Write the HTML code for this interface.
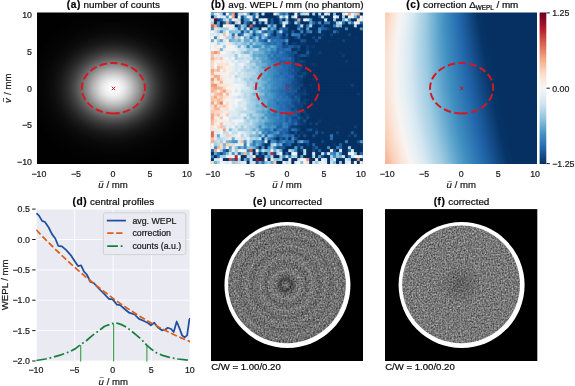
<!DOCTYPE html>
<html><head><meta charset="utf-8"><title>figure</title>
<style>html,body{margin:0;padding:0;background:#fff}svg{display:block}text{opacity:.999;stroke:#1a1a1a;stroke-width:.22px}</style></head>
<body>
<svg width="575" height="386" viewBox="0 0 575 386" font-family="'Liberation Sans', sans-serif" fill="#1a1a1a">
<defs>
<linearGradient id="cb" x1="0" y1="0" x2="0" y2="1"><stop offset="0.00" stop-color="#67001f"/><stop offset="0.05" stop-color="#8a0b25"/><stop offset="0.10" stop-color="#b1182b"/><stop offset="0.15" stop-color="#c43b3c"/><stop offset="0.20" stop-color="#d6604d"/><stop offset="0.25" stop-color="#e48066"/><stop offset="0.30" stop-color="#f3a481"/><stop offset="0.35" stop-color="#f8bfa4"/><stop offset="0.40" stop-color="#fddbc7"/><stop offset="0.45" stop-color="#fae9df"/><stop offset="0.50" stop-color="#f7f6f6"/><stop offset="0.55" stop-color="#e4eef4"/><stop offset="0.60" stop-color="#d1e5f0"/><stop offset="0.65" stop-color="#b1d5e7"/><stop offset="0.70" stop-color="#90c4dd"/><stop offset="0.75" stop-color="#6bacd1"/><stop offset="0.80" stop-color="#4393c3"/><stop offset="0.85" stop-color="#327cb7"/><stop offset="0.90" stop-color="#2065ab"/><stop offset="0.95" stop-color="#124984"/><stop offset="1.00" stop-color="#053061"/></linearGradient>
<linearGradient id="cg" gradientUnits="userSpaceOnUse"><stop offset="0.0000" stop-color="#a51429"/><stop offset="0.0357" stop-color="#c2383a"/><stop offset="0.0714" stop-color="#d86551"/><stop offset="0.1071" stop-color="#ea8e70"/><stop offset="0.1429" stop-color="#f6b394"/><stop offset="0.1786" stop-color="#fbd0b9"/><stop offset="0.2143" stop-color="#fbe5d8"/><stop offset="0.2500" stop-color="#f8f4f2"/><stop offset="0.2857" stop-color="#e7f0f4"/><stop offset="0.3214" stop-color="#d5e7f1"/><stop offset="0.3571" stop-color="#b8d8e9"/><stop offset="0.3929" stop-color="#9dcbe1"/><stop offset="0.4286" stop-color="#7bb6d6"/><stop offset="0.4643" stop-color="#59a1ca"/><stop offset="0.5000" stop-color="#3f8ec0"/><stop offset="0.5357" stop-color="#327cb7"/><stop offset="0.5714" stop-color="#246aae"/><stop offset="0.6071" stop-color="#1a5899"/><stop offset="0.6429" stop-color="#10457e"/><stop offset="0.6786" stop-color="#073467"/><stop offset="0.7143" stop-color="#053061"/><stop offset="0.7500" stop-color="#053061"/><stop offset="0.7857" stop-color="#053061"/><stop offset="0.8214" stop-color="#053061"/><stop offset="0.8571" stop-color="#053061"/><stop offset="0.8929" stop-color="#053061"/><stop offset="0.9286" stop-color="#053061"/><stop offset="0.9643" stop-color="#053061"/><stop offset="1.0000" stop-color="#053061"/></linearGradient>
<linearGradient id="c0" href="#cg" x1="355.35" y1="0" x2="535.28" y2="0"/><linearGradient id="c1" href="#cg" x1="354.60" y1="0" x2="536.12" y2="0"/><linearGradient id="c2" href="#cg" x1="353.87" y1="0" x2="536.96" y2="0"/><linearGradient id="c3" href="#cg" x1="353.15" y1="0" x2="537.79" y2="0"/><linearGradient id="c4" href="#cg" x1="352.46" y1="0" x2="538.61" y2="0"/><linearGradient id="c5" href="#cg" x1="351.78" y1="0" x2="539.42" y2="0"/><linearGradient id="c6" href="#cg" x1="351.13" y1="0" x2="540.23" y2="0"/><linearGradient id="c7" href="#cg" x1="350.49" y1="0" x2="541.04" y2="0"/><linearGradient id="c8" href="#cg" x1="349.88" y1="0" x2="541.83" y2="0"/><linearGradient id="c9" href="#cg" x1="349.28" y1="0" x2="542.62" y2="0"/><linearGradient id="c10" href="#cg" x1="348.71" y1="0" x2="543.40" y2="0"/><linearGradient id="c11" href="#cg" x1="348.15" y1="0" x2="544.18" y2="0"/><linearGradient id="c12" href="#cg" x1="347.62" y1="0" x2="544.95" y2="0"/><linearGradient id="c13" href="#cg" x1="347.10" y1="0" x2="545.71" y2="0"/><linearGradient id="c14" href="#cg" x1="346.61" y1="0" x2="546.47" y2="0"/><linearGradient id="c15" href="#cg" x1="346.13" y1="0" x2="547.22" y2="0"/><linearGradient id="c16" href="#cg" x1="345.68" y1="0" x2="547.96" y2="0"/><linearGradient id="c17" href="#cg" x1="345.24" y1="0" x2="548.70" y2="0"/><linearGradient id="c18" href="#cg" x1="344.83" y1="0" x2="549.43" y2="0"/><linearGradient id="c19" href="#cg" x1="344.43" y1="0" x2="550.15" y2="0"/><linearGradient id="c20" href="#cg" x1="344.06" y1="0" x2="550.87" y2="0"/><linearGradient id="c21" href="#cg" x1="343.70" y1="0" x2="551.58" y2="0"/><linearGradient id="c22" href="#cg" x1="343.36" y1="0" x2="552.29" y2="0"/><linearGradient id="c23" href="#cg" x1="343.05" y1="0" x2="552.99" y2="0"/><linearGradient id="c24" href="#cg" x1="342.75" y1="0" x2="553.68" y2="0"/><linearGradient id="c25" href="#cg" x1="342.48" y1="0" x2="554.36" y2="0"/><linearGradient id="c26" href="#cg" x1="342.22" y1="0" x2="555.04" y2="0"/><linearGradient id="c27" href="#cg" x1="341.98" y1="0" x2="555.71" y2="0"/><linearGradient id="c28" href="#cg" x1="341.77" y1="0" x2="556.38" y2="0"/><linearGradient id="c29" href="#cg" x1="341.57" y1="0" x2="557.04" y2="0"/><linearGradient id="c30" href="#cg" x1="341.39" y1="0" x2="557.69" y2="0"/><linearGradient id="c31" href="#cg" x1="341.24" y1="0" x2="558.34" y2="0"/><linearGradient id="c32" href="#cg" x1="341.10" y1="0" x2="558.98" y2="0"/><linearGradient id="c33" href="#cg" x1="340.98" y1="0" x2="559.61" y2="0"/><linearGradient id="c34" href="#cg" x1="340.88" y1="0" x2="560.24" y2="0"/><linearGradient id="c35" href="#cg" x1="340.81" y1="0" x2="560.86" y2="0"/><linearGradient id="c36" href="#cg" x1="340.75" y1="0" x2="561.47" y2="0"/><linearGradient id="c37" href="#cg" x1="340.71" y1="0" x2="562.08" y2="0"/><linearGradient id="c38" href="#cg" x1="340.70" y1="0" x2="562.68" y2="0"/><linearGradient id="c39" href="#cg" x1="340.70" y1="0" x2="563.27" y2="0"/><linearGradient id="c40" href="#cg" x1="340.72" y1="0" x2="563.86" y2="0"/><linearGradient id="c41" href="#cg" x1="340.76" y1="0" x2="564.44" y2="0"/><linearGradient id="c42" href="#cg" x1="340.82" y1="0" x2="565.01" y2="0"/><linearGradient id="c43" href="#cg" x1="340.91" y1="0" x2="565.58" y2="0"/><linearGradient id="c44" href="#cg" x1="341.01" y1="0" x2="566.14" y2="0"/><linearGradient id="c45" href="#cg" x1="341.13" y1="0" x2="566.70" y2="0"/><linearGradient id="c46" href="#cg" x1="341.27" y1="0" x2="567.25" y2="0"/><linearGradient id="c47" href="#cg" x1="341.43" y1="0" x2="567.79" y2="0"/><linearGradient id="c48" href="#cg" x1="341.61" y1="0" x2="568.32" y2="0"/><linearGradient id="c49" href="#cg" x1="341.82" y1="0" x2="568.85" y2="0"/><linearGradient id="c50" href="#cg" x1="342.04" y1="0" x2="569.38" y2="0"/><linearGradient id="c51" href="#cg" x1="342.28" y1="0" x2="569.89" y2="0"/><linearGradient id="c52" href="#cg" x1="342.54" y1="0" x2="570.40" y2="0"/><linearGradient id="c53" href="#cg" x1="342.82" y1="0" x2="570.90" y2="0"/><linearGradient id="c54" href="#cg" x1="343.12" y1="0" x2="571.40" y2="0"/><linearGradient id="c55" href="#cg" x1="343.44" y1="0" x2="571.89" y2="0"/><linearGradient id="c56" href="#cg" x1="343.78" y1="0" x2="572.37" y2="0"/><linearGradient id="c57" href="#cg" x1="344.14" y1="0" x2="572.85" y2="0"/><linearGradient id="c58" href="#cg" x1="344.52" y1="0" x2="573.32" y2="0"/><linearGradient id="c59" href="#cg" x1="344.92" y1="0" x2="573.79" y2="0"/><linearGradient id="c60" href="#cg" x1="345.34" y1="0" x2="574.24" y2="0"/><linearGradient id="c61" href="#cg" x1="345.78" y1="0" x2="574.69" y2="0"/><linearGradient id="c62" href="#cg" x1="346.24" y1="0" x2="575.14" y2="0"/><linearGradient id="c63" href="#cg" x1="346.72" y1="0" x2="575.58" y2="0"/><linearGradient id="c64" href="#cg" x1="347.22" y1="0" x2="576.01" y2="0"/><linearGradient id="c65" href="#cg" x1="347.74" y1="0" x2="576.43" y2="0"/><linearGradient id="c66" href="#cg" x1="348.28" y1="0" x2="576.85" y2="0"/><linearGradient id="c67" href="#cg" x1="348.84" y1="0" x2="577.26" y2="0"/><linearGradient id="c68" href="#cg" x1="349.42" y1="0" x2="577.67" y2="0"/><linearGradient id="c69" href="#cg" x1="350.02" y1="0" x2="578.07" y2="0"/><linearGradient id="c70" href="#cg" x1="350.64" y1="0" x2="578.46" y2="0"/><linearGradient id="c71" href="#cg" x1="351.28" y1="0" x2="578.84" y2="0"/><linearGradient id="c72" href="#cg" x1="351.94" y1="0" x2="579.22" y2="0"/><linearGradient id="c73" href="#cg" x1="352.62" y1="0" x2="579.60" y2="0"/><linearGradient id="c74" href="#cg" x1="353.32" y1="0" x2="579.96" y2="0"/><linearGradient id="c75" href="#cg" x1="354.04" y1="0" x2="580.32" y2="0"/>
<filter id="nz1" x="0" y="0" width="1" height="1" color-interpolation-filters="sRGB"><feTurbulence type="fractalNoise" baseFrequency="0.58 0.66" numOctaves="2" seed="3"/><feColorMatrix type="matrix" values="1 0 0 0 0  1 0 0 0 0  1 0 0 0 0  0 0 0 0 1" result="t1"/><feTurbulence type="fractalNoise" baseFrequency="0.73 0.52" numOctaves="1" seed="8"/><feColorMatrix type="matrix" values="1 0 0 0 0  1 0 0 0 0  1 0 0 0 0  0 0 0 0 1" result="t2"/><feComposite in="t1" in2="t2" operator="arithmetic" k1="0" k2="0.5" k3="0.5" k4="0" result="a"/><feColorMatrix in="a" type="matrix" values="0.96 0 0 0 -0.04  0.96 0 0 0 -0.04  0.96 0 0 0 -0.04  0 0 0 0 1" result="c"/><feGaussianBlur in="c" stdDeviation="0.6"/></filter>
<filter id="nz2" x="0" y="0" width="1" height="1" color-interpolation-filters="sRGB"><feTurbulence type="fractalNoise" baseFrequency="0.58 0.66" numOctaves="2" seed="11"/><feColorMatrix type="matrix" values="1 0 0 0 0  1 0 0 0 0  1 0 0 0 0  0 0 0 0 1" result="t1"/><feTurbulence type="fractalNoise" baseFrequency="0.73 0.52" numOctaves="1" seed="16"/><feColorMatrix type="matrix" values="1 0 0 0 0  1 0 0 0 0  1 0 0 0 0  0 0 0 0 1" result="t2"/><feComposite in="t1" in2="t2" operator="arithmetic" k1="0" k2="0.5" k3="0.5" k4="0" result="a"/><feColorMatrix in="a" type="matrix" values="0.96 0 0 0 -0.01  0.96 0 0 0 -0.01  0.96 0 0 0 -0.01  0 0 0 0 1" result="c"/><feGaussianBlur in="c" stdDeviation="0.6"/></filter>
<filter id="rb" x="-0.1" y="-0.1" width="1.2" height="1.2"><feGaussianBlur stdDeviation="1.3"/></filter>
<radialGradient id="rg" cx="0.5" cy="0.5" r="0.5"><stop offset="0.0000" stop-color="#fff" stop-opacity="0.1"/><stop offset="0.0371" stop-color="#000" stop-opacity="0.0"/><stop offset="0.0927" stop-color="#000" stop-opacity="0.4"/><stop offset="0.1433" stop-color="#000" stop-opacity="0.16"/><stop offset="0.1855" stop-color="#000" stop-opacity="0"/><stop offset="0.2361" stop-color="#fff" stop-opacity="0.13"/><stop offset="0.2867" stop-color="#fff" stop-opacity="0"/><stop offset="0.3373" stop-color="#000" stop-opacity="0.13"/><stop offset="0.3879" stop-color="#000" stop-opacity="0"/><stop offset="0.4384" stop-color="#fff" stop-opacity="0.11"/><stop offset="0.4975" stop-color="#fff" stop-opacity="0"/><stop offset="0.5565" stop-color="#000" stop-opacity="0.11"/><stop offset="0.6071" stop-color="#000" stop-opacity="0"/><stop offset="0.6577" stop-color="#fff" stop-opacity="0.09"/><stop offset="0.7083" stop-color="#fff" stop-opacity="0"/><stop offset="0.7589" stop-color="#000" stop-opacity="0.09"/><stop offset="0.8094" stop-color="#000" stop-opacity="0"/><stop offset="0.8600" stop-color="#fff" stop-opacity="0.07"/><stop offset="0.9106" stop-color="#fff" stop-opacity="0"/><stop offset="0.9612" stop-color="#000" stop-opacity="0.07"/><stop offset="1.0000" stop-color="#000" stop-opacity="0"/></radialGradient>
<radialGradient id="dk" cx="0.5" cy="0.5" r="0.5"><stop offset="0" stop-color="#000" stop-opacity="0.22"/><stop offset="1" stop-color="#000" stop-opacity="0"/></radialGradient>
</defs>
<rect width="575" height="386" fill="#fff"/>
<radialGradient id="ga1"><stop offset="0.0000" stop-color="#fff" stop-opacity="1.0000"/><stop offset="0.0385" stop-color="#fff" stop-opacity="0.9882"/><stop offset="0.0769" stop-color="#fff" stop-opacity="0.9538"/><stop offset="0.1154" stop-color="#fff" stop-opacity="0.8990"/><stop offset="0.1538" stop-color="#fff" stop-opacity="0.8275"/><stop offset="0.1923" stop-color="#fff" stop-opacity="0.7439"/><stop offset="0.2308" stop-color="#fff" stop-opacity="0.6531"/><stop offset="0.2692" stop-color="#fff" stop-opacity="0.5600"/><stop offset="0.3077" stop-color="#fff" stop-opacity="0.4689"/><stop offset="0.3462" stop-color="#fff" stop-opacity="0.3834"/><stop offset="0.3846" stop-color="#fff" stop-opacity="0.3062"/><stop offset="0.4231" stop-color="#fff" stop-opacity="0.2388"/><stop offset="0.4615" stop-color="#fff" stop-opacity="0.1819"/><stop offset="0.5000" stop-color="#fff" stop-opacity="0.1353"/><stop offset="0.5385" stop-color="#fff" stop-opacity="0.0983"/><stop offset="0.5769" stop-color="#fff" stop-opacity="0.0698"/><stop offset="0.6154" stop-color="#fff" stop-opacity="0.0483"/><stop offset="0.6538" stop-color="#fff" stop-opacity="0.0327"/><stop offset="0.6923" stop-color="#fff" stop-opacity="0.0216"/><stop offset="0.7308" stop-color="#fff" stop-opacity="0.0140"/><stop offset="0.7692" stop-color="#fff" stop-opacity="0.0088"/><stop offset="0.8077" stop-color="#fff" stop-opacity="0.0054"/><stop offset="0.8462" stop-color="#fff" stop-opacity="0.0033"/><stop offset="0.8846" stop-color="#fff" stop-opacity="0.0019"/><stop offset="0.9231" stop-color="#fff" stop-opacity="0.0011"/><stop offset="0.9615" stop-color="#fff" stop-opacity="0.0006"/><stop offset="1.0000" stop-color="#fff" stop-opacity="0.0003"/></radialGradient><radialGradient id="ga2"><stop offset="0.0000" stop-color="#fff" stop-opacity="0.0300"/><stop offset="0.0385" stop-color="#fff" stop-opacity="0.0296"/><stop offset="0.0769" stop-color="#fff" stop-opacity="0.0286"/><stop offset="0.1154" stop-color="#fff" stop-opacity="0.0270"/><stop offset="0.1538" stop-color="#fff" stop-opacity="0.0248"/><stop offset="0.1923" stop-color="#fff" stop-opacity="0.0223"/><stop offset="0.2308" stop-color="#fff" stop-opacity="0.0196"/><stop offset="0.2692" stop-color="#fff" stop-opacity="0.0168"/><stop offset="0.3077" stop-color="#fff" stop-opacity="0.0141"/><stop offset="0.3462" stop-color="#fff" stop-opacity="0.0115"/><stop offset="0.3846" stop-color="#fff" stop-opacity="0.0092"/><stop offset="0.4231" stop-color="#fff" stop-opacity="0.0072"/><stop offset="0.4615" stop-color="#fff" stop-opacity="0.0055"/><stop offset="0.5000" stop-color="#fff" stop-opacity="0.0041"/><stop offset="0.5385" stop-color="#fff" stop-opacity="0.0029"/><stop offset="0.5769" stop-color="#fff" stop-opacity="0.0021"/><stop offset="0.6154" stop-color="#fff" stop-opacity="0.0015"/><stop offset="0.6538" stop-color="#fff" stop-opacity="0.0010"/><stop offset="0.6923" stop-color="#fff" stop-opacity="0.0006"/><stop offset="0.7308" stop-color="#fff" stop-opacity="0.0004"/><stop offset="0.7692" stop-color="#fff" stop-opacity="0.0003"/><stop offset="0.8077" stop-color="#fff" stop-opacity="0.0002"/><stop offset="0.8462" stop-color="#fff" stop-opacity="0.0001"/><stop offset="0.8846" stop-color="#fff" stop-opacity="0.0001"/><stop offset="0.9231" stop-color="#fff" stop-opacity="0.0000"/><stop offset="0.9615" stop-color="#fff" stop-opacity="0.0000"/><stop offset="1.0000" stop-color="#fff" stop-opacity="0.0000"/></radialGradient>
<clipPath id="ak"><rect x="37.0" y="12.5" width="151.8" height="151.5"/></clipPath>
<rect x="37.0" y="12.5" width="151.8" height="151.5" fill="#000"/>
<g clip-path="url(#ak)"><ellipse cx="113.4" cy="88.2" rx="177.7" ry="177.4" fill="url(#ga2)"/><ellipse cx="113.4" cy="88.2" rx="96.3" ry="82.8" fill="url(#ga1)"/></g>
<rect x="210.9" y="12.5" width="151.9" height="151.5" fill="#08306b"/>
<clipPath id="cb_k"><rect x="0" y="0" width="151.90" height="151.50"/></clipPath><g transform="translate(210.9 12.5)" clip-path="url(#cb_k)"><defs><rect id="cb_" width="3.98" height="3.97"/></defs><use href="#cb_" x="0" y="0" fill="#65a9cf"/><use href="#cb_" x="3" y="0" fill="#d7e8f1"/><use href="#cb_" x="6" y="0" fill="#ddebf2"/><use href="#cb_" x="8.9" y="0" fill="#aed3e6"/><use href="#cb_" x="11.9" y="0" fill="#0f437b"/><use href="#cb_" x="14.9" y="0" fill="#f6f7f7"/><use href="#cb_" x="17.9" y="0" fill="#59a1ca"/><use href="#cb_" x="20.8" y="0" fill="#f09c7b"/><use href="#cb_" x="23.8" y="0" fill="#063264"/><use href="#cb_" x="26.8" y="0" fill="#bbdaea"/><use href="#cb_" x="29.8" y="0" fill="#b8d8e9"/><use href="#cb_" x="32.8" y="0" fill="#edf2f5"/><use href="#cb_" x="35.7" y="0" fill="#71b0d3"/><use href="#cb_" x="38.7" y="0" fill="#053061"/><use href="#cb_" x="41.7" y="0" fill="#2b73b3"/><use href="#cb_" x="44.7" y="0" fill="#a9d1e5"/><use href="#cb_" x="47.7" y="0" fill="#053061"/><use href="#cb_" x="50.6" y="0" fill="#d2e6f0"/><use href="#cb_" x="53.6" y="0" fill="#053061"/><use href="#cb_" x="56.6" y="0" fill="#053061"/><use href="#cb_" x="59.6" y="0" fill="#053061"/><use href="#cb_" x="62.5" y="0" fill="#edf2f5"/><use href="#cb_" x="65.5" y="0" fill="#9bc9e0"/><use href="#cb_" x="68.5" y="0" fill="#3681ba"/><use href="#cb_" x="71.5" y="0" fill="#2369ad"/><use href="#cb_" x="74.5" y="0" fill="#569fc9"/><use href="#cb_" x="77.4" y="0" fill="#053061"/><use href="#cb_" x="80.4" y="0" fill="#053061"/><use href="#cb_" x="83.4" y="0" fill="#e9f0f4"/><use href="#cb_" x="86.4" y="0" fill="#10457e"/><use href="#cb_" x="89.4" y="0" fill="#aed3e6"/><use href="#cb_" x="92.3" y="0" fill="#c2ddec"/><use href="#cb_" x="95.3" y="0" fill="#cae1ee"/><use href="#cb_" x="98.3" y="0" fill="#053061"/><use href="#cb_" x="101.3" y="0" fill="#a9d1e5"/><use href="#cb_" x="104.2" y="0" fill="#053061"/><use href="#cb_" x="107.2" y="0" fill="#b6d7e8"/><use href="#cb_" x="110.2" y="0" fill="#053061"/><use href="#cb_" x="113.2" y="0" fill="#e3edf3"/><use href="#cb_" x="116.2" y="0" fill="#c0dceb"/><use href="#cb_" x="119.1" y="0" fill="#053061"/><use href="#cb_" x="122.1" y="0" fill="#8ac0db"/><use href="#cb_" x="125.1" y="0" fill="#053061"/><use href="#cb_" x="128.1" y="0" fill="#053061"/><use href="#cb_" x="131.1" y="0" fill="#d8e9f1"/><use href="#cb_" x="134" y="0" fill="#f3f5f6"/><use href="#cb_" x="137" y="0" fill="#f3a481"/><use href="#cb_" x="140" y="0" fill="#e6eff4"/><use href="#cb_" x="143" y="0" fill="#bddbea"/><use href="#cb_" x="145.9" y="0" fill="#f5aa89"/><use href="#cb_" x="148.9" y="0" fill="#053061"/><use href="#cb_" x="0" y="3" fill="#053061"/><use href="#cb_" x="3" y="3" fill="#8dc2dc"/><use href="#cb_" x="6" y="3" fill="#e9f0f4"/><use href="#cb_" x="8.9" y="3" fill="#d2e6f0"/><use href="#cb_" x="11.9" y="3" fill="#e0ecf3"/><use href="#cb_" x="14.9" y="3" fill="#4c99c6"/><use href="#cb_" x="17.9" y="3" fill="#f0f4f6"/><use href="#cb_" x="20.8" y="3" fill="#f4a683"/><use href="#cb_" x="23.8" y="3" fill="#053061"/><use href="#cb_" x="26.8" y="3" fill="#f3f5f6"/><use href="#cb_" x="29.8" y="3" fill="#124984"/><use href="#cb_" x="32.8" y="3" fill="#59a1ca"/><use href="#cb_" x="35.7" y="3" fill="#e4eef4"/><use href="#cb_" x="38.7" y="3" fill="#d4e6f1"/><use href="#cb_" x="41.7" y="3" fill="#1f63a8"/><use href="#cb_" x="44.7" y="3" fill="#dbeaf2"/><use href="#cb_" x="47.7" y="3" fill="#063264"/><use href="#cb_" x="50.6" y="3" fill="#053061"/><use href="#cb_" x="53.6" y="3" fill="#053061"/><use href="#cb_" x="56.6" y="3" fill="#053061"/><use href="#cb_" x="59.6" y="3" fill="#053061"/><use href="#cb_" x="62.5" y="3" fill="#053061"/><use href="#cb_" x="65.5" y="3" fill="#134c87"/><use href="#cb_" x="68.5" y="3" fill="#e6eff4"/><use href="#cb_" x="71.5" y="3" fill="#7bb6d6"/><use href="#cb_" x="74.5" y="3" fill="#f0f4f6"/><use href="#cb_" x="77.4" y="3" fill="#053061"/><use href="#cb_" x="80.4" y="3" fill="#b1d5e7"/><use href="#cb_" x="83.4" y="3" fill="#f0f4f6"/><use href="#cb_" x="86.4" y="3" fill="#053061"/><use href="#cb_" x="89.4" y="3" fill="#053061"/><use href="#cb_" x="92.3" y="3" fill="#053061"/><use href="#cb_" x="95.3" y="3" fill="#053061"/><use href="#cb_" x="98.3" y="3" fill="#053061"/><use href="#cb_" x="101.3" y="3" fill="#053061"/><use href="#cb_" x="104.2" y="3" fill="#053061"/><use href="#cb_" x="107.2" y="3" fill="#185493"/><use href="#cb_" x="110.2" y="3" fill="#d1e5f0"/><use href="#cb_" x="113.2" y="3" fill="#053061"/><use href="#cb_" x="116.2" y="3" fill="#053061"/><use href="#cb_" x="119.1" y="3" fill="#053061"/><use href="#cb_" x="122.1" y="3" fill="#eff3f5"/><use href="#cb_" x="125.1" y="3" fill="#cfe4ef"/><use href="#cb_" x="128.1" y="3" fill="#053061"/><use href="#cb_" x="131.1" y="3" fill="#a9d1e5"/><use href="#cb_" x="134" y="3" fill="#053061"/><use href="#cb_" x="137" y="3" fill="#eff3f5"/><use href="#cb_" x="140" y="3" fill="#f3f5f6"/><use href="#cb_" x="143" y="3" fill="#7bb6d6"/><use href="#cb_" x="145.9" y="3" fill="#1b5a9c"/><use href="#cb_" x="148.9" y="3" fill="#f5f6f7"/><use href="#cb_" x="0" y="5.9" fill="#e0ecf3"/><use href="#cb_" x="3" y="5.9" fill="#730421"/><use href="#cb_" x="6" y="5.9" fill="#0e4179"/><use href="#cb_" x="8.9" y="5.9" fill="#1e61a5"/><use href="#cb_" x="11.9" y="5.9" fill="#a5cee3"/><use href="#cb_" x="14.9" y="5.9" fill="#d2e6f0"/><use href="#cb_" x="17.9" y="5.9" fill="#4393c3"/><use href="#cb_" x="20.8" y="5.9" fill="#e6eff4"/><use href="#cb_" x="23.8" y="5.9" fill="#deebf2"/><use href="#cb_" x="26.8" y="5.9" fill="#c0dceb"/><use href="#cb_" x="29.8" y="5.9" fill="#053061"/><use href="#cb_" x="32.8" y="5.9" fill="#3e8cbf"/><use href="#cb_" x="35.7" y="5.9" fill="#4695c4"/><use href="#cb_" x="38.7" y="5.9" fill="#d1e5f0"/><use href="#cb_" x="41.7" y="5.9" fill="#15508d"/><use href="#cb_" x="44.7" y="5.9" fill="#053061"/><use href="#cb_" x="47.7" y="5.9" fill="#d2e6f0"/><use href="#cb_" x="50.6" y="5.9" fill="#e7f0f4"/><use href="#cb_" x="53.6" y="5.9" fill="#f6f7f7"/><use href="#cb_" x="56.6" y="5.9" fill="#053061"/><use href="#cb_" x="59.6" y="5.9" fill="#1c5c9f"/><use href="#cb_" x="62.5" y="5.9" fill="#053061"/><use href="#cb_" x="65.5" y="5.9" fill="#053061"/><use href="#cb_" x="68.5" y="5.9" fill="#3a87bd"/><use href="#cb_" x="71.5" y="5.9" fill="#053061"/><use href="#cb_" x="74.5" y="5.9" fill="#7bb6d6"/><use href="#cb_" x="77.4" y="5.9" fill="#053061"/><use href="#cb_" x="80.4" y="5.9" fill="#053061"/><use href="#cb_" x="83.4" y="5.9" fill="#195696"/><use href="#cb_" x="86.4" y="5.9" fill="#f2a17f"/><use href="#cb_" x="89.4" y="5.9" fill="#0e4179"/><use href="#cb_" x="92.3" y="5.9" fill="#eff3f5"/><use href="#cb_" x="95.3" y="5.9" fill="#cfe4ef"/><use href="#cb_" x="98.3" y="5.9" fill="#4f9bc7"/><use href="#cb_" x="101.3" y="5.9" fill="#053061"/><use href="#cb_" x="104.2" y="5.9" fill="#053061"/><use href="#cb_" x="107.2" y="5.9" fill="#053061"/><use href="#cb_" x="110.2" y="5.9" fill="#053061"/><use href="#cb_" x="113.2" y="5.9" fill="#d8e9f1"/><use href="#cb_" x="116.2" y="5.9" fill="#053061"/><use href="#cb_" x="119.1" y="5.9" fill="#053061"/><use href="#cb_" x="122.1" y="5.9" fill="#90c4dd"/><use href="#cb_" x="125.1" y="5.9" fill="#053061"/><use href="#cb_" x="128.1" y="5.9" fill="#053061"/><use href="#cb_" x="131.1" y="5.9" fill="#71b0d3"/><use href="#cb_" x="134" y="5.9" fill="#e4eef4"/><use href="#cb_" x="137" y="5.9" fill="#3a87bd"/><use href="#cb_" x="140" y="5.9" fill="#053061"/><use href="#cb_" x="143" y="5.9" fill="#053061"/><use href="#cb_" x="145.9" y="5.9" fill="#fddcc9"/><use href="#cb_" x="148.9" y="5.9" fill="#f8f2ef"/><use href="#cb_" x="0" y="8.9" fill="#aed3e6"/><use href="#cb_" x="3" y="8.9" fill="#053061"/><use href="#cb_" x="6" y="8.9" fill="#5ca3cb"/><use href="#cb_" x="8.9" y="8.9" fill="#053061"/><use href="#cb_" x="11.9" y="8.9" fill="#1d5fa2"/><use href="#cb_" x="14.9" y="8.9" fill="#f3a481"/><use href="#cb_" x="17.9" y="8.9" fill="#2369ad"/><use href="#cb_" x="20.8" y="8.9" fill="#073467"/><use href="#cb_" x="23.8" y="8.9" fill="#acd2e5"/><use href="#cb_" x="26.8" y="8.9" fill="#fcdfcf"/><use href="#cb_" x="29.8" y="8.9" fill="#053061"/><use href="#cb_" x="32.8" y="8.9" fill="#3b88be"/><use href="#cb_" x="35.7" y="8.9" fill="#185493"/><use href="#cb_" x="38.7" y="8.9" fill="#053061"/><use href="#cb_" x="41.7" y="8.9" fill="#b3d6e8"/><use href="#cb_" x="44.7" y="8.9" fill="#053061"/><use href="#cb_" x="47.7" y="8.9" fill="#3b88be"/><use href="#cb_" x="50.6" y="8.9" fill="#053061"/><use href="#cb_" x="53.6" y="8.9" fill="#b6d7e8"/><use href="#cb_" x="56.6" y="8.9" fill="#073467"/><use href="#cb_" x="59.6" y="8.9" fill="#1d5fa2"/><use href="#cb_" x="62.5" y="8.9" fill="#053061"/><use href="#cb_" x="65.5" y="8.9" fill="#053061"/><use href="#cb_" x="68.5" y="8.9" fill="#276eb0"/><use href="#cb_" x="71.5" y="8.9" fill="#e0ecf3"/><use href="#cb_" x="74.5" y="8.9" fill="#b3d6e8"/><use href="#cb_" x="77.4" y="8.9" fill="#10457e"/><use href="#cb_" x="80.4" y="8.9" fill="#053061"/><use href="#cb_" x="83.4" y="8.9" fill="#acd2e5"/><use href="#cb_" x="86.4" y="8.9" fill="#327cb7"/><use href="#cb_" x="89.4" y="8.9" fill="#053061"/><use href="#cb_" x="92.3" y="8.9" fill="#053061"/><use href="#cb_" x="95.3" y="8.9" fill="#053061"/><use href="#cb_" x="98.3" y="8.9" fill="#5ca3cb"/><use href="#cb_" x="101.3" y="8.9" fill="#246aae"/><use href="#cb_" x="104.2" y="8.9" fill="#0e4179"/><use href="#cb_" x="107.2" y="8.9" fill="#4291c2"/><use href="#cb_" x="110.2" y="8.9" fill="#053061"/><use href="#cb_" x="113.2" y="8.9" fill="#307ab6"/><use href="#cb_" x="116.2" y="8.9" fill="#307ab6"/><use href="#cb_" x="119.1" y="8.9" fill="#053061"/><use href="#cb_" x="122.1" y="8.9" fill="#0f437b"/><use href="#cb_" x="125.1" y="8.9" fill="#a5cee3"/><use href="#cb_" x="128.1" y="8.9" fill="#d7e8f1"/><use href="#cb_" x="131.1" y="8.9" fill="#2a71b2"/><use href="#cb_" x="134" y="8.9" fill="#053061"/><use href="#cb_" x="137" y="8.9" fill="#7eb8d7"/><use href="#cb_" x="140" y="8.9" fill="#307ab6"/><use href="#cb_" x="143" y="8.9" fill="#f0f4f6"/><use href="#cb_" x="145.9" y="8.9" fill="#deebf2"/><use href="#cb_" x="148.9" y="8.9" fill="#246aae"/><use href="#cb_" x="0" y="11.9" fill="#d7634f"/><use href="#cb_" x="3" y="11.9" fill="#f5aa89"/><use href="#cb_" x="6" y="11.9" fill="#4393c3"/><use href="#cb_" x="8.9" y="11.9" fill="#053061"/><use href="#cb_" x="11.9" y="11.9" fill="#f6f7f7"/><use href="#cb_" x="14.9" y="11.9" fill="#f9eee7"/><use href="#cb_" x="17.9" y="11.9" fill="#f9efe9"/><use href="#cb_" x="20.8" y="11.9" fill="#eaf1f5"/><use href="#cb_" x="23.8" y="11.9" fill="#053061"/><use href="#cb_" x="26.8" y="11.9" fill="#2369ad"/><use href="#cb_" x="29.8" y="11.9" fill="#98c8e0"/><use href="#cb_" x="32.8" y="11.9" fill="#6bacd1"/><use href="#cb_" x="35.7" y="11.9" fill="#053061"/><use href="#cb_" x="38.7" y="11.9" fill="#d35a4a"/><use href="#cb_" x="41.7" y="11.9" fill="#0f437b"/><use href="#cb_" x="44.7" y="11.9" fill="#053061"/><use href="#cb_" x="47.7" y="11.9" fill="#053061"/><use href="#cb_" x="50.6" y="11.9" fill="#053061"/><use href="#cb_" x="53.6" y="11.9" fill="#053061"/><use href="#cb_" x="56.6" y="11.9" fill="#93c6de"/><use href="#cb_" x="59.6" y="11.9" fill="#266caf"/><use href="#cb_" x="62.5" y="11.9" fill="#81bad8"/><use href="#cb_" x="65.5" y="11.9" fill="#053061"/><use href="#cb_" x="68.5" y="11.9" fill="#053061"/><use href="#cb_" x="71.5" y="11.9" fill="#f0f4f6"/><use href="#cb_" x="74.5" y="11.9" fill="#053061"/><use href="#cb_" x="77.4" y="11.9" fill="#063264"/><use href="#cb_" x="80.4" y="11.9" fill="#053061"/><use href="#cb_" x="83.4" y="11.9" fill="#053061"/><use href="#cb_" x="86.4" y="11.9" fill="#1b5a9c"/><use href="#cb_" x="89.4" y="11.9" fill="#c2ddec"/><use href="#cb_" x="92.3" y="11.9" fill="#053061"/><use href="#cb_" x="95.3" y="11.9" fill="#307ab6"/><use href="#cb_" x="98.3" y="11.9" fill="#b6d7e8"/><use href="#cb_" x="101.3" y="11.9" fill="#053061"/><use href="#cb_" x="104.2" y="11.9" fill="#053061"/><use href="#cb_" x="107.2" y="11.9" fill="#053061"/><use href="#cb_" x="110.2" y="11.9" fill="#1a5899"/><use href="#cb_" x="113.2" y="11.9" fill="#053061"/><use href="#cb_" x="116.2" y="11.9" fill="#053061"/><use href="#cb_" x="119.1" y="11.9" fill="#053061"/><use href="#cb_" x="122.1" y="11.9" fill="#2f79b5"/><use href="#cb_" x="125.1" y="11.9" fill="#9dcbe1"/><use href="#cb_" x="128.1" y="11.9" fill="#75b2d4"/><use href="#cb_" x="131.1" y="11.9" fill="#053061"/><use href="#cb_" x="134" y="11.9" fill="#053061"/><use href="#cb_" x="137" y="11.9" fill="#053061"/><use href="#cb_" x="140" y="11.9" fill="#053061"/><use href="#cb_" x="143" y="11.9" fill="#c0dceb"/><use href="#cb_" x="145.9" y="11.9" fill="#053061"/><use href="#cb_" x="148.9" y="11.9" fill="#053061"/><use href="#cb_" x="0" y="14.9" fill="#3e8cbf"/><use href="#cb_" x="3" y="14.9" fill="#fddcc9"/><use href="#cb_" x="6" y="14.9" fill="#cce2ef"/><use href="#cb_" x="8.9" y="14.9" fill="#b8d8e9"/><use href="#cb_" x="11.9" y="14.9" fill="#a5cee3"/><use href="#cb_" x="14.9" y="14.9" fill="#a9d1e5"/><use href="#cb_" x="17.9" y="14.9" fill="#eaf1f5"/><use href="#cb_" x="20.8" y="14.9" fill="#d4e6f1"/><use href="#cb_" x="23.8" y="14.9" fill="#a9d1e5"/><use href="#cb_" x="26.8" y="14.9" fill="#2369ad"/><use href="#cb_" x="29.8" y="14.9" fill="#b8d8e9"/><use href="#cb_" x="32.8" y="14.9" fill="#307ab6"/><use href="#cb_" x="35.7" y="14.9" fill="#dbeaf2"/><use href="#cb_" x="38.7" y="14.9" fill="#0a3b70"/><use href="#cb_" x="41.7" y="14.9" fill="#408fc1"/><use href="#cb_" x="44.7" y="14.9" fill="#4393c3"/><use href="#cb_" x="47.7" y="14.9" fill="#053061"/><use href="#cb_" x="50.6" y="14.9" fill="#e0ecf3"/><use href="#cb_" x="53.6" y="14.9" fill="#c5dfec"/><use href="#cb_" x="56.6" y="14.9" fill="#185493"/><use href="#cb_" x="59.6" y="14.9" fill="#68abd0"/><use href="#cb_" x="62.5" y="14.9" fill="#3b88be"/><use href="#cb_" x="65.5" y="14.9" fill="#053061"/><use href="#cb_" x="68.5" y="14.9" fill="#2c75b4"/><use href="#cb_" x="71.5" y="14.9" fill="#1a5899"/><use href="#cb_" x="74.5" y="14.9" fill="#1c5c9f"/><use href="#cb_" x="77.4" y="14.9" fill="#053061"/><use href="#cb_" x="80.4" y="14.9" fill="#053061"/><use href="#cb_" x="83.4" y="14.9" fill="#053061"/><use href="#cb_" x="86.4" y="14.9" fill="#4393c3"/><use href="#cb_" x="89.4" y="14.9" fill="#144e8a"/><use href="#cb_" x="92.3" y="14.9" fill="#053061"/><use href="#cb_" x="95.3" y="14.9" fill="#529dc8"/><use href="#cb_" x="98.3" y="14.9" fill="#053061"/><use href="#cb_" x="101.3" y="14.9" fill="#053061"/><use href="#cb_" x="104.2" y="14.9" fill="#053061"/><use href="#cb_" x="107.2" y="14.9" fill="#408fc1"/><use href="#cb_" x="110.2" y="14.9" fill="#1e61a5"/><use href="#cb_" x="113.2" y="14.9" fill="#1b5a9c"/><use href="#cb_" x="116.2" y="14.9" fill="#0e4179"/><use href="#cb_" x="119.1" y="14.9" fill="#053061"/><use href="#cb_" x="122.1" y="14.9" fill="#053061"/><use href="#cb_" x="125.1" y="14.9" fill="#053061"/><use href="#cb_" x="128.1" y="14.9" fill="#053061"/><use href="#cb_" x="131.1" y="14.9" fill="#053061"/><use href="#cb_" x="134" y="14.9" fill="#3a87bd"/><use href="#cb_" x="137" y="14.9" fill="#053061"/><use href="#cb_" x="140" y="14.9" fill="#053061"/><use href="#cb_" x="143" y="14.9" fill="#053061"/><use href="#cb_" x="145.9" y="14.9" fill="#053061"/><use href="#cb_" x="148.9" y="14.9" fill="#4393c3"/><use href="#cb_" x="0" y="17.8" fill="#f5f6f7"/><use href="#cb_" x="3" y="17.8" fill="#d2e6f0"/><use href="#cb_" x="6" y="17.8" fill="#a2cde3"/><use href="#cb_" x="8.9" y="17.8" fill="#3f8ec0"/><use href="#cb_" x="11.9" y="17.8" fill="#b3d6e8"/><use href="#cb_" x="14.9" y="17.8" fill="#f3f5f6"/><use href="#cb_" x="17.9" y="17.8" fill="#81bad8"/><use href="#cb_" x="20.8" y="17.8" fill="#8dc2dc"/><use href="#cb_" x="23.8" y="17.8" fill="#84bcd9"/><use href="#cb_" x="26.8" y="17.8" fill="#a0cce2"/><use href="#cb_" x="29.8" y="17.8" fill="#15508d"/><use href="#cb_" x="32.8" y="17.8" fill="#65a9cf"/><use href="#cb_" x="35.7" y="17.8" fill="#2f79b5"/><use href="#cb_" x="38.7" y="17.8" fill="#bddbea"/><use href="#cb_" x="41.7" y="17.8" fill="#2a71b2"/><use href="#cb_" x="44.7" y="17.8" fill="#8ac0db"/><use href="#cb_" x="47.7" y="17.8" fill="#d1e5f0"/><use href="#cb_" x="50.6" y="17.8" fill="#2e77b5"/><use href="#cb_" x="53.6" y="17.8" fill="#1c5c9f"/><use href="#cb_" x="56.6" y="17.8" fill="#3885bc"/><use href="#cb_" x="59.6" y="17.8" fill="#2c75b4"/><use href="#cb_" x="62.5" y="17.8" fill="#053061"/><use href="#cb_" x="65.5" y="17.8" fill="#3a87bd"/><use href="#cb_" x="68.5" y="17.8" fill="#b6d7e8"/><use href="#cb_" x="71.5" y="17.8" fill="#144e8a"/><use href="#cb_" x="74.5" y="17.8" fill="#124984"/><use href="#cb_" x="77.4" y="17.8" fill="#053061"/><use href="#cb_" x="80.4" y="17.8" fill="#1d5fa2"/><use href="#cb_" x="83.4" y="17.8" fill="#053061"/><use href="#cb_" x="86.4" y="17.8" fill="#053061"/><use href="#cb_" x="89.4" y="17.8" fill="#3a87bd"/><use href="#cb_" x="92.3" y="17.8" fill="#053061"/><use href="#cb_" x="95.3" y="17.8" fill="#2a71b2"/><use href="#cb_" x="98.3" y="17.8" fill="#3a87bd"/><use href="#cb_" x="101.3" y="17.8" fill="#053061"/><use href="#cb_" x="104.2" y="17.8" fill="#0c3d73"/><use href="#cb_" x="107.2" y="17.8" fill="#4695c4"/><use href="#cb_" x="110.2" y="17.8" fill="#053061"/><use href="#cb_" x="113.2" y="17.8" fill="#053061"/><use href="#cb_" x="116.2" y="17.8" fill="#053061"/><use href="#cb_" x="119.1" y="17.8" fill="#053061"/><use href="#cb_" x="122.1" y="17.8" fill="#2a71b2"/><use href="#cb_" x="125.1" y="17.8" fill="#124984"/><use href="#cb_" x="128.1" y="17.8" fill="#053061"/><use href="#cb_" x="131.1" y="17.8" fill="#053061"/><use href="#cb_" x="134" y="17.8" fill="#053061"/><use href="#cb_" x="137" y="17.8" fill="#053061"/><use href="#cb_" x="140" y="17.8" fill="#053061"/><use href="#cb_" x="143" y="17.8" fill="#053061"/><use href="#cb_" x="145.9" y="17.8" fill="#053061"/><use href="#cb_" x="148.9" y="17.8" fill="#053061"/><use href="#cb_" x="0" y="20.8" fill="#d7e8f1"/><use href="#cb_" x="3" y="20.8" fill="#e3edf3"/><use href="#cb_" x="6" y="20.8" fill="#cfe4ef"/><use href="#cb_" x="8.9" y="20.8" fill="#ecf2f5"/><use href="#cb_" x="11.9" y="20.8" fill="#f9c2a7"/><use href="#cb_" x="14.9" y="20.8" fill="#e4eef4"/><use href="#cb_" x="17.9" y="20.8" fill="#bbdaea"/><use href="#cb_" x="20.8" y="20.8" fill="#2a71b2"/><use href="#cb_" x="23.8" y="20.8" fill="#c7e0ed"/><use href="#cb_" x="26.8" y="20.8" fill="#1b5a9c"/><use href="#cb_" x="29.8" y="20.8" fill="#2c75b4"/><use href="#cb_" x="32.8" y="20.8" fill="#cce2ef"/><use href="#cb_" x="35.7" y="20.8" fill="#b6d7e8"/><use href="#cb_" x="38.7" y="20.8" fill="#62a7ce"/><use href="#cb_" x="41.7" y="20.8" fill="#124984"/><use href="#cb_" x="44.7" y="20.8" fill="#3c8abe"/><use href="#cb_" x="47.7" y="20.8" fill="#2b73b3"/><use href="#cb_" x="50.6" y="20.8" fill="#71b0d3"/><use href="#cb_" x="53.6" y="20.8" fill="#d7e8f1"/><use href="#cb_" x="56.6" y="20.8" fill="#3b88be"/><use href="#cb_" x="59.6" y="20.8" fill="#144e8a"/><use href="#cb_" x="62.5" y="20.8" fill="#063264"/><use href="#cb_" x="65.5" y="20.8" fill="#246aae"/><use href="#cb_" x="68.5" y="20.8" fill="#1d5fa2"/><use href="#cb_" x="71.5" y="20.8" fill="#053061"/><use href="#cb_" x="74.5" y="20.8" fill="#1e61a5"/><use href="#cb_" x="77.4" y="20.8" fill="#053061"/><use href="#cb_" x="80.4" y="20.8" fill="#3783bb"/><use href="#cb_" x="83.4" y="20.8" fill="#307ab6"/><use href="#cb_" x="86.4" y="20.8" fill="#2e77b5"/><use href="#cb_" x="89.4" y="20.8" fill="#053061"/><use href="#cb_" x="92.3" y="20.8" fill="#134c87"/><use href="#cb_" x="95.3" y="20.8" fill="#053061"/><use href="#cb_" x="98.3" y="20.8" fill="#053061"/><use href="#cb_" x="101.3" y="20.8" fill="#053061"/><use href="#cb_" x="104.2" y="20.8" fill="#053061"/><use href="#cb_" x="107.2" y="20.8" fill="#053061"/><use href="#cb_" x="110.2" y="20.8" fill="#0c3d73"/><use href="#cb_" x="113.2" y="20.8" fill="#053061"/><use href="#cb_" x="116.2" y="20.8" fill="#053061"/><use href="#cb_" x="119.1" y="20.8" fill="#0f437b"/><use href="#cb_" x="122.1" y="20.8" fill="#053061"/><use href="#cb_" x="125.1" y="20.8" fill="#053061"/><use href="#cb_" x="128.1" y="20.8" fill="#053061"/><use href="#cb_" x="131.1" y="20.8" fill="#053061"/><use href="#cb_" x="134" y="20.8" fill="#053061"/><use href="#cb_" x="137" y="20.8" fill="#0f437b"/><use href="#cb_" x="140" y="20.8" fill="#053061"/><use href="#cb_" x="143" y="20.8" fill="#053061"/><use href="#cb_" x="145.9" y="20.8" fill="#053061"/><use href="#cb_" x="148.9" y="20.8" fill="#053061"/><use href="#cb_" x="0" y="23.8" fill="#f7f6f6"/><use href="#cb_" x="3" y="23.8" fill="#3c8abe"/><use href="#cb_" x="6" y="23.8" fill="#fddbc7"/><use href="#cb_" x="8.9" y="23.8" fill="#f3f5f6"/><use href="#cb_" x="11.9" y="23.8" fill="#fbe4d6"/><use href="#cb_" x="14.9" y="23.8" fill="#aed3e6"/><use href="#cb_" x="17.9" y="23.8" fill="#aed3e6"/><use href="#cb_" x="20.8" y="23.8" fill="#62a7ce"/><use href="#cb_" x="23.8" y="23.8" fill="#fbccb4"/><use href="#cb_" x="26.8" y="23.8" fill="#9dcbe1"/><use href="#cb_" x="29.8" y="23.8" fill="#f2f5f6"/><use href="#cb_" x="32.8" y="23.8" fill="#62a7ce"/><use href="#cb_" x="35.7" y="23.8" fill="#93c6de"/><use href="#cb_" x="38.7" y="23.8" fill="#246aae"/><use href="#cb_" x="41.7" y="23.8" fill="#4f9bc7"/><use href="#cb_" x="44.7" y="23.8" fill="#a2cde3"/><use href="#cb_" x="47.7" y="23.8" fill="#2267ac"/><use href="#cb_" x="50.6" y="23.8" fill="#8dc2dc"/><use href="#cb_" x="53.6" y="23.8" fill="#4997c5"/><use href="#cb_" x="56.6" y="23.8" fill="#195696"/><use href="#cb_" x="59.6" y="23.8" fill="#2065ab"/><use href="#cb_" x="62.5" y="23.8" fill="#1e61a5"/><use href="#cb_" x="65.5" y="23.8" fill="#276eb0"/><use href="#cb_" x="68.5" y="23.8" fill="#175290"/><use href="#cb_" x="71.5" y="23.8" fill="#0d3f76"/><use href="#cb_" x="74.5" y="23.8" fill="#144e8a"/><use href="#cb_" x="77.4" y="23.8" fill="#053061"/><use href="#cb_" x="80.4" y="23.8" fill="#053061"/><use href="#cb_" x="83.4" y="23.8" fill="#0e4179"/><use href="#cb_" x="86.4" y="23.8" fill="#2267ac"/><use href="#cb_" x="89.4" y="23.8" fill="#053061"/><use href="#cb_" x="92.3" y="23.8" fill="#053061"/><use href="#cb_" x="95.3" y="23.8" fill="#053061"/><use href="#cb_" x="98.3" y="23.8" fill="#053061"/><use href="#cb_" x="101.3" y="23.8" fill="#114781"/><use href="#cb_" x="104.2" y="23.8" fill="#053061"/><use href="#cb_" x="107.2" y="23.8" fill="#1c5c9f"/><use href="#cb_" x="110.2" y="23.8" fill="#053061"/><use href="#cb_" x="113.2" y="23.8" fill="#053061"/><use href="#cb_" x="116.2" y="23.8" fill="#053061"/><use href="#cb_" x="119.1" y="23.8" fill="#053061"/><use href="#cb_" x="122.1" y="23.8" fill="#053061"/><use href="#cb_" x="125.1" y="23.8" fill="#053061"/><use href="#cb_" x="128.1" y="23.8" fill="#053061"/><use href="#cb_" x="131.1" y="23.8" fill="#053061"/><use href="#cb_" x="134" y="23.8" fill="#053061"/><use href="#cb_" x="137" y="23.8" fill="#053061"/><use href="#cb_" x="140" y="23.8" fill="#053061"/><use href="#cb_" x="143" y="23.8" fill="#073467"/><use href="#cb_" x="145.9" y="23.8" fill="#053061"/><use href="#cb_" x="148.9" y="23.8" fill="#053061"/><use href="#cb_" x="0" y="26.7" fill="#68abd0"/><use href="#cb_" x="3" y="26.7" fill="#f9f0eb"/><use href="#cb_" x="6" y="26.7" fill="#9dcbe1"/><use href="#cb_" x="8.9" y="26.7" fill="#5fa5cd"/><use href="#cb_" x="11.9" y="26.7" fill="#d7e8f1"/><use href="#cb_" x="14.9" y="26.7" fill="#f8f1ed"/><use href="#cb_" x="17.9" y="26.7" fill="#65a9cf"/><use href="#cb_" x="20.8" y="26.7" fill="#81bad8"/><use href="#cb_" x="23.8" y="26.7" fill="#90c4dd"/><use href="#cb_" x="26.8" y="26.7" fill="#68abd0"/><use href="#cb_" x="29.8" y="26.7" fill="#bddbea"/><use href="#cb_" x="32.8" y="26.7" fill="#68abd0"/><use href="#cb_" x="35.7" y="26.7" fill="#62a7ce"/><use href="#cb_" x="38.7" y="26.7" fill="#a5cee3"/><use href="#cb_" x="41.7" y="26.7" fill="#4695c4"/><use href="#cb_" x="44.7" y="26.7" fill="#81bad8"/><use href="#cb_" x="47.7" y="26.7" fill="#337eb8"/><use href="#cb_" x="50.6" y="26.7" fill="#276eb0"/><use href="#cb_" x="53.6" y="26.7" fill="#144e8a"/><use href="#cb_" x="56.6" y="26.7" fill="#93c6de"/><use href="#cb_" x="59.6" y="26.7" fill="#2a71b2"/><use href="#cb_" x="62.5" y="26.7" fill="#337eb8"/><use href="#cb_" x="65.5" y="26.7" fill="#2870b1"/><use href="#cb_" x="68.5" y="26.7" fill="#2870b1"/><use href="#cb_" x="71.5" y="26.7" fill="#2267ac"/><use href="#cb_" x="74.5" y="26.7" fill="#4f9bc7"/><use href="#cb_" x="77.4" y="26.7" fill="#053061"/><use href="#cb_" x="80.4" y="26.7" fill="#053061"/><use href="#cb_" x="83.4" y="26.7" fill="#053061"/><use href="#cb_" x="86.4" y="26.7" fill="#053061"/><use href="#cb_" x="89.4" y="26.7" fill="#185493"/><use href="#cb_" x="92.3" y="26.7" fill="#15508d"/><use href="#cb_" x="95.3" y="26.7" fill="#053061"/><use href="#cb_" x="98.3" y="26.7" fill="#053061"/><use href="#cb_" x="101.3" y="26.7" fill="#053061"/><use href="#cb_" x="104.2" y="26.7" fill="#15508d"/><use href="#cb_" x="107.2" y="26.7" fill="#053061"/><use href="#cb_" x="110.2" y="26.7" fill="#053061"/><use href="#cb_" x="113.2" y="26.7" fill="#053061"/><use href="#cb_" x="116.2" y="26.7" fill="#073467"/><use href="#cb_" x="119.1" y="26.7" fill="#053061"/><use href="#cb_" x="122.1" y="26.7" fill="#053061"/><use href="#cb_" x="125.1" y="26.7" fill="#053061"/><use href="#cb_" x="128.1" y="26.7" fill="#053061"/><use href="#cb_" x="131.1" y="26.7" fill="#0f437b"/><use href="#cb_" x="134" y="26.7" fill="#053061"/><use href="#cb_" x="137" y="26.7" fill="#053061"/><use href="#cb_" x="140" y="26.7" fill="#053061"/><use href="#cb_" x="143" y="26.7" fill="#053061"/><use href="#cb_" x="145.9" y="26.7" fill="#053061"/><use href="#cb_" x="148.9" y="26.7" fill="#053061"/><use href="#cb_" x="0" y="29.7" fill="#ecf2f5"/><use href="#cb_" x="3" y="29.7" fill="#e6eff4"/><use href="#cb_" x="6" y="29.7" fill="#aed3e6"/><use href="#cb_" x="8.9" y="29.7" fill="#e0ecf3"/><use href="#cb_" x="11.9" y="29.7" fill="#ddebf2"/><use href="#cb_" x="14.9" y="29.7" fill="#f9ede5"/><use href="#cb_" x="17.9" y="29.7" fill="#fbe3d4"/><use href="#cb_" x="20.8" y="29.7" fill="#c7e0ed"/><use href="#cb_" x="23.8" y="29.7" fill="#9dcbe1"/><use href="#cb_" x="26.8" y="29.7" fill="#b6d7e8"/><use href="#cb_" x="29.8" y="29.7" fill="#93c6de"/><use href="#cb_" x="32.8" y="29.7" fill="#7eb8d7"/><use href="#cb_" x="35.7" y="29.7" fill="#96c7df"/><use href="#cb_" x="38.7" y="29.7" fill="#529dc8"/><use href="#cb_" x="41.7" y="29.7" fill="#9bc9e0"/><use href="#cb_" x="44.7" y="29.7" fill="#68abd0"/><use href="#cb_" x="47.7" y="29.7" fill="#68abd0"/><use href="#cb_" x="50.6" y="29.7" fill="#4393c3"/><use href="#cb_" x="53.6" y="29.7" fill="#327cb7"/><use href="#cb_" x="56.6" y="29.7" fill="#276eb0"/><use href="#cb_" x="59.6" y="29.7" fill="#2f79b5"/><use href="#cb_" x="62.5" y="29.7" fill="#2369ad"/><use href="#cb_" x="65.5" y="29.7" fill="#2f79b5"/><use href="#cb_" x="68.5" y="29.7" fill="#266caf"/><use href="#cb_" x="71.5" y="29.7" fill="#0d3f76"/><use href="#cb_" x="74.5" y="29.7" fill="#1e61a5"/><use href="#cb_" x="77.4" y="29.7" fill="#053061"/><use href="#cb_" x="80.4" y="29.7" fill="#0c3d73"/><use href="#cb_" x="83.4" y="29.7" fill="#0c3d73"/><use href="#cb_" x="86.4" y="29.7" fill="#053061"/><use href="#cb_" x="89.4" y="29.7" fill="#0a3b70"/><use href="#cb_" x="92.3" y="29.7" fill="#08366a"/><use href="#cb_" x="95.3" y="29.7" fill="#053061"/><use href="#cb_" x="98.3" y="29.7" fill="#053061"/><use href="#cb_" x="101.3" y="29.7" fill="#053061"/><use href="#cb_" x="104.2" y="29.7" fill="#053061"/><use href="#cb_" x="107.2" y="29.7" fill="#053061"/><use href="#cb_" x="110.2" y="29.7" fill="#053061"/><use href="#cb_" x="113.2" y="29.7" fill="#053061"/><use href="#cb_" x="116.2" y="29.7" fill="#053061"/><use href="#cb_" x="119.1" y="29.7" fill="#053061"/><use href="#cb_" x="122.1" y="29.7" fill="#053061"/><use href="#cb_" x="125.1" y="29.7" fill="#053061"/><use href="#cb_" x="128.1" y="29.7" fill="#053061"/><use href="#cb_" x="131.1" y="29.7" fill="#053061"/><use href="#cb_" x="134" y="29.7" fill="#053061"/><use href="#cb_" x="137" y="29.7" fill="#053061"/><use href="#cb_" x="140" y="29.7" fill="#053061"/><use href="#cb_" x="143" y="29.7" fill="#053061"/><use href="#cb_" x="145.9" y="29.7" fill="#053061"/><use href="#cb_" x="148.9" y="29.7" fill="#053061"/><use href="#cb_" x="0" y="32.7" fill="#f2f5f6"/><use href="#cb_" x="3" y="32.7" fill="#fae7dc"/><use href="#cb_" x="6" y="32.7" fill="#f8f3f0"/><use href="#cb_" x="8.9" y="32.7" fill="#edf2f5"/><use href="#cb_" x="11.9" y="32.7" fill="#a2cde3"/><use href="#cb_" x="14.9" y="32.7" fill="#eff3f5"/><use href="#cb_" x="17.9" y="32.7" fill="#f8f3f0"/><use href="#cb_" x="20.8" y="32.7" fill="#f0f4f6"/><use href="#cb_" x="23.8" y="32.7" fill="#d4e6f1"/><use href="#cb_" x="26.8" y="32.7" fill="#7eb8d7"/><use href="#cb_" x="29.8" y="32.7" fill="#d7e8f1"/><use href="#cb_" x="32.8" y="32.7" fill="#a5cee3"/><use href="#cb_" x="35.7" y="32.7" fill="#3a87bd"/><use href="#cb_" x="38.7" y="32.7" fill="#a0cce2"/><use href="#cb_" x="41.7" y="32.7" fill="#4393c3"/><use href="#cb_" x="44.7" y="32.7" fill="#408fc1"/><use href="#cb_" x="47.7" y="32.7" fill="#4997c5"/><use href="#cb_" x="50.6" y="32.7" fill="#84bcd9"/><use href="#cb_" x="53.6" y="32.7" fill="#3c8abe"/><use href="#cb_" x="56.6" y="32.7" fill="#408fc1"/><use href="#cb_" x="59.6" y="32.7" fill="#62a7ce"/><use href="#cb_" x="62.5" y="32.7" fill="#4c99c6"/><use href="#cb_" x="65.5" y="32.7" fill="#2a71b2"/><use href="#cb_" x="68.5" y="32.7" fill="#2369ad"/><use href="#cb_" x="71.5" y="32.7" fill="#134c87"/><use href="#cb_" x="74.5" y="32.7" fill="#15508d"/><use href="#cb_" x="77.4" y="32.7" fill="#1f63a8"/><use href="#cb_" x="80.4" y="32.7" fill="#1b5a9c"/><use href="#cb_" x="83.4" y="32.7" fill="#124984"/><use href="#cb_" x="86.4" y="32.7" fill="#1a5899"/><use href="#cb_" x="89.4" y="32.7" fill="#053061"/><use href="#cb_" x="92.3" y="32.7" fill="#053061"/><use href="#cb_" x="95.3" y="32.7" fill="#0d3f76"/><use href="#cb_" x="98.3" y="32.7" fill="#073467"/><use href="#cb_" x="101.3" y="32.7" fill="#0a3b70"/><use href="#cb_" x="104.2" y="32.7" fill="#053061"/><use href="#cb_" x="107.2" y="32.7" fill="#053061"/><use href="#cb_" x="110.2" y="32.7" fill="#053061"/><use href="#cb_" x="113.2" y="32.7" fill="#053061"/><use href="#cb_" x="116.2" y="32.7" fill="#053061"/><use href="#cb_" x="119.1" y="32.7" fill="#053061"/><use href="#cb_" x="122.1" y="32.7" fill="#053061"/><use href="#cb_" x="125.1" y="32.7" fill="#053061"/><use href="#cb_" x="128.1" y="32.7" fill="#053061"/><use href="#cb_" x="131.1" y="32.7" fill="#053061"/><use href="#cb_" x="134" y="32.7" fill="#053061"/><use href="#cb_" x="137" y="32.7" fill="#053061"/><use href="#cb_" x="140" y="32.7" fill="#053061"/><use href="#cb_" x="143" y="32.7" fill="#053061"/><use href="#cb_" x="145.9" y="32.7" fill="#053061"/><use href="#cb_" x="148.9" y="32.7" fill="#053061"/><use href="#cb_" x="0" y="35.6" fill="#f3f5f6"/><use href="#cb_" x="3" y="35.6" fill="#f8f1ed"/><use href="#cb_" x="6" y="35.6" fill="#fbe5d8"/><use href="#cb_" x="8.9" y="35.6" fill="#78b4d5"/><use href="#cb_" x="11.9" y="35.6" fill="#e4eef4"/><use href="#cb_" x="14.9" y="35.6" fill="#f0f4f6"/><use href="#cb_" x="17.9" y="35.6" fill="#eff3f5"/><use href="#cb_" x="20.8" y="35.6" fill="#f9efe9"/><use href="#cb_" x="23.8" y="35.6" fill="#edf2f5"/><use href="#cb_" x="26.8" y="35.6" fill="#d2e6f0"/><use href="#cb_" x="29.8" y="35.6" fill="#c7e0ed"/><use href="#cb_" x="32.8" y="35.6" fill="#cae1ee"/><use href="#cb_" x="35.7" y="35.6" fill="#93c6de"/><use href="#cb_" x="38.7" y="35.6" fill="#96c7df"/><use href="#cb_" x="41.7" y="35.6" fill="#a5cee3"/><use href="#cb_" x="44.7" y="35.6" fill="#b3d6e8"/><use href="#cb_" x="47.7" y="35.6" fill="#62a7ce"/><use href="#cb_" x="50.6" y="35.6" fill="#569fc9"/><use href="#cb_" x="53.6" y="35.6" fill="#4c99c6"/><use href="#cb_" x="56.6" y="35.6" fill="#5fa5cd"/><use href="#cb_" x="59.6" y="35.6" fill="#3783bb"/><use href="#cb_" x="62.5" y="35.6" fill="#4291c2"/><use href="#cb_" x="65.5" y="35.6" fill="#2065ab"/><use href="#cb_" x="68.5" y="35.6" fill="#266caf"/><use href="#cb_" x="71.5" y="35.6" fill="#2267ac"/><use href="#cb_" x="74.5" y="35.6" fill="#2870b1"/><use href="#cb_" x="77.4" y="35.6" fill="#266caf"/><use href="#cb_" x="80.4" y="35.6" fill="#073467"/><use href="#cb_" x="83.4" y="35.6" fill="#08366a"/><use href="#cb_" x="86.4" y="35.6" fill="#114781"/><use href="#cb_" x="89.4" y="35.6" fill="#053061"/><use href="#cb_" x="92.3" y="35.6" fill="#053061"/><use href="#cb_" x="95.3" y="35.6" fill="#0e4179"/><use href="#cb_" x="98.3" y="35.6" fill="#053061"/><use href="#cb_" x="101.3" y="35.6" fill="#053061"/><use href="#cb_" x="104.2" y="35.6" fill="#053061"/><use href="#cb_" x="107.2" y="35.6" fill="#053061"/><use href="#cb_" x="110.2" y="35.6" fill="#053061"/><use href="#cb_" x="113.2" y="35.6" fill="#053061"/><use href="#cb_" x="116.2" y="35.6" fill="#053061"/><use href="#cb_" x="119.1" y="35.6" fill="#053061"/><use href="#cb_" x="122.1" y="35.6" fill="#053061"/><use href="#cb_" x="125.1" y="35.6" fill="#053061"/><use href="#cb_" x="128.1" y="35.6" fill="#053061"/><use href="#cb_" x="131.1" y="35.6" fill="#053061"/><use href="#cb_" x="134" y="35.6" fill="#053061"/><use href="#cb_" x="137" y="35.6" fill="#053061"/><use href="#cb_" x="140" y="35.6" fill="#053061"/><use href="#cb_" x="143" y="35.6" fill="#053061"/><use href="#cb_" x="145.9" y="35.6" fill="#053061"/><use href="#cb_" x="148.9" y="35.6" fill="#053061"/><use href="#cb_" x="0" y="38.6" fill="#f7b596"/><use href="#cb_" x="3" y="38.6" fill="#ee9677"/><use href="#cb_" x="6" y="38.6" fill="#f6b394"/><use href="#cb_" x="8.9" y="38.6" fill="#f8f4f2"/><use href="#cb_" x="11.9" y="38.6" fill="#f3f5f6"/><use href="#cb_" x="14.9" y="38.6" fill="#fae8de"/><use href="#cb_" x="17.9" y="38.6" fill="#deebf2"/><use href="#cb_" x="20.8" y="38.6" fill="#c2ddec"/><use href="#cb_" x="23.8" y="38.6" fill="#dae9f2"/><use href="#cb_" x="26.8" y="38.6" fill="#d8e9f1"/><use href="#cb_" x="29.8" y="38.6" fill="#a9d1e5"/><use href="#cb_" x="32.8" y="38.6" fill="#84bcd9"/><use href="#cb_" x="35.7" y="38.6" fill="#7eb8d7"/><use href="#cb_" x="38.7" y="38.6" fill="#acd2e5"/><use href="#cb_" x="41.7" y="38.6" fill="#78b4d5"/><use href="#cb_" x="44.7" y="38.6" fill="#7bb6d6"/><use href="#cb_" x="47.7" y="38.6" fill="#71b0d3"/><use href="#cb_" x="50.6" y="38.6" fill="#6bacd1"/><use href="#cb_" x="53.6" y="38.6" fill="#4393c3"/><use href="#cb_" x="56.6" y="38.6" fill="#4695c4"/><use href="#cb_" x="59.6" y="38.6" fill="#2f79b5"/><use href="#cb_" x="62.5" y="38.6" fill="#2e77b5"/><use href="#cb_" x="65.5" y="38.6" fill="#2267ac"/><use href="#cb_" x="68.5" y="38.6" fill="#337eb8"/><use href="#cb_" x="71.5" y="38.6" fill="#246aae"/><use href="#cb_" x="74.5" y="38.6" fill="#1a5899"/><use href="#cb_" x="77.4" y="38.6" fill="#195696"/><use href="#cb_" x="80.4" y="38.6" fill="#144e8a"/><use href="#cb_" x="83.4" y="38.6" fill="#185493"/><use href="#cb_" x="86.4" y="38.6" fill="#053061"/><use href="#cb_" x="89.4" y="38.6" fill="#053061"/><use href="#cb_" x="92.3" y="38.6" fill="#053061"/><use href="#cb_" x="95.3" y="38.6" fill="#1a5899"/><use href="#cb_" x="98.3" y="38.6" fill="#08366a"/><use href="#cb_" x="101.3" y="38.6" fill="#053061"/><use href="#cb_" x="104.2" y="38.6" fill="#053061"/><use href="#cb_" x="107.2" y="38.6" fill="#0c3d73"/><use href="#cb_" x="110.2" y="38.6" fill="#053061"/><use href="#cb_" x="113.2" y="38.6" fill="#053061"/><use href="#cb_" x="116.2" y="38.6" fill="#053061"/><use href="#cb_" x="119.1" y="38.6" fill="#053061"/><use href="#cb_" x="122.1" y="38.6" fill="#053061"/><use href="#cb_" x="125.1" y="38.6" fill="#053061"/><use href="#cb_" x="128.1" y="38.6" fill="#073467"/><use href="#cb_" x="131.1" y="38.6" fill="#053061"/><use href="#cb_" x="134" y="38.6" fill="#053061"/><use href="#cb_" x="137" y="38.6" fill="#053061"/><use href="#cb_" x="140" y="38.6" fill="#053061"/><use href="#cb_" x="143" y="38.6" fill="#053061"/><use href="#cb_" x="145.9" y="38.6" fill="#053061"/><use href="#cb_" x="148.9" y="38.6" fill="#053061"/><use href="#cb_" x="0" y="41.6" fill="#f9c6ac"/><use href="#cb_" x="3" y="41.6" fill="#fae9df"/><use href="#cb_" x="6" y="41.6" fill="#deebf2"/><use href="#cb_" x="8.9" y="41.6" fill="#fae9df"/><use href="#cb_" x="11.9" y="41.6" fill="#e4eef4"/><use href="#cb_" x="14.9" y="41.6" fill="#e3edf3"/><use href="#cb_" x="17.9" y="41.6" fill="#d8e9f1"/><use href="#cb_" x="20.8" y="41.6" fill="#d8e9f1"/><use href="#cb_" x="23.8" y="41.6" fill="#9bc9e0"/><use href="#cb_" x="26.8" y="41.6" fill="#e7f0f4"/><use href="#cb_" x="29.8" y="41.6" fill="#cfe4ef"/><use href="#cb_" x="32.8" y="41.6" fill="#d4e6f1"/><use href="#cb_" x="35.7" y="41.6" fill="#d7e8f1"/><use href="#cb_" x="38.7" y="41.6" fill="#a0cce2"/><use href="#cb_" x="41.7" y="41.6" fill="#62a7ce"/><use href="#cb_" x="44.7" y="41.6" fill="#6bacd1"/><use href="#cb_" x="47.7" y="41.6" fill="#569fc9"/><use href="#cb_" x="50.6" y="41.6" fill="#569fc9"/><use href="#cb_" x="53.6" y="41.6" fill="#4f9bc7"/><use href="#cb_" x="56.6" y="41.6" fill="#2f79b5"/><use href="#cb_" x="59.6" y="41.6" fill="#3c8abe"/><use href="#cb_" x="62.5" y="41.6" fill="#266caf"/><use href="#cb_" x="65.5" y="41.6" fill="#2f79b5"/><use href="#cb_" x="68.5" y="41.6" fill="#2870b1"/><use href="#cb_" x="71.5" y="41.6" fill="#2267ac"/><use href="#cb_" x="74.5" y="41.6" fill="#1f63a8"/><use href="#cb_" x="77.4" y="41.6" fill="#185493"/><use href="#cb_" x="80.4" y="41.6" fill="#134c87"/><use href="#cb_" x="83.4" y="41.6" fill="#073467"/><use href="#cb_" x="86.4" y="41.6" fill="#0e4179"/><use href="#cb_" x="89.4" y="41.6" fill="#185493"/><use href="#cb_" x="92.3" y="41.6" fill="#15508d"/><use href="#cb_" x="95.3" y="41.6" fill="#0e4179"/><use href="#cb_" x="98.3" y="41.6" fill="#053061"/><use href="#cb_" x="101.3" y="41.6" fill="#053061"/><use href="#cb_" x="104.2" y="41.6" fill="#063264"/><use href="#cb_" x="107.2" y="41.6" fill="#053061"/><use href="#cb_" x="110.2" y="41.6" fill="#053061"/><use href="#cb_" x="113.2" y="41.6" fill="#053061"/><use href="#cb_" x="116.2" y="41.6" fill="#053061"/><use href="#cb_" x="119.1" y="41.6" fill="#053061"/><use href="#cb_" x="122.1" y="41.6" fill="#053061"/><use href="#cb_" x="125.1" y="41.6" fill="#053061"/><use href="#cb_" x="128.1" y="41.6" fill="#053061"/><use href="#cb_" x="131.1" y="41.6" fill="#0a3b70"/><use href="#cb_" x="134" y="41.6" fill="#053061"/><use href="#cb_" x="137" y="41.6" fill="#053061"/><use href="#cb_" x="140" y="41.6" fill="#053061"/><use href="#cb_" x="143" y="41.6" fill="#053061"/><use href="#cb_" x="145.9" y="41.6" fill="#053061"/><use href="#cb_" x="148.9" y="41.6" fill="#053061"/><use href="#cb_" x="0" y="44.6" fill="#f7b596"/><use href="#cb_" x="3" y="44.6" fill="#fcd7c2"/><use href="#cb_" x="6" y="44.6" fill="#fce0d0"/><use href="#cb_" x="8.9" y="44.6" fill="#fac8af"/><use href="#cb_" x="11.9" y="44.6" fill="#edf2f5"/><use href="#cb_" x="14.9" y="44.6" fill="#f2f5f6"/><use href="#cb_" x="17.9" y="44.6" fill="#ddebf2"/><use href="#cb_" x="20.8" y="44.6" fill="#f8f3f0"/><use href="#cb_" x="23.8" y="44.6" fill="#aed3e6"/><use href="#cb_" x="26.8" y="44.6" fill="#c7e0ed"/><use href="#cb_" x="29.8" y="44.6" fill="#c0dceb"/><use href="#cb_" x="32.8" y="44.6" fill="#cfe4ef"/><use href="#cb_" x="35.7" y="44.6" fill="#bddbea"/><use href="#cb_" x="38.7" y="44.6" fill="#c0dceb"/><use href="#cb_" x="41.7" y="44.6" fill="#71b0d3"/><use href="#cb_" x="44.7" y="44.6" fill="#96c7df"/><use href="#cb_" x="47.7" y="44.6" fill="#6eaed2"/><use href="#cb_" x="50.6" y="44.6" fill="#569fc9"/><use href="#cb_" x="53.6" y="44.6" fill="#5ca3cb"/><use href="#cb_" x="56.6" y="44.6" fill="#3b88be"/><use href="#cb_" x="59.6" y="44.6" fill="#2b73b3"/><use href="#cb_" x="62.5" y="44.6" fill="#307ab6"/><use href="#cb_" x="65.5" y="44.6" fill="#2369ad"/><use href="#cb_" x="68.5" y="44.6" fill="#266caf"/><use href="#cb_" x="71.5" y="44.6" fill="#276eb0"/><use href="#cb_" x="74.5" y="44.6" fill="#2267ac"/><use href="#cb_" x="77.4" y="44.6" fill="#266caf"/><use href="#cb_" x="80.4" y="44.6" fill="#175290"/><use href="#cb_" x="83.4" y="44.6" fill="#0a3b70"/><use href="#cb_" x="86.4" y="44.6" fill="#0a3b70"/><use href="#cb_" x="89.4" y="44.6" fill="#063264"/><use href="#cb_" x="92.3" y="44.6" fill="#053061"/><use href="#cb_" x="95.3" y="44.6" fill="#063264"/><use href="#cb_" x="98.3" y="44.6" fill="#053061"/><use href="#cb_" x="101.3" y="44.6" fill="#053061"/><use href="#cb_" x="104.2" y="44.6" fill="#053061"/><use href="#cb_" x="107.2" y="44.6" fill="#053061"/><use href="#cb_" x="110.2" y="44.6" fill="#053061"/><use href="#cb_" x="113.2" y="44.6" fill="#053061"/><use href="#cb_" x="116.2" y="44.6" fill="#053061"/><use href="#cb_" x="119.1" y="44.6" fill="#053061"/><use href="#cb_" x="122.1" y="44.6" fill="#053061"/><use href="#cb_" x="125.1" y="44.6" fill="#053061"/><use href="#cb_" x="128.1" y="44.6" fill="#053061"/><use href="#cb_" x="131.1" y="44.6" fill="#053061"/><use href="#cb_" x="134" y="44.6" fill="#053061"/><use href="#cb_" x="137" y="44.6" fill="#053061"/><use href="#cb_" x="140" y="44.6" fill="#053061"/><use href="#cb_" x="143" y="44.6" fill="#053061"/><use href="#cb_" x="145.9" y="44.6" fill="#053061"/><use href="#cb_" x="148.9" y="44.6" fill="#053061"/><use href="#cb_" x="0" y="47.5" fill="#fbceb7"/><use href="#cb_" x="3" y="47.5" fill="#f9f0eb"/><use href="#cb_" x="6" y="47.5" fill="#f0f4f6"/><use href="#cb_" x="8.9" y="47.5" fill="#faeae1"/><use href="#cb_" x="11.9" y="47.5" fill="#f9f0eb"/><use href="#cb_" x="14.9" y="47.5" fill="#e9f0f4"/><use href="#cb_" x="17.9" y="47.5" fill="#ecf2f5"/><use href="#cb_" x="20.8" y="47.5" fill="#dae9f2"/><use href="#cb_" x="23.8" y="47.5" fill="#e7f0f4"/><use href="#cb_" x="26.8" y="47.5" fill="#cce2ef"/><use href="#cb_" x="29.8" y="47.5" fill="#cfe4ef"/><use href="#cb_" x="32.8" y="47.5" fill="#d4e6f1"/><use href="#cb_" x="35.7" y="47.5" fill="#ddebf2"/><use href="#cb_" x="38.7" y="47.5" fill="#96c7df"/><use href="#cb_" x="41.7" y="47.5" fill="#90c4dd"/><use href="#cb_" x="44.7" y="47.5" fill="#78b4d5"/><use href="#cb_" x="47.7" y="47.5" fill="#84bcd9"/><use href="#cb_" x="50.6" y="47.5" fill="#529dc8"/><use href="#cb_" x="53.6" y="47.5" fill="#4c99c6"/><use href="#cb_" x="56.6" y="47.5" fill="#4393c3"/><use href="#cb_" x="59.6" y="47.5" fill="#3681ba"/><use href="#cb_" x="62.5" y="47.5" fill="#2f79b5"/><use href="#cb_" x="65.5" y="47.5" fill="#2b73b3"/><use href="#cb_" x="68.5" y="47.5" fill="#1e61a5"/><use href="#cb_" x="71.5" y="47.5" fill="#1e61a5"/><use href="#cb_" x="74.5" y="47.5" fill="#1f63a8"/><use href="#cb_" x="77.4" y="47.5" fill="#1d5fa2"/><use href="#cb_" x="80.4" y="47.5" fill="#175290"/><use href="#cb_" x="83.4" y="47.5" fill="#0a3b70"/><use href="#cb_" x="86.4" y="47.5" fill="#0d3f76"/><use href="#cb_" x="89.4" y="47.5" fill="#0f437b"/><use href="#cb_" x="92.3" y="47.5" fill="#0a3b70"/><use href="#cb_" x="95.3" y="47.5" fill="#053061"/><use href="#cb_" x="98.3" y="47.5" fill="#053061"/><use href="#cb_" x="101.3" y="47.5" fill="#053061"/><use href="#cb_" x="104.2" y="47.5" fill="#053061"/><use href="#cb_" x="107.2" y="47.5" fill="#053061"/><use href="#cb_" x="110.2" y="47.5" fill="#053061"/><use href="#cb_" x="113.2" y="47.5" fill="#053061"/><use href="#cb_" x="116.2" y="47.5" fill="#053061"/><use href="#cb_" x="119.1" y="47.5" fill="#053061"/><use href="#cb_" x="122.1" y="47.5" fill="#053061"/><use href="#cb_" x="125.1" y="47.5" fill="#053061"/><use href="#cb_" x="128.1" y="47.5" fill="#053061"/><use href="#cb_" x="131.1" y="47.5" fill="#053061"/><use href="#cb_" x="134" y="47.5" fill="#0a3b70"/><use href="#cb_" x="137" y="47.5" fill="#053061"/><use href="#cb_" x="140" y="47.5" fill="#053061"/><use href="#cb_" x="143" y="47.5" fill="#053061"/><use href="#cb_" x="145.9" y="47.5" fill="#053061"/><use href="#cb_" x="148.9" y="47.5" fill="#053061"/><use href="#cb_" x="0" y="50.5" fill="#fddbc7"/><use href="#cb_" x="3" y="50.5" fill="#f7f5f4"/><use href="#cb_" x="6" y="50.5" fill="#fce2d2"/><use href="#cb_" x="8.9" y="50.5" fill="#fce2d2"/><use href="#cb_" x="11.9" y="50.5" fill="#fae9df"/><use href="#cb_" x="14.9" y="50.5" fill="#fbe3d4"/><use href="#cb_" x="17.9" y="50.5" fill="#f3f5f6"/><use href="#cb_" x="20.8" y="50.5" fill="#f2f5f6"/><use href="#cb_" x="23.8" y="50.5" fill="#cfe4ef"/><use href="#cb_" x="26.8" y="50.5" fill="#e6eff4"/><use href="#cb_" x="29.8" y="50.5" fill="#ecf2f5"/><use href="#cb_" x="32.8" y="50.5" fill="#d2e6f0"/><use href="#cb_" x="35.7" y="50.5" fill="#bbdaea"/><use href="#cb_" x="38.7" y="50.5" fill="#acd2e5"/><use href="#cb_" x="41.7" y="50.5" fill="#b6d7e8"/><use href="#cb_" x="44.7" y="50.5" fill="#7bb6d6"/><use href="#cb_" x="47.7" y="50.5" fill="#78b4d5"/><use href="#cb_" x="50.6" y="50.5" fill="#6eaed2"/><use href="#cb_" x="53.6" y="50.5" fill="#5fa5cd"/><use href="#cb_" x="56.6" y="50.5" fill="#408fc1"/><use href="#cb_" x="59.6" y="50.5" fill="#3e8cbf"/><use href="#cb_" x="62.5" y="50.5" fill="#337eb8"/><use href="#cb_" x="65.5" y="50.5" fill="#2f79b5"/><use href="#cb_" x="68.5" y="50.5" fill="#2a71b2"/><use href="#cb_" x="71.5" y="50.5" fill="#2065ab"/><use href="#cb_" x="74.5" y="50.5" fill="#2065ab"/><use href="#cb_" x="77.4" y="50.5" fill="#2065ab"/><use href="#cb_" x="80.4" y="50.5" fill="#144e8a"/><use href="#cb_" x="83.4" y="50.5" fill="#124984"/><use href="#cb_" x="86.4" y="50.5" fill="#124984"/><use href="#cb_" x="89.4" y="50.5" fill="#063264"/><use href="#cb_" x="92.3" y="50.5" fill="#08366a"/><use href="#cb_" x="95.3" y="50.5" fill="#053061"/><use href="#cb_" x="98.3" y="50.5" fill="#063264"/><use href="#cb_" x="101.3" y="50.5" fill="#09386d"/><use href="#cb_" x="104.2" y="50.5" fill="#063264"/><use href="#cb_" x="107.2" y="50.5" fill="#053061"/><use href="#cb_" x="110.2" y="50.5" fill="#053061"/><use href="#cb_" x="113.2" y="50.5" fill="#053061"/><use href="#cb_" x="116.2" y="50.5" fill="#053061"/><use href="#cb_" x="119.1" y="50.5" fill="#053061"/><use href="#cb_" x="122.1" y="50.5" fill="#053061"/><use href="#cb_" x="125.1" y="50.5" fill="#053061"/><use href="#cb_" x="128.1" y="50.5" fill="#053061"/><use href="#cb_" x="131.1" y="50.5" fill="#053061"/><use href="#cb_" x="134" y="50.5" fill="#053061"/><use href="#cb_" x="137" y="50.5" fill="#053061"/><use href="#cb_" x="140" y="50.5" fill="#053061"/><use href="#cb_" x="143" y="50.5" fill="#053061"/><use href="#cb_" x="145.9" y="50.5" fill="#053061"/><use href="#cb_" x="148.9" y="50.5" fill="#053061"/><use href="#cb_" x="0" y="53.5" fill="#fcd5bf"/><use href="#cb_" x="3" y="53.5" fill="#f5f6f7"/><use href="#cb_" x="6" y="53.5" fill="#f8bda1"/><use href="#cb_" x="8.9" y="53.5" fill="#fbd0b9"/><use href="#cb_" x="11.9" y="53.5" fill="#fbe6da"/><use href="#cb_" x="14.9" y="53.5" fill="#f8f1ed"/><use href="#cb_" x="17.9" y="53.5" fill="#f9eee7"/><use href="#cb_" x="20.8" y="53.5" fill="#e0ecf3"/><use href="#cb_" x="23.8" y="53.5" fill="#d7e8f1"/><use href="#cb_" x="26.8" y="53.5" fill="#d8e9f1"/><use href="#cb_" x="29.8" y="53.5" fill="#e1edf3"/><use href="#cb_" x="32.8" y="53.5" fill="#aed3e6"/><use href="#cb_" x="35.7" y="53.5" fill="#cce2ef"/><use href="#cb_" x="38.7" y="53.5" fill="#a2cde3"/><use href="#cb_" x="41.7" y="53.5" fill="#8ac0db"/><use href="#cb_" x="44.7" y="53.5" fill="#a0cce2"/><use href="#cb_" x="47.7" y="53.5" fill="#7bb6d6"/><use href="#cb_" x="50.6" y="53.5" fill="#569fc9"/><use href="#cb_" x="53.6" y="53.5" fill="#529dc8"/><use href="#cb_" x="56.6" y="53.5" fill="#4f9bc7"/><use href="#cb_" x="59.6" y="53.5" fill="#4393c3"/><use href="#cb_" x="62.5" y="53.5" fill="#337eb8"/><use href="#cb_" x="65.5" y="53.5" fill="#307ab6"/><use href="#cb_" x="68.5" y="53.5" fill="#2e77b5"/><use href="#cb_" x="71.5" y="53.5" fill="#2369ad"/><use href="#cb_" x="74.5" y="53.5" fill="#2369ad"/><use href="#cb_" x="77.4" y="53.5" fill="#1d5fa2"/><use href="#cb_" x="80.4" y="53.5" fill="#175290"/><use href="#cb_" x="83.4" y="53.5" fill="#124984"/><use href="#cb_" x="86.4" y="53.5" fill="#10457e"/><use href="#cb_" x="89.4" y="53.5" fill="#0c3d73"/><use href="#cb_" x="92.3" y="53.5" fill="#053061"/><use href="#cb_" x="95.3" y="53.5" fill="#053061"/><use href="#cb_" x="98.3" y="53.5" fill="#053061"/><use href="#cb_" x="101.3" y="53.5" fill="#053061"/><use href="#cb_" x="104.2" y="53.5" fill="#053061"/><use href="#cb_" x="107.2" y="53.5" fill="#053061"/><use href="#cb_" x="110.2" y="53.5" fill="#053061"/><use href="#cb_" x="113.2" y="53.5" fill="#053061"/><use href="#cb_" x="116.2" y="53.5" fill="#053061"/><use href="#cb_" x="119.1" y="53.5" fill="#053061"/><use href="#cb_" x="122.1" y="53.5" fill="#053061"/><use href="#cb_" x="125.1" y="53.5" fill="#053061"/><use href="#cb_" x="128.1" y="53.5" fill="#053061"/><use href="#cb_" x="131.1" y="53.5" fill="#053061"/><use href="#cb_" x="134" y="53.5" fill="#053061"/><use href="#cb_" x="137" y="53.5" fill="#053061"/><use href="#cb_" x="140" y="53.5" fill="#053061"/><use href="#cb_" x="143" y="53.5" fill="#053061"/><use href="#cb_" x="145.9" y="53.5" fill="#053061"/><use href="#cb_" x="148.9" y="53.5" fill="#053061"/><use href="#cb_" x="0" y="56.4" fill="#f4a683"/><use href="#cb_" x="3" y="56.4" fill="#fbccb4"/><use href="#cb_" x="6" y="56.4" fill="#f7b799"/><use href="#cb_" x="8.9" y="56.4" fill="#ecf2f5"/><use href="#cb_" x="11.9" y="56.4" fill="#fdddcb"/><use href="#cb_" x="14.9" y="56.4" fill="#f0f4f6"/><use href="#cb_" x="17.9" y="56.4" fill="#f9eee7"/><use href="#cb_" x="20.8" y="56.4" fill="#e4eef4"/><use href="#cb_" x="23.8" y="56.4" fill="#d5e7f1"/><use href="#cb_" x="26.8" y="56.4" fill="#e1edf3"/><use href="#cb_" x="29.8" y="56.4" fill="#c7e0ed"/><use href="#cb_" x="32.8" y="56.4" fill="#b8d8e9"/><use href="#cb_" x="35.7" y="56.4" fill="#a2cde3"/><use href="#cb_" x="38.7" y="56.4" fill="#acd2e5"/><use href="#cb_" x="41.7" y="56.4" fill="#a5cee3"/><use href="#cb_" x="44.7" y="56.4" fill="#9dcbe1"/><use href="#cb_" x="47.7" y="56.4" fill="#7bb6d6"/><use href="#cb_" x="50.6" y="56.4" fill="#78b4d5"/><use href="#cb_" x="53.6" y="56.4" fill="#59a1ca"/><use href="#cb_" x="56.6" y="56.4" fill="#4695c4"/><use href="#cb_" x="59.6" y="56.4" fill="#408fc1"/><use href="#cb_" x="62.5" y="56.4" fill="#3a87bd"/><use href="#cb_" x="65.5" y="56.4" fill="#2e77b5"/><use href="#cb_" x="68.5" y="56.4" fill="#2a71b2"/><use href="#cb_" x="71.5" y="56.4" fill="#266caf"/><use href="#cb_" x="74.5" y="56.4" fill="#2267ac"/><use href="#cb_" x="77.4" y="56.4" fill="#1a5899"/><use href="#cb_" x="80.4" y="56.4" fill="#1c5c9f"/><use href="#cb_" x="83.4" y="56.4" fill="#124984"/><use href="#cb_" x="86.4" y="56.4" fill="#114781"/><use href="#cb_" x="89.4" y="56.4" fill="#08366a"/><use href="#cb_" x="92.3" y="56.4" fill="#09386d"/><use href="#cb_" x="95.3" y="56.4" fill="#063264"/><use href="#cb_" x="98.3" y="56.4" fill="#053061"/><use href="#cb_" x="101.3" y="56.4" fill="#073467"/><use href="#cb_" x="104.2" y="56.4" fill="#053061"/><use href="#cb_" x="107.2" y="56.4" fill="#053061"/><use href="#cb_" x="110.2" y="56.4" fill="#053061"/><use href="#cb_" x="113.2" y="56.4" fill="#053061"/><use href="#cb_" x="116.2" y="56.4" fill="#053061"/><use href="#cb_" x="119.1" y="56.4" fill="#053061"/><use href="#cb_" x="122.1" y="56.4" fill="#053061"/><use href="#cb_" x="125.1" y="56.4" fill="#053061"/><use href="#cb_" x="128.1" y="56.4" fill="#053061"/><use href="#cb_" x="131.1" y="56.4" fill="#053061"/><use href="#cb_" x="134" y="56.4" fill="#053061"/><use href="#cb_" x="137" y="56.4" fill="#053061"/><use href="#cb_" x="140" y="56.4" fill="#053061"/><use href="#cb_" x="143" y="56.4" fill="#053061"/><use href="#cb_" x="145.9" y="56.4" fill="#053061"/><use href="#cb_" x="148.9" y="56.4" fill="#053061"/><use href="#cb_" x="0" y="59.4" fill="#f6af8e"/><use href="#cb_" x="3" y="59.4" fill="#fae8de"/><use href="#cb_" x="6" y="59.4" fill="#f8f2ef"/><use href="#cb_" x="8.9" y="59.4" fill="#f9ede5"/><use href="#cb_" x="11.9" y="59.4" fill="#ecf2f5"/><use href="#cb_" x="14.9" y="59.4" fill="#f3f5f6"/><use href="#cb_" x="17.9" y="59.4" fill="#fbe5d8"/><use href="#cb_" x="20.8" y="59.4" fill="#dae9f2"/><use href="#cb_" x="23.8" y="59.4" fill="#ecf2f5"/><use href="#cb_" x="26.8" y="59.4" fill="#cae1ee"/><use href="#cb_" x="29.8" y="59.4" fill="#d8e9f1"/><use href="#cb_" x="32.8" y="59.4" fill="#c5dfec"/><use href="#cb_" x="35.7" y="59.4" fill="#bbdaea"/><use href="#cb_" x="38.7" y="59.4" fill="#b6d7e8"/><use href="#cb_" x="41.7" y="59.4" fill="#b6d7e8"/><use href="#cb_" x="44.7" y="59.4" fill="#93c6de"/><use href="#cb_" x="47.7" y="59.4" fill="#81bad8"/><use href="#cb_" x="50.6" y="59.4" fill="#5fa5cd"/><use href="#cb_" x="53.6" y="59.4" fill="#5fa5cd"/><use href="#cb_" x="56.6" y="59.4" fill="#4695c4"/><use href="#cb_" x="59.6" y="59.4" fill="#4291c2"/><use href="#cb_" x="62.5" y="59.4" fill="#3681ba"/><use href="#cb_" x="65.5" y="59.4" fill="#3681ba"/><use href="#cb_" x="68.5" y="59.4" fill="#2369ad"/><use href="#cb_" x="71.5" y="59.4" fill="#266caf"/><use href="#cb_" x="74.5" y="59.4" fill="#246aae"/><use href="#cb_" x="77.4" y="59.4" fill="#1c5c9f"/><use href="#cb_" x="80.4" y="59.4" fill="#175290"/><use href="#cb_" x="83.4" y="59.4" fill="#134c87"/><use href="#cb_" x="86.4" y="59.4" fill="#0a3b70"/><use href="#cb_" x="89.4" y="59.4" fill="#0c3d73"/><use href="#cb_" x="92.3" y="59.4" fill="#114781"/><use href="#cb_" x="95.3" y="59.4" fill="#08366a"/><use href="#cb_" x="98.3" y="59.4" fill="#053061"/><use href="#cb_" x="101.3" y="59.4" fill="#053061"/><use href="#cb_" x="104.2" y="59.4" fill="#053061"/><use href="#cb_" x="107.2" y="59.4" fill="#053061"/><use href="#cb_" x="110.2" y="59.4" fill="#053061"/><use href="#cb_" x="113.2" y="59.4" fill="#053061"/><use href="#cb_" x="116.2" y="59.4" fill="#053061"/><use href="#cb_" x="119.1" y="59.4" fill="#053061"/><use href="#cb_" x="122.1" y="59.4" fill="#053061"/><use href="#cb_" x="125.1" y="59.4" fill="#053061"/><use href="#cb_" x="128.1" y="59.4" fill="#053061"/><use href="#cb_" x="131.1" y="59.4" fill="#053061"/><use href="#cb_" x="134" y="59.4" fill="#053061"/><use href="#cb_" x="137" y="59.4" fill="#053061"/><use href="#cb_" x="140" y="59.4" fill="#053061"/><use href="#cb_" x="143" y="59.4" fill="#053061"/><use href="#cb_" x="145.9" y="59.4" fill="#053061"/><use href="#cb_" x="148.9" y="59.4" fill="#053061"/><use href="#cb_" x="0" y="62.4" fill="#fddcc9"/><use href="#cb_" x="3" y="62.4" fill="#f5a886"/><use href="#cb_" x="6" y="62.4" fill="#f6af8e"/><use href="#cb_" x="8.9" y="62.4" fill="#fbe6da"/><use href="#cb_" x="11.9" y="62.4" fill="#f9efe9"/><use href="#cb_" x="14.9" y="62.4" fill="#f9eee7"/><use href="#cb_" x="17.9" y="62.4" fill="#e0ecf3"/><use href="#cb_" x="20.8" y="62.4" fill="#f8f1ed"/><use href="#cb_" x="23.8" y="62.4" fill="#bbdaea"/><use href="#cb_" x="26.8" y="62.4" fill="#cfe4ef"/><use href="#cb_" x="29.8" y="62.4" fill="#d4e6f1"/><use href="#cb_" x="32.8" y="62.4" fill="#c7e0ed"/><use href="#cb_" x="35.7" y="62.4" fill="#c0dceb"/><use href="#cb_" x="38.7" y="62.4" fill="#b1d5e7"/><use href="#cb_" x="41.7" y="62.4" fill="#9dcbe1"/><use href="#cb_" x="44.7" y="62.4" fill="#a0cce2"/><use href="#cb_" x="47.7" y="62.4" fill="#62a7ce"/><use href="#cb_" x="50.6" y="62.4" fill="#6bacd1"/><use href="#cb_" x="53.6" y="62.4" fill="#529dc8"/><use href="#cb_" x="56.6" y="62.4" fill="#4997c5"/><use href="#cb_" x="59.6" y="62.4" fill="#3f8ec0"/><use href="#cb_" x="62.5" y="62.4" fill="#337eb8"/><use href="#cb_" x="65.5" y="62.4" fill="#2c75b4"/><use href="#cb_" x="68.5" y="62.4" fill="#2e77b5"/><use href="#cb_" x="71.5" y="62.4" fill="#2870b1"/><use href="#cb_" x="74.5" y="62.4" fill="#1f63a8"/><use href="#cb_" x="77.4" y="62.4" fill="#2369ad"/><use href="#cb_" x="80.4" y="62.4" fill="#1f63a8"/><use href="#cb_" x="83.4" y="62.4" fill="#10457e"/><use href="#cb_" x="86.4" y="62.4" fill="#114781"/><use href="#cb_" x="89.4" y="62.4" fill="#144e8a"/><use href="#cb_" x="92.3" y="62.4" fill="#0a3b70"/><use href="#cb_" x="95.3" y="62.4" fill="#053061"/><use href="#cb_" x="98.3" y="62.4" fill="#053061"/><use href="#cb_" x="101.3" y="62.4" fill="#053061"/><use href="#cb_" x="104.2" y="62.4" fill="#053061"/><use href="#cb_" x="107.2" y="62.4" fill="#053061"/><use href="#cb_" x="110.2" y="62.4" fill="#053061"/><use href="#cb_" x="113.2" y="62.4" fill="#053061"/><use href="#cb_" x="116.2" y="62.4" fill="#053061"/><use href="#cb_" x="119.1" y="62.4" fill="#053061"/><use href="#cb_" x="122.1" y="62.4" fill="#053061"/><use href="#cb_" x="125.1" y="62.4" fill="#053061"/><use href="#cb_" x="128.1" y="62.4" fill="#053061"/><use href="#cb_" x="131.1" y="62.4" fill="#053061"/><use href="#cb_" x="134" y="62.4" fill="#053061"/><use href="#cb_" x="137" y="62.4" fill="#053061"/><use href="#cb_" x="140" y="62.4" fill="#053061"/><use href="#cb_" x="143" y="62.4" fill="#053061"/><use href="#cb_" x="145.9" y="62.4" fill="#053061"/><use href="#cb_" x="148.9" y="62.4" fill="#053061"/><use href="#cb_" x="0" y="65.4" fill="#ee9677"/><use href="#cb_" x="3" y="65.4" fill="#fcdfcf"/><use href="#cb_" x="6" y="65.4" fill="#f5a886"/><use href="#cb_" x="8.9" y="65.4" fill="#fddbc7"/><use href="#cb_" x="11.9" y="65.4" fill="#f9ebe3"/><use href="#cb_" x="14.9" y="65.4" fill="#f8f1ed"/><use href="#cb_" x="17.9" y="65.4" fill="#eff3f5"/><use href="#cb_" x="20.8" y="65.4" fill="#edf2f5"/><use href="#cb_" x="23.8" y="65.4" fill="#dae9f2"/><use href="#cb_" x="26.8" y="65.4" fill="#ecf2f5"/><use href="#cb_" x="29.8" y="65.4" fill="#cce2ef"/><use href="#cb_" x="32.8" y="65.4" fill="#a7d0e4"/><use href="#cb_" x="35.7" y="65.4" fill="#b3d6e8"/><use href="#cb_" x="38.7" y="65.4" fill="#93c6de"/><use href="#cb_" x="41.7" y="65.4" fill="#a0cce2"/><use href="#cb_" x="44.7" y="65.4" fill="#9dcbe1"/><use href="#cb_" x="47.7" y="65.4" fill="#87beda"/><use href="#cb_" x="50.6" y="65.4" fill="#5ca3cb"/><use href="#cb_" x="53.6" y="65.4" fill="#529dc8"/><use href="#cb_" x="56.6" y="65.4" fill="#5ca3cb"/><use href="#cb_" x="59.6" y="65.4" fill="#3f8ec0"/><use href="#cb_" x="62.5" y="65.4" fill="#3783bb"/><use href="#cb_" x="65.5" y="65.4" fill="#337eb8"/><use href="#cb_" x="68.5" y="65.4" fill="#337eb8"/><use href="#cb_" x="71.5" y="65.4" fill="#2b73b3"/><use href="#cb_" x="74.5" y="65.4" fill="#2369ad"/><use href="#cb_" x="77.4" y="65.4" fill="#1e61a5"/><use href="#cb_" x="80.4" y="65.4" fill="#1b5a9c"/><use href="#cb_" x="83.4" y="65.4" fill="#124984"/><use href="#cb_" x="86.4" y="65.4" fill="#0d3f76"/><use href="#cb_" x="89.4" y="65.4" fill="#0c3d73"/><use href="#cb_" x="92.3" y="65.4" fill="#053061"/><use href="#cb_" x="95.3" y="65.4" fill="#053061"/><use href="#cb_" x="98.3" y="65.4" fill="#053061"/><use href="#cb_" x="101.3" y="65.4" fill="#08366a"/><use href="#cb_" x="104.2" y="65.4" fill="#053061"/><use href="#cb_" x="107.2" y="65.4" fill="#053061"/><use href="#cb_" x="110.2" y="65.4" fill="#053061"/><use href="#cb_" x="113.2" y="65.4" fill="#053061"/><use href="#cb_" x="116.2" y="65.4" fill="#053061"/><use href="#cb_" x="119.1" y="65.4" fill="#053061"/><use href="#cb_" x="122.1" y="65.4" fill="#053061"/><use href="#cb_" x="125.1" y="65.4" fill="#053061"/><use href="#cb_" x="128.1" y="65.4" fill="#053061"/><use href="#cb_" x="131.1" y="65.4" fill="#053061"/><use href="#cb_" x="134" y="65.4" fill="#053061"/><use href="#cb_" x="137" y="65.4" fill="#053061"/><use href="#cb_" x="140" y="65.4" fill="#053061"/><use href="#cb_" x="143" y="65.4" fill="#053061"/><use href="#cb_" x="145.9" y="65.4" fill="#053061"/><use href="#cb_" x="148.9" y="65.4" fill="#053061"/><use href="#cb_" x="0" y="68.3" fill="#f7b99c"/><use href="#cb_" x="3" y="68.3" fill="#faeae1"/><use href="#cb_" x="6" y="68.3" fill="#fbe6da"/><use href="#cb_" x="8.9" y="68.3" fill="#f6af8e"/><use href="#cb_" x="11.9" y="68.3" fill="#edf2f5"/><use href="#cb_" x="14.9" y="68.3" fill="#f9efe9"/><use href="#cb_" x="17.9" y="68.3" fill="#f8f2ef"/><use href="#cb_" x="20.8" y="68.3" fill="#e7f0f4"/><use href="#cb_" x="23.8" y="68.3" fill="#dae9f2"/><use href="#cb_" x="26.8" y="68.3" fill="#ddebf2"/><use href="#cb_" x="29.8" y="68.3" fill="#d7e8f1"/><use href="#cb_" x="32.8" y="68.3" fill="#cce2ef"/><use href="#cb_" x="35.7" y="68.3" fill="#a2cde3"/><use href="#cb_" x="38.7" y="68.3" fill="#acd2e5"/><use href="#cb_" x="41.7" y="68.3" fill="#96c7df"/><use href="#cb_" x="44.7" y="68.3" fill="#8ac0db"/><use href="#cb_" x="47.7" y="68.3" fill="#84bcd9"/><use href="#cb_" x="50.6" y="68.3" fill="#75b2d4"/><use href="#cb_" x="53.6" y="68.3" fill="#65a9cf"/><use href="#cb_" x="56.6" y="68.3" fill="#4393c3"/><use href="#cb_" x="59.6" y="68.3" fill="#4291c2"/><use href="#cb_" x="62.5" y="68.3" fill="#3b88be"/><use href="#cb_" x="65.5" y="68.3" fill="#337eb8"/><use href="#cb_" x="68.5" y="68.3" fill="#307ab6"/><use href="#cb_" x="71.5" y="68.3" fill="#266caf"/><use href="#cb_" x="74.5" y="68.3" fill="#2267ac"/><use href="#cb_" x="77.4" y="68.3" fill="#1f63a8"/><use href="#cb_" x="80.4" y="68.3" fill="#144e8a"/><use href="#cb_" x="83.4" y="68.3" fill="#144e8a"/><use href="#cb_" x="86.4" y="68.3" fill="#0e4179"/><use href="#cb_" x="89.4" y="68.3" fill="#0a3b70"/><use href="#cb_" x="92.3" y="68.3" fill="#053061"/><use href="#cb_" x="95.3" y="68.3" fill="#053061"/><use href="#cb_" x="98.3" y="68.3" fill="#053061"/><use href="#cb_" x="101.3" y="68.3" fill="#053061"/><use href="#cb_" x="104.2" y="68.3" fill="#053061"/><use href="#cb_" x="107.2" y="68.3" fill="#053061"/><use href="#cb_" x="110.2" y="68.3" fill="#053061"/><use href="#cb_" x="113.2" y="68.3" fill="#053061"/><use href="#cb_" x="116.2" y="68.3" fill="#053061"/><use href="#cb_" x="119.1" y="68.3" fill="#053061"/><use href="#cb_" x="122.1" y="68.3" fill="#053061"/><use href="#cb_" x="125.1" y="68.3" fill="#053061"/><use href="#cb_" x="128.1" y="68.3" fill="#053061"/><use href="#cb_" x="131.1" y="68.3" fill="#053061"/><use href="#cb_" x="134" y="68.3" fill="#053061"/><use href="#cb_" x="137" y="68.3" fill="#053061"/><use href="#cb_" x="140" y="68.3" fill="#053061"/><use href="#cb_" x="143" y="68.3" fill="#053061"/><use href="#cb_" x="145.9" y="68.3" fill="#053061"/><use href="#cb_" x="148.9" y="68.3" fill="#053061"/><use href="#cb_" x="0" y="71.3" fill="#ef9979"/><use href="#cb_" x="3" y="71.3" fill="#ec9374"/><use href="#cb_" x="6" y="71.3" fill="#fdd9c4"/><use href="#cb_" x="8.9" y="71.3" fill="#fbe4d6"/><use href="#cb_" x="11.9" y="71.3" fill="#fbe5d8"/><use href="#cb_" x="14.9" y="71.3" fill="#fae7dc"/><use href="#cb_" x="17.9" y="71.3" fill="#f9ede5"/><use href="#cb_" x="20.8" y="71.3" fill="#f8f2ef"/><use href="#cb_" x="23.8" y="71.3" fill="#f5f6f7"/><use href="#cb_" x="26.8" y="71.3" fill="#ecf2f5"/><use href="#cb_" x="29.8" y="71.3" fill="#e6eff4"/><use href="#cb_" x="32.8" y="71.3" fill="#d5e7f1"/><use href="#cb_" x="35.7" y="71.3" fill="#a7d0e4"/><use href="#cb_" x="38.7" y="71.3" fill="#aed3e6"/><use href="#cb_" x="41.7" y="71.3" fill="#a5cee3"/><use href="#cb_" x="44.7" y="71.3" fill="#8dc2dc"/><use href="#cb_" x="47.7" y="71.3" fill="#8dc2dc"/><use href="#cb_" x="50.6" y="71.3" fill="#68abd0"/><use href="#cb_" x="53.6" y="71.3" fill="#4f9bc7"/><use href="#cb_" x="56.6" y="71.3" fill="#59a1ca"/><use href="#cb_" x="59.6" y="71.3" fill="#408fc1"/><use href="#cb_" x="62.5" y="71.3" fill="#3783bb"/><use href="#cb_" x="65.5" y="71.3" fill="#337eb8"/><use href="#cb_" x="68.5" y="71.3" fill="#2f79b5"/><use href="#cb_" x="71.5" y="71.3" fill="#2870b1"/><use href="#cb_" x="74.5" y="71.3" fill="#1b5a9c"/><use href="#cb_" x="77.4" y="71.3" fill="#1b5a9c"/><use href="#cb_" x="80.4" y="71.3" fill="#185493"/><use href="#cb_" x="83.4" y="71.3" fill="#114781"/><use href="#cb_" x="86.4" y="71.3" fill="#10457e"/><use href="#cb_" x="89.4" y="71.3" fill="#10457e"/><use href="#cb_" x="92.3" y="71.3" fill="#063264"/><use href="#cb_" x="95.3" y="71.3" fill="#053061"/><use href="#cb_" x="98.3" y="71.3" fill="#09386d"/><use href="#cb_" x="101.3" y="71.3" fill="#053061"/><use href="#cb_" x="104.2" y="71.3" fill="#053061"/><use href="#cb_" x="107.2" y="71.3" fill="#053061"/><use href="#cb_" x="110.2" y="71.3" fill="#053061"/><use href="#cb_" x="113.2" y="71.3" fill="#053061"/><use href="#cb_" x="116.2" y="71.3" fill="#053061"/><use href="#cb_" x="119.1" y="71.3" fill="#053061"/><use href="#cb_" x="122.1" y="71.3" fill="#053061"/><use href="#cb_" x="125.1" y="71.3" fill="#053061"/><use href="#cb_" x="128.1" y="71.3" fill="#053061"/><use href="#cb_" x="131.1" y="71.3" fill="#053061"/><use href="#cb_" x="134" y="71.3" fill="#053061"/><use href="#cb_" x="137" y="71.3" fill="#053061"/><use href="#cb_" x="140" y="71.3" fill="#0e4179"/><use href="#cb_" x="143" y="71.3" fill="#053061"/><use href="#cb_" x="145.9" y="71.3" fill="#053061"/><use href="#cb_" x="148.9" y="71.3" fill="#053061"/><use href="#cb_" x="0" y="74.3" fill="#f7b596"/><use href="#cb_" x="3" y="74.3" fill="#f5a886"/><use href="#cb_" x="6" y="74.3" fill="#f6b394"/><use href="#cb_" x="8.9" y="74.3" fill="#f7b799"/><use href="#cb_" x="11.9" y="74.3" fill="#fddcc9"/><use href="#cb_" x="14.9" y="74.3" fill="#f8f2ef"/><use href="#cb_" x="17.9" y="74.3" fill="#f3f5f6"/><use href="#cb_" x="20.8" y="74.3" fill="#f3f5f6"/><use href="#cb_" x="23.8" y="74.3" fill="#ecf2f5"/><use href="#cb_" x="26.8" y="74.3" fill="#eff3f5"/><use href="#cb_" x="29.8" y="74.3" fill="#dbeaf2"/><use href="#cb_" x="32.8" y="74.3" fill="#d8e9f1"/><use href="#cb_" x="35.7" y="74.3" fill="#d4e6f1"/><use href="#cb_" x="38.7" y="74.3" fill="#b1d5e7"/><use href="#cb_" x="41.7" y="74.3" fill="#8dc2dc"/><use href="#cb_" x="44.7" y="74.3" fill="#81bad8"/><use href="#cb_" x="47.7" y="74.3" fill="#6bacd1"/><use href="#cb_" x="50.6" y="74.3" fill="#81bad8"/><use href="#cb_" x="53.6" y="74.3" fill="#529dc8"/><use href="#cb_" x="56.6" y="74.3" fill="#569fc9"/><use href="#cb_" x="59.6" y="74.3" fill="#408fc1"/><use href="#cb_" x="62.5" y="74.3" fill="#3e8cbf"/><use href="#cb_" x="65.5" y="74.3" fill="#337eb8"/><use href="#cb_" x="68.5" y="74.3" fill="#2b73b3"/><use href="#cb_" x="71.5" y="74.3" fill="#266caf"/><use href="#cb_" x="74.5" y="74.3" fill="#2369ad"/><use href="#cb_" x="77.4" y="74.3" fill="#1e61a5"/><use href="#cb_" x="80.4" y="74.3" fill="#185493"/><use href="#cb_" x="83.4" y="74.3" fill="#144e8a"/><use href="#cb_" x="86.4" y="74.3" fill="#144e8a"/><use href="#cb_" x="89.4" y="74.3" fill="#063264"/><use href="#cb_" x="92.3" y="74.3" fill="#09386d"/><use href="#cb_" x="95.3" y="74.3" fill="#053061"/><use href="#cb_" x="98.3" y="74.3" fill="#053061"/><use href="#cb_" x="101.3" y="74.3" fill="#053061"/><use href="#cb_" x="104.2" y="74.3" fill="#053061"/><use href="#cb_" x="107.2" y="74.3" fill="#053061"/><use href="#cb_" x="110.2" y="74.3" fill="#053061"/><use href="#cb_" x="113.2" y="74.3" fill="#053061"/><use href="#cb_" x="116.2" y="74.3" fill="#053061"/><use href="#cb_" x="119.1" y="74.3" fill="#053061"/><use href="#cb_" x="122.1" y="74.3" fill="#053061"/><use href="#cb_" x="125.1" y="74.3" fill="#053061"/><use href="#cb_" x="128.1" y="74.3" fill="#053061"/><use href="#cb_" x="131.1" y="74.3" fill="#053061"/><use href="#cb_" x="134" y="74.3" fill="#053061"/><use href="#cb_" x="137" y="74.3" fill="#053061"/><use href="#cb_" x="140" y="74.3" fill="#053061"/><use href="#cb_" x="143" y="74.3" fill="#053061"/><use href="#cb_" x="145.9" y="74.3" fill="#053061"/><use href="#cb_" x="148.9" y="74.3" fill="#053061"/><use href="#cb_" x="0" y="77.2" fill="#f6b191"/><use href="#cb_" x="3" y="77.2" fill="#f9c6ac"/><use href="#cb_" x="6" y="77.2" fill="#f9ede5"/><use href="#cb_" x="8.9" y="77.2" fill="#f9c2a7"/><use href="#cb_" x="11.9" y="77.2" fill="#f19e7d"/><use href="#cb_" x="14.9" y="77.2" fill="#fce2d2"/><use href="#cb_" x="17.9" y="77.2" fill="#fbe6da"/><use href="#cb_" x="20.8" y="77.2" fill="#f5f6f7"/><use href="#cb_" x="23.8" y="77.2" fill="#d7e8f1"/><use href="#cb_" x="26.8" y="77.2" fill="#eff3f5"/><use href="#cb_" x="29.8" y="77.2" fill="#c5dfec"/><use href="#cb_" x="32.8" y="77.2" fill="#cae1ee"/><use href="#cb_" x="35.7" y="77.2" fill="#c2ddec"/><use href="#cb_" x="38.7" y="77.2" fill="#bbdaea"/><use href="#cb_" x="41.7" y="77.2" fill="#a7d0e4"/><use href="#cb_" x="44.7" y="77.2" fill="#96c7df"/><use href="#cb_" x="47.7" y="77.2" fill="#75b2d4"/><use href="#cb_" x="50.6" y="77.2" fill="#5fa5cd"/><use href="#cb_" x="53.6" y="77.2" fill="#5ca3cb"/><use href="#cb_" x="56.6" y="77.2" fill="#4393c3"/><use href="#cb_" x="59.6" y="77.2" fill="#3885bc"/><use href="#cb_" x="62.5" y="77.2" fill="#327cb7"/><use href="#cb_" x="65.5" y="77.2" fill="#2e77b5"/><use href="#cb_" x="68.5" y="77.2" fill="#246aae"/><use href="#cb_" x="71.5" y="77.2" fill="#2267ac"/><use href="#cb_" x="74.5" y="77.2" fill="#1d5fa2"/><use href="#cb_" x="77.4" y="77.2" fill="#1e61a5"/><use href="#cb_" x="80.4" y="77.2" fill="#1a5899"/><use href="#cb_" x="83.4" y="77.2" fill="#1a5899"/><use href="#cb_" x="86.4" y="77.2" fill="#0a3b70"/><use href="#cb_" x="89.4" y="77.2" fill="#09386d"/><use href="#cb_" x="92.3" y="77.2" fill="#0c3d73"/><use href="#cb_" x="95.3" y="77.2" fill="#053061"/><use href="#cb_" x="98.3" y="77.2" fill="#053061"/><use href="#cb_" x="101.3" y="77.2" fill="#053061"/><use href="#cb_" x="104.2" y="77.2" fill="#053061"/><use href="#cb_" x="107.2" y="77.2" fill="#053061"/><use href="#cb_" x="110.2" y="77.2" fill="#053061"/><use href="#cb_" x="113.2" y="77.2" fill="#053061"/><use href="#cb_" x="116.2" y="77.2" fill="#053061"/><use href="#cb_" x="119.1" y="77.2" fill="#053061"/><use href="#cb_" x="122.1" y="77.2" fill="#053061"/><use href="#cb_" x="125.1" y="77.2" fill="#053061"/><use href="#cb_" x="128.1" y="77.2" fill="#053061"/><use href="#cb_" x="131.1" y="77.2" fill="#053061"/><use href="#cb_" x="134" y="77.2" fill="#053061"/><use href="#cb_" x="137" y="77.2" fill="#053061"/><use href="#cb_" x="140" y="77.2" fill="#053061"/><use href="#cb_" x="143" y="77.2" fill="#053061"/><use href="#cb_" x="145.9" y="77.2" fill="#053061"/><use href="#cb_" x="148.9" y="77.2" fill="#053061"/><use href="#cb_" x="0" y="80.2" fill="#faeae1"/><use href="#cb_" x="3" y="80.2" fill="#fac8af"/><use href="#cb_" x="6" y="80.2" fill="#f7b799"/><use href="#cb_" x="8.9" y="80.2" fill="#f6af8e"/><use href="#cb_" x="11.9" y="80.2" fill="#eff3f5"/><use href="#cb_" x="14.9" y="80.2" fill="#f8bb9e"/><use href="#cb_" x="17.9" y="80.2" fill="#eaf1f5"/><use href="#cb_" x="20.8" y="80.2" fill="#f8f4f2"/><use href="#cb_" x="23.8" y="80.2" fill="#f5f6f7"/><use href="#cb_" x="26.8" y="80.2" fill="#eaf1f5"/><use href="#cb_" x="29.8" y="80.2" fill="#d8e9f1"/><use href="#cb_" x="32.8" y="80.2" fill="#b8d8e9"/><use href="#cb_" x="35.7" y="80.2" fill="#c7e0ed"/><use href="#cb_" x="38.7" y="80.2" fill="#a5cee3"/><use href="#cb_" x="41.7" y="80.2" fill="#7bb6d6"/><use href="#cb_" x="44.7" y="80.2" fill="#b3d6e8"/><use href="#cb_" x="47.7" y="80.2" fill="#8ac0db"/><use href="#cb_" x="50.6" y="80.2" fill="#84bcd9"/><use href="#cb_" x="53.6" y="80.2" fill="#4f9bc7"/><use href="#cb_" x="56.6" y="80.2" fill="#59a1ca"/><use href="#cb_" x="59.6" y="80.2" fill="#4695c4"/><use href="#cb_" x="62.5" y="80.2" fill="#3c8abe"/><use href="#cb_" x="65.5" y="80.2" fill="#2f79b5"/><use href="#cb_" x="68.5" y="80.2" fill="#276eb0"/><use href="#cb_" x="71.5" y="80.2" fill="#266caf"/><use href="#cb_" x="74.5" y="80.2" fill="#1c5c9f"/><use href="#cb_" x="77.4" y="80.2" fill="#195696"/><use href="#cb_" x="80.4" y="80.2" fill="#195696"/><use href="#cb_" x="83.4" y="80.2" fill="#114781"/><use href="#cb_" x="86.4" y="80.2" fill="#0f437b"/><use href="#cb_" x="89.4" y="80.2" fill="#0c3d73"/><use href="#cb_" x="92.3" y="80.2" fill="#0f437b"/><use href="#cb_" x="95.3" y="80.2" fill="#09386d"/><use href="#cb_" x="98.3" y="80.2" fill="#053061"/><use href="#cb_" x="101.3" y="80.2" fill="#053061"/><use href="#cb_" x="104.2" y="80.2" fill="#053061"/><use href="#cb_" x="107.2" y="80.2" fill="#053061"/><use href="#cb_" x="110.2" y="80.2" fill="#053061"/><use href="#cb_" x="113.2" y="80.2" fill="#053061"/><use href="#cb_" x="116.2" y="80.2" fill="#053061"/><use href="#cb_" x="119.1" y="80.2" fill="#053061"/><use href="#cb_" x="122.1" y="80.2" fill="#053061"/><use href="#cb_" x="125.1" y="80.2" fill="#053061"/><use href="#cb_" x="128.1" y="80.2" fill="#053061"/><use href="#cb_" x="131.1" y="80.2" fill="#053061"/><use href="#cb_" x="134" y="80.2" fill="#053061"/><use href="#cb_" x="137" y="80.2" fill="#053061"/><use href="#cb_" x="140" y="80.2" fill="#053061"/><use href="#cb_" x="143" y="80.2" fill="#053061"/><use href="#cb_" x="145.9" y="80.2" fill="#0a3b70"/><use href="#cb_" x="148.9" y="80.2" fill="#053061"/><use href="#cb_" x="0" y="83.2" fill="#facab1"/><use href="#cb_" x="3" y="83.2" fill="#f5a886"/><use href="#cb_" x="6" y="83.2" fill="#fcd7c2"/><use href="#cb_" x="8.9" y="83.2" fill="#f9c4a9"/><use href="#cb_" x="11.9" y="83.2" fill="#fdddcb"/><use href="#cb_" x="14.9" y="83.2" fill="#fae7dc"/><use href="#cb_" x="17.9" y="83.2" fill="#f9eee7"/><use href="#cb_" x="20.8" y="83.2" fill="#e4eef4"/><use href="#cb_" x="23.8" y="83.2" fill="#deebf2"/><use href="#cb_" x="26.8" y="83.2" fill="#c5dfec"/><use href="#cb_" x="29.8" y="83.2" fill="#d2e6f0"/><use href="#cb_" x="32.8" y="83.2" fill="#b6d7e8"/><use href="#cb_" x="35.7" y="83.2" fill="#bbdaea"/><use href="#cb_" x="38.7" y="83.2" fill="#a2cde3"/><use href="#cb_" x="41.7" y="83.2" fill="#a2cde3"/><use href="#cb_" x="44.7" y="83.2" fill="#98c8e0"/><use href="#cb_" x="47.7" y="83.2" fill="#6eaed2"/><use href="#cb_" x="50.6" y="83.2" fill="#62a7ce"/><use href="#cb_" x="53.6" y="83.2" fill="#4f9bc7"/><use href="#cb_" x="56.6" y="83.2" fill="#4f9bc7"/><use href="#cb_" x="59.6" y="83.2" fill="#4997c5"/><use href="#cb_" x="62.5" y="83.2" fill="#3a87bd"/><use href="#cb_" x="65.5" y="83.2" fill="#2e77b5"/><use href="#cb_" x="68.5" y="83.2" fill="#307ab6"/><use href="#cb_" x="71.5" y="83.2" fill="#2267ac"/><use href="#cb_" x="74.5" y="83.2" fill="#276eb0"/><use href="#cb_" x="77.4" y="83.2" fill="#1b5a9c"/><use href="#cb_" x="80.4" y="83.2" fill="#114781"/><use href="#cb_" x="83.4" y="83.2" fill="#1c5c9f"/><use href="#cb_" x="86.4" y="83.2" fill="#144e8a"/><use href="#cb_" x="89.4" y="83.2" fill="#08366a"/><use href="#cb_" x="92.3" y="83.2" fill="#08366a"/><use href="#cb_" x="95.3" y="83.2" fill="#053061"/><use href="#cb_" x="98.3" y="83.2" fill="#053061"/><use href="#cb_" x="101.3" y="83.2" fill="#053061"/><use href="#cb_" x="104.2" y="83.2" fill="#053061"/><use href="#cb_" x="107.2" y="83.2" fill="#053061"/><use href="#cb_" x="110.2" y="83.2" fill="#053061"/><use href="#cb_" x="113.2" y="83.2" fill="#053061"/><use href="#cb_" x="116.2" y="83.2" fill="#053061"/><use href="#cb_" x="119.1" y="83.2" fill="#053061"/><use href="#cb_" x="122.1" y="83.2" fill="#053061"/><use href="#cb_" x="125.1" y="83.2" fill="#053061"/><use href="#cb_" x="128.1" y="83.2" fill="#053061"/><use href="#cb_" x="131.1" y="83.2" fill="#053061"/><use href="#cb_" x="134" y="83.2" fill="#053061"/><use href="#cb_" x="137" y="83.2" fill="#053061"/><use href="#cb_" x="140" y="83.2" fill="#053061"/><use href="#cb_" x="143" y="83.2" fill="#053061"/><use href="#cb_" x="145.9" y="83.2" fill="#053061"/><use href="#cb_" x="148.9" y="83.2" fill="#053061"/><use href="#cb_" x="0" y="86.1" fill="#f9c4a9"/><use href="#cb_" x="3" y="86.1" fill="#fbceb7"/><use href="#cb_" x="6" y="86.1" fill="#f7b799"/><use href="#cb_" x="8.9" y="86.1" fill="#fac8af"/><use href="#cb_" x="11.9" y="86.1" fill="#fae8de"/><use href="#cb_" x="14.9" y="86.1" fill="#f7f5f4"/><use href="#cb_" x="17.9" y="86.1" fill="#f8f1ed"/><use href="#cb_" x="20.8" y="86.1" fill="#eaf1f5"/><use href="#cb_" x="23.8" y="86.1" fill="#f2f5f6"/><use href="#cb_" x="26.8" y="86.1" fill="#f8f2ef"/><use href="#cb_" x="29.8" y="86.1" fill="#e0ecf3"/><use href="#cb_" x="32.8" y="86.1" fill="#cce2ef"/><use href="#cb_" x="35.7" y="86.1" fill="#bbdaea"/><use href="#cb_" x="38.7" y="86.1" fill="#a2cde3"/><use href="#cb_" x="41.7" y="86.1" fill="#96c7df"/><use href="#cb_" x="44.7" y="86.1" fill="#84bcd9"/><use href="#cb_" x="47.7" y="86.1" fill="#7bb6d6"/><use href="#cb_" x="50.6" y="86.1" fill="#68abd0"/><use href="#cb_" x="53.6" y="86.1" fill="#62a7ce"/><use href="#cb_" x="56.6" y="86.1" fill="#4695c4"/><use href="#cb_" x="59.6" y="86.1" fill="#3e8cbf"/><use href="#cb_" x="62.5" y="86.1" fill="#327cb7"/><use href="#cb_" x="65.5" y="86.1" fill="#3681ba"/><use href="#cb_" x="68.5" y="86.1" fill="#2c75b4"/><use href="#cb_" x="71.5" y="86.1" fill="#2c75b4"/><use href="#cb_" x="74.5" y="86.1" fill="#246aae"/><use href="#cb_" x="77.4" y="86.1" fill="#2267ac"/><use href="#cb_" x="80.4" y="86.1" fill="#185493"/><use href="#cb_" x="83.4" y="86.1" fill="#175290"/><use href="#cb_" x="86.4" y="86.1" fill="#195696"/><use href="#cb_" x="89.4" y="86.1" fill="#073467"/><use href="#cb_" x="92.3" y="86.1" fill="#0d3f76"/><use href="#cb_" x="95.3" y="86.1" fill="#0a3b70"/><use href="#cb_" x="98.3" y="86.1" fill="#053061"/><use href="#cb_" x="101.3" y="86.1" fill="#053061"/><use href="#cb_" x="104.2" y="86.1" fill="#053061"/><use href="#cb_" x="107.2" y="86.1" fill="#053061"/><use href="#cb_" x="110.2" y="86.1" fill="#053061"/><use href="#cb_" x="113.2" y="86.1" fill="#053061"/><use href="#cb_" x="116.2" y="86.1" fill="#053061"/><use href="#cb_" x="119.1" y="86.1" fill="#053061"/><use href="#cb_" x="122.1" y="86.1" fill="#053061"/><use href="#cb_" x="125.1" y="86.1" fill="#053061"/><use href="#cb_" x="128.1" y="86.1" fill="#053061"/><use href="#cb_" x="131.1" y="86.1" fill="#053061"/><use href="#cb_" x="134" y="86.1" fill="#053061"/><use href="#cb_" x="137" y="86.1" fill="#053061"/><use href="#cb_" x="140" y="86.1" fill="#053061"/><use href="#cb_" x="143" y="86.1" fill="#053061"/><use href="#cb_" x="145.9" y="86.1" fill="#053061"/><use href="#cb_" x="148.9" y="86.1" fill="#053061"/><use href="#cb_" x="0" y="89.1" fill="#f3a481"/><use href="#cb_" x="3" y="89.1" fill="#fae9df"/><use href="#cb_" x="6" y="89.1" fill="#f7b799"/><use href="#cb_" x="8.9" y="89.1" fill="#e48066"/><use href="#cb_" x="11.9" y="89.1" fill="#f2f5f6"/><use href="#cb_" x="14.9" y="89.1" fill="#fcdecd"/><use href="#cb_" x="17.9" y="89.1" fill="#f9f0eb"/><use href="#cb_" x="20.8" y="89.1" fill="#eaf1f5"/><use href="#cb_" x="23.8" y="89.1" fill="#f6f7f7"/><use href="#cb_" x="26.8" y="89.1" fill="#cfe4ef"/><use href="#cb_" x="29.8" y="89.1" fill="#d8e9f1"/><use href="#cb_" x="32.8" y="89.1" fill="#ddebf2"/><use href="#cb_" x="35.7" y="89.1" fill="#bbdaea"/><use href="#cb_" x="38.7" y="89.1" fill="#a9d1e5"/><use href="#cb_" x="41.7" y="89.1" fill="#a2cde3"/><use href="#cb_" x="44.7" y="89.1" fill="#8ac0db"/><use href="#cb_" x="47.7" y="89.1" fill="#96c7df"/><use href="#cb_" x="50.6" y="89.1" fill="#62a7ce"/><use href="#cb_" x="53.6" y="89.1" fill="#65a9cf"/><use href="#cb_" x="56.6" y="89.1" fill="#3f8ec0"/><use href="#cb_" x="59.6" y="89.1" fill="#408fc1"/><use href="#cb_" x="62.5" y="89.1" fill="#3681ba"/><use href="#cb_" x="65.5" y="89.1" fill="#246aae"/><use href="#cb_" x="68.5" y="89.1" fill="#2b73b3"/><use href="#cb_" x="71.5" y="89.1" fill="#2369ad"/><use href="#cb_" x="74.5" y="89.1" fill="#2065ab"/><use href="#cb_" x="77.4" y="89.1" fill="#2267ac"/><use href="#cb_" x="80.4" y="89.1" fill="#15508d"/><use href="#cb_" x="83.4" y="89.1" fill="#114781"/><use href="#cb_" x="86.4" y="89.1" fill="#144e8a"/><use href="#cb_" x="89.4" y="89.1" fill="#0d3f76"/><use href="#cb_" x="92.3" y="89.1" fill="#0e4179"/><use href="#cb_" x="95.3" y="89.1" fill="#053061"/><use href="#cb_" x="98.3" y="89.1" fill="#053061"/><use href="#cb_" x="101.3" y="89.1" fill="#053061"/><use href="#cb_" x="104.2" y="89.1" fill="#053061"/><use href="#cb_" x="107.2" y="89.1" fill="#053061"/><use href="#cb_" x="110.2" y="89.1" fill="#053061"/><use href="#cb_" x="113.2" y="89.1" fill="#053061"/><use href="#cb_" x="116.2" y="89.1" fill="#053061"/><use href="#cb_" x="119.1" y="89.1" fill="#053061"/><use href="#cb_" x="122.1" y="89.1" fill="#053061"/><use href="#cb_" x="125.1" y="89.1" fill="#053061"/><use href="#cb_" x="128.1" y="89.1" fill="#053061"/><use href="#cb_" x="131.1" y="89.1" fill="#053061"/><use href="#cb_" x="134" y="89.1" fill="#053061"/><use href="#cb_" x="137" y="89.1" fill="#053061"/><use href="#cb_" x="140" y="89.1" fill="#053061"/><use href="#cb_" x="143" y="89.1" fill="#053061"/><use href="#cb_" x="145.9" y="89.1" fill="#053061"/><use href="#cb_" x="148.9" y="89.1" fill="#053061"/><use href="#cb_" x="0" y="92.1" fill="#fcdecd"/><use href="#cb_" x="3" y="92.1" fill="#f5a886"/><use href="#cb_" x="6" y="92.1" fill="#fdddcb"/><use href="#cb_" x="8.9" y="92.1" fill="#fbd0b9"/><use href="#cb_" x="11.9" y="92.1" fill="#f9c6ac"/><use href="#cb_" x="14.9" y="92.1" fill="#fbe4d6"/><use href="#cb_" x="17.9" y="92.1" fill="#f7f5f4"/><use href="#cb_" x="20.8" y="92.1" fill="#fae8de"/><use href="#cb_" x="23.8" y="92.1" fill="#edf2f5"/><use href="#cb_" x="26.8" y="92.1" fill="#d8e9f1"/><use href="#cb_" x="29.8" y="92.1" fill="#e0ecf3"/><use href="#cb_" x="32.8" y="92.1" fill="#d2e6f0"/><use href="#cb_" x="35.7" y="92.1" fill="#aed3e6"/><use href="#cb_" x="38.7" y="92.1" fill="#aed3e6"/><use href="#cb_" x="41.7" y="92.1" fill="#9dcbe1"/><use href="#cb_" x="44.7" y="92.1" fill="#71b0d3"/><use href="#cb_" x="47.7" y="92.1" fill="#7eb8d7"/><use href="#cb_" x="50.6" y="92.1" fill="#68abd0"/><use href="#cb_" x="53.6" y="92.1" fill="#569fc9"/><use href="#cb_" x="56.6" y="92.1" fill="#3e8cbf"/><use href="#cb_" x="59.6" y="92.1" fill="#3c8abe"/><use href="#cb_" x="62.5" y="92.1" fill="#3681ba"/><use href="#cb_" x="65.5" y="92.1" fill="#2f79b5"/><use href="#cb_" x="68.5" y="92.1" fill="#266caf"/><use href="#cb_" x="71.5" y="92.1" fill="#2a71b2"/><use href="#cb_" x="74.5" y="92.1" fill="#1e61a5"/><use href="#cb_" x="77.4" y="92.1" fill="#1c5c9f"/><use href="#cb_" x="80.4" y="92.1" fill="#1d5fa2"/><use href="#cb_" x="83.4" y="92.1" fill="#114781"/><use href="#cb_" x="86.4" y="92.1" fill="#0e4179"/><use href="#cb_" x="89.4" y="92.1" fill="#10457e"/><use href="#cb_" x="92.3" y="92.1" fill="#063264"/><use href="#cb_" x="95.3" y="92.1" fill="#053061"/><use href="#cb_" x="98.3" y="92.1" fill="#053061"/><use href="#cb_" x="101.3" y="92.1" fill="#053061"/><use href="#cb_" x="104.2" y="92.1" fill="#053061"/><use href="#cb_" x="107.2" y="92.1" fill="#053061"/><use href="#cb_" x="110.2" y="92.1" fill="#053061"/><use href="#cb_" x="113.2" y="92.1" fill="#053061"/><use href="#cb_" x="116.2" y="92.1" fill="#053061"/><use href="#cb_" x="119.1" y="92.1" fill="#053061"/><use href="#cb_" x="122.1" y="92.1" fill="#053061"/><use href="#cb_" x="125.1" y="92.1" fill="#053061"/><use href="#cb_" x="128.1" y="92.1" fill="#053061"/><use href="#cb_" x="131.1" y="92.1" fill="#053061"/><use href="#cb_" x="134" y="92.1" fill="#053061"/><use href="#cb_" x="137" y="92.1" fill="#053061"/><use href="#cb_" x="140" y="92.1" fill="#053061"/><use href="#cb_" x="143" y="92.1" fill="#053061"/><use href="#cb_" x="145.9" y="92.1" fill="#053061"/><use href="#cb_" x="148.9" y="92.1" fill="#053061"/><use href="#cb_" x="0" y="95.1" fill="#fdd9c4"/><use href="#cb_" x="3" y="95.1" fill="#f8bb9e"/><use href="#cb_" x="6" y="95.1" fill="#f7b799"/><use href="#cb_" x="8.9" y="95.1" fill="#fae8de"/><use href="#cb_" x="11.9" y="95.1" fill="#fbe6da"/><use href="#cb_" x="14.9" y="95.1" fill="#fcdecd"/><use href="#cb_" x="17.9" y="95.1" fill="#f0f4f6"/><use href="#cb_" x="20.8" y="95.1" fill="#edf2f5"/><use href="#cb_" x="23.8" y="95.1" fill="#d5e7f1"/><use href="#cb_" x="26.8" y="95.1" fill="#d2e6f0"/><use href="#cb_" x="29.8" y="95.1" fill="#cfe4ef"/><use href="#cb_" x="32.8" y="95.1" fill="#e4eef4"/><use href="#cb_" x="35.7" y="95.1" fill="#b6d7e8"/><use href="#cb_" x="38.7" y="95.1" fill="#a5cee3"/><use href="#cb_" x="41.7" y="95.1" fill="#98c8e0"/><use href="#cb_" x="44.7" y="95.1" fill="#8dc2dc"/><use href="#cb_" x="47.7" y="95.1" fill="#87beda"/><use href="#cb_" x="50.6" y="95.1" fill="#6eaed2"/><use href="#cb_" x="53.6" y="95.1" fill="#75b2d4"/><use href="#cb_" x="56.6" y="95.1" fill="#4997c5"/><use href="#cb_" x="59.6" y="95.1" fill="#4695c4"/><use href="#cb_" x="62.5" y="95.1" fill="#3783bb"/><use href="#cb_" x="65.5" y="95.1" fill="#327cb7"/><use href="#cb_" x="68.5" y="95.1" fill="#246aae"/><use href="#cb_" x="71.5" y="95.1" fill="#266caf"/><use href="#cb_" x="74.5" y="95.1" fill="#2267ac"/><use href="#cb_" x="77.4" y="95.1" fill="#1c5c9f"/><use href="#cb_" x="80.4" y="95.1" fill="#114781"/><use href="#cb_" x="83.4" y="95.1" fill="#175290"/><use href="#cb_" x="86.4" y="95.1" fill="#0e4179"/><use href="#cb_" x="89.4" y="95.1" fill="#0a3b70"/><use href="#cb_" x="92.3" y="95.1" fill="#073467"/><use href="#cb_" x="95.3" y="95.1" fill="#053061"/><use href="#cb_" x="98.3" y="95.1" fill="#053061"/><use href="#cb_" x="101.3" y="95.1" fill="#053061"/><use href="#cb_" x="104.2" y="95.1" fill="#053061"/><use href="#cb_" x="107.2" y="95.1" fill="#053061"/><use href="#cb_" x="110.2" y="95.1" fill="#053061"/><use href="#cb_" x="113.2" y="95.1" fill="#053061"/><use href="#cb_" x="116.2" y="95.1" fill="#053061"/><use href="#cb_" x="119.1" y="95.1" fill="#053061"/><use href="#cb_" x="122.1" y="95.1" fill="#053061"/><use href="#cb_" x="125.1" y="95.1" fill="#053061"/><use href="#cb_" x="128.1" y="95.1" fill="#053061"/><use href="#cb_" x="131.1" y="95.1" fill="#053061"/><use href="#cb_" x="134" y="95.1" fill="#053061"/><use href="#cb_" x="137" y="95.1" fill="#053061"/><use href="#cb_" x="140" y="95.1" fill="#053061"/><use href="#cb_" x="143" y="95.1" fill="#053061"/><use href="#cb_" x="145.9" y="95.1" fill="#053061"/><use href="#cb_" x="148.9" y="95.1" fill="#053061"/><use href="#cb_" x="0" y="98" fill="#facab1"/><use href="#cb_" x="3" y="98" fill="#fcd3bc"/><use href="#cb_" x="6" y="98" fill="#fcdfcf"/><use href="#cb_" x="8.9" y="98" fill="#fddcc9"/><use href="#cb_" x="11.9" y="98" fill="#e7f0f4"/><use href="#cb_" x="14.9" y="98" fill="#fae8de"/><use href="#cb_" x="17.9" y="98" fill="#deebf2"/><use href="#cb_" x="20.8" y="98" fill="#deebf2"/><use href="#cb_" x="23.8" y="98" fill="#ddebf2"/><use href="#cb_" x="26.8" y="98" fill="#cae1ee"/><use href="#cb_" x="29.8" y="98" fill="#bbdaea"/><use href="#cb_" x="32.8" y="98" fill="#b6d7e8"/><use href="#cb_" x="35.7" y="98" fill="#bbdaea"/><use href="#cb_" x="38.7" y="98" fill="#b6d7e8"/><use href="#cb_" x="41.7" y="98" fill="#a7d0e4"/><use href="#cb_" x="44.7" y="98" fill="#7eb8d7"/><use href="#cb_" x="47.7" y="98" fill="#71b0d3"/><use href="#cb_" x="50.6" y="98" fill="#5ca3cb"/><use href="#cb_" x="53.6" y="98" fill="#5fa5cd"/><use href="#cb_" x="56.6" y="98" fill="#3a87bd"/><use href="#cb_" x="59.6" y="98" fill="#4695c4"/><use href="#cb_" x="62.5" y="98" fill="#337eb8"/><use href="#cb_" x="65.5" y="98" fill="#2b73b3"/><use href="#cb_" x="68.5" y="98" fill="#2c75b4"/><use href="#cb_" x="71.5" y="98" fill="#2b73b3"/><use href="#cb_" x="74.5" y="98" fill="#2369ad"/><use href="#cb_" x="77.4" y="98" fill="#2267ac"/><use href="#cb_" x="80.4" y="98" fill="#195696"/><use href="#cb_" x="83.4" y="98" fill="#195696"/><use href="#cb_" x="86.4" y="98" fill="#144e8a"/><use href="#cb_" x="89.4" y="98" fill="#0c3d73"/><use href="#cb_" x="92.3" y="98" fill="#0f437b"/><use href="#cb_" x="95.3" y="98" fill="#053061"/><use href="#cb_" x="98.3" y="98" fill="#053061"/><use href="#cb_" x="101.3" y="98" fill="#053061"/><use href="#cb_" x="104.2" y="98" fill="#053061"/><use href="#cb_" x="107.2" y="98" fill="#053061"/><use href="#cb_" x="110.2" y="98" fill="#053061"/><use href="#cb_" x="113.2" y="98" fill="#053061"/><use href="#cb_" x="116.2" y="98" fill="#053061"/><use href="#cb_" x="119.1" y="98" fill="#053061"/><use href="#cb_" x="122.1" y="98" fill="#053061"/><use href="#cb_" x="125.1" y="98" fill="#053061"/><use href="#cb_" x="128.1" y="98" fill="#053061"/><use href="#cb_" x="131.1" y="98" fill="#053061"/><use href="#cb_" x="134" y="98" fill="#053061"/><use href="#cb_" x="137" y="98" fill="#053061"/><use href="#cb_" x="140" y="98" fill="#053061"/><use href="#cb_" x="143" y="98" fill="#053061"/><use href="#cb_" x="145.9" y="98" fill="#053061"/><use href="#cb_" x="148.9" y="98" fill="#053061"/><use href="#cb_" x="0" y="101" fill="#f4a683"/><use href="#cb_" x="3" y="101" fill="#fcd5bf"/><use href="#cb_" x="6" y="101" fill="#f8bda1"/><use href="#cb_" x="8.9" y="101" fill="#f9eee7"/><use href="#cb_" x="11.9" y="101" fill="#f9f0eb"/><use href="#cb_" x="14.9" y="101" fill="#fac8af"/><use href="#cb_" x="17.9" y="101" fill="#e4eef4"/><use href="#cb_" x="20.8" y="101" fill="#dbeaf2"/><use href="#cb_" x="23.8" y="101" fill="#ddebf2"/><use href="#cb_" x="26.8" y="101" fill="#cae1ee"/><use href="#cb_" x="29.8" y="101" fill="#e4eef4"/><use href="#cb_" x="32.8" y="101" fill="#e1edf3"/><use href="#cb_" x="35.7" y="101" fill="#acd2e5"/><use href="#cb_" x="38.7" y="101" fill="#8ac0db"/><use href="#cb_" x="41.7" y="101" fill="#b1d5e7"/><use href="#cb_" x="44.7" y="101" fill="#a0cce2"/><use href="#cb_" x="47.7" y="101" fill="#8ac0db"/><use href="#cb_" x="50.6" y="101" fill="#7eb8d7"/><use href="#cb_" x="53.6" y="101" fill="#4997c5"/><use href="#cb_" x="56.6" y="101" fill="#4393c3"/><use href="#cb_" x="59.6" y="101" fill="#3480b9"/><use href="#cb_" x="62.5" y="101" fill="#2e77b5"/><use href="#cb_" x="65.5" y="101" fill="#3480b9"/><use href="#cb_" x="68.5" y="101" fill="#276eb0"/><use href="#cb_" x="71.5" y="101" fill="#337eb8"/><use href="#cb_" x="74.5" y="101" fill="#2267ac"/><use href="#cb_" x="77.4" y="101" fill="#1a5899"/><use href="#cb_" x="80.4" y="101" fill="#1c5c9f"/><use href="#cb_" x="83.4" y="101" fill="#1c5c9f"/><use href="#cb_" x="86.4" y="101" fill="#124984"/><use href="#cb_" x="89.4" y="101" fill="#053061"/><use href="#cb_" x="92.3" y="101" fill="#09386d"/><use href="#cb_" x="95.3" y="101" fill="#0c3d73"/><use href="#cb_" x="98.3" y="101" fill="#053061"/><use href="#cb_" x="101.3" y="101" fill="#053061"/><use href="#cb_" x="104.2" y="101" fill="#053061"/><use href="#cb_" x="107.2" y="101" fill="#053061"/><use href="#cb_" x="110.2" y="101" fill="#053061"/><use href="#cb_" x="113.2" y="101" fill="#053061"/><use href="#cb_" x="116.2" y="101" fill="#053061"/><use href="#cb_" x="119.1" y="101" fill="#053061"/><use href="#cb_" x="122.1" y="101" fill="#053061"/><use href="#cb_" x="125.1" y="101" fill="#053061"/><use href="#cb_" x="128.1" y="101" fill="#053061"/><use href="#cb_" x="131.1" y="101" fill="#053061"/><use href="#cb_" x="134" y="101" fill="#053061"/><use href="#cb_" x="137" y="101" fill="#053061"/><use href="#cb_" x="140" y="101" fill="#053061"/><use href="#cb_" x="143" y="101" fill="#053061"/><use href="#cb_" x="145.9" y="101" fill="#053061"/><use href="#cb_" x="148.9" y="101" fill="#053061"/><use href="#cb_" x="0" y="104" fill="#f2a17f"/><use href="#cb_" x="3" y="104" fill="#faeae1"/><use href="#cb_" x="6" y="104" fill="#e9f0f4"/><use href="#cb_" x="8.9" y="104" fill="#f9c6ac"/><use href="#cb_" x="11.9" y="104" fill="#f7f5f4"/><use href="#cb_" x="14.9" y="104" fill="#f6f7f7"/><use href="#cb_" x="17.9" y="104" fill="#d5e7f1"/><use href="#cb_" x="20.8" y="104" fill="#cfe4ef"/><use href="#cb_" x="23.8" y="104" fill="#cce2ef"/><use href="#cb_" x="26.8" y="104" fill="#d5e7f1"/><use href="#cb_" x="29.8" y="104" fill="#d8e9f1"/><use href="#cb_" x="32.8" y="104" fill="#93c6de"/><use href="#cb_" x="35.7" y="104" fill="#c7e0ed"/><use href="#cb_" x="38.7" y="104" fill="#93c6de"/><use href="#cb_" x="41.7" y="104" fill="#84bcd9"/><use href="#cb_" x="44.7" y="104" fill="#98c8e0"/><use href="#cb_" x="47.7" y="104" fill="#78b4d5"/><use href="#cb_" x="50.6" y="104" fill="#4997c5"/><use href="#cb_" x="53.6" y="104" fill="#78b4d5"/><use href="#cb_" x="56.6" y="104" fill="#3e8cbf"/><use href="#cb_" x="59.6" y="104" fill="#3e8cbf"/><use href="#cb_" x="62.5" y="104" fill="#3783bb"/><use href="#cb_" x="65.5" y="104" fill="#3885bc"/><use href="#cb_" x="68.5" y="104" fill="#276eb0"/><use href="#cb_" x="71.5" y="104" fill="#2c75b4"/><use href="#cb_" x="74.5" y="104" fill="#1d5fa2"/><use href="#cb_" x="77.4" y="104" fill="#2369ad"/><use href="#cb_" x="80.4" y="104" fill="#144e8a"/><use href="#cb_" x="83.4" y="104" fill="#114781"/><use href="#cb_" x="86.4" y="104" fill="#1a5899"/><use href="#cb_" x="89.4" y="104" fill="#0e4179"/><use href="#cb_" x="92.3" y="104" fill="#08366a"/><use href="#cb_" x="95.3" y="104" fill="#124984"/><use href="#cb_" x="98.3" y="104" fill="#053061"/><use href="#cb_" x="101.3" y="104" fill="#053061"/><use href="#cb_" x="104.2" y="104" fill="#053061"/><use href="#cb_" x="107.2" y="104" fill="#053061"/><use href="#cb_" x="110.2" y="104" fill="#053061"/><use href="#cb_" x="113.2" y="104" fill="#053061"/><use href="#cb_" x="116.2" y="104" fill="#053061"/><use href="#cb_" x="119.1" y="104" fill="#053061"/><use href="#cb_" x="122.1" y="104" fill="#053061"/><use href="#cb_" x="125.1" y="104" fill="#053061"/><use href="#cb_" x="128.1" y="104" fill="#053061"/><use href="#cb_" x="131.1" y="104" fill="#053061"/><use href="#cb_" x="134" y="104" fill="#053061"/><use href="#cb_" x="137" y="104" fill="#053061"/><use href="#cb_" x="140" y="104" fill="#053061"/><use href="#cb_" x="143" y="104" fill="#053061"/><use href="#cb_" x="145.9" y="104" fill="#053061"/><use href="#cb_" x="148.9" y="104" fill="#053061"/><use href="#cb_" x="0" y="106.9" fill="#f7b799"/><use href="#cb_" x="3" y="106.9" fill="#fddcc9"/><use href="#cb_" x="6" y="106.9" fill="#faeae1"/><use href="#cb_" x="8.9" y="106.9" fill="#eff3f5"/><use href="#cb_" x="11.9" y="106.9" fill="#e9f0f4"/><use href="#cb_" x="14.9" y="106.9" fill="#f9f0eb"/><use href="#cb_" x="17.9" y="106.9" fill="#d8e9f1"/><use href="#cb_" x="20.8" y="106.9" fill="#e6eff4"/><use href="#cb_" x="23.8" y="106.9" fill="#f2f5f6"/><use href="#cb_" x="26.8" y="106.9" fill="#eaf1f5"/><use href="#cb_" x="29.8" y="106.9" fill="#eaf1f5"/><use href="#cb_" x="32.8" y="106.9" fill="#bbdaea"/><use href="#cb_" x="35.7" y="106.9" fill="#9dcbe1"/><use href="#cb_" x="38.7" y="106.9" fill="#bddbea"/><use href="#cb_" x="41.7" y="106.9" fill="#a0cce2"/><use href="#cb_" x="44.7" y="106.9" fill="#a2cde3"/><use href="#cb_" x="47.7" y="106.9" fill="#78b4d5"/><use href="#cb_" x="50.6" y="106.9" fill="#81bad8"/><use href="#cb_" x="53.6" y="106.9" fill="#65a9cf"/><use href="#cb_" x="56.6" y="106.9" fill="#529dc8"/><use href="#cb_" x="59.6" y="106.9" fill="#408fc1"/><use href="#cb_" x="62.5" y="106.9" fill="#3885bc"/><use href="#cb_" x="65.5" y="106.9" fill="#307ab6"/><use href="#cb_" x="68.5" y="106.9" fill="#2c75b4"/><use href="#cb_" x="71.5" y="106.9" fill="#2e77b5"/><use href="#cb_" x="74.5" y="106.9" fill="#1d5fa2"/><use href="#cb_" x="77.4" y="106.9" fill="#2a71b2"/><use href="#cb_" x="80.4" y="106.9" fill="#185493"/><use href="#cb_" x="83.4" y="106.9" fill="#1a5899"/><use href="#cb_" x="86.4" y="106.9" fill="#0f437b"/><use href="#cb_" x="89.4" y="106.9" fill="#09386d"/><use href="#cb_" x="92.3" y="106.9" fill="#175290"/><use href="#cb_" x="95.3" y="106.9" fill="#053061"/><use href="#cb_" x="98.3" y="106.9" fill="#053061"/><use href="#cb_" x="101.3" y="106.9" fill="#053061"/><use href="#cb_" x="104.2" y="106.9" fill="#053061"/><use href="#cb_" x="107.2" y="106.9" fill="#0a3b70"/><use href="#cb_" x="110.2" y="106.9" fill="#053061"/><use href="#cb_" x="113.2" y="106.9" fill="#053061"/><use href="#cb_" x="116.2" y="106.9" fill="#053061"/><use href="#cb_" x="119.1" y="106.9" fill="#053061"/><use href="#cb_" x="122.1" y="106.9" fill="#053061"/><use href="#cb_" x="125.1" y="106.9" fill="#053061"/><use href="#cb_" x="128.1" y="106.9" fill="#053061"/><use href="#cb_" x="131.1" y="106.9" fill="#053061"/><use href="#cb_" x="134" y="106.9" fill="#053061"/><use href="#cb_" x="137" y="106.9" fill="#053061"/><use href="#cb_" x="140" y="106.9" fill="#053061"/><use href="#cb_" x="143" y="106.9" fill="#053061"/><use href="#cb_" x="145.9" y="106.9" fill="#053061"/><use href="#cb_" x="148.9" y="106.9" fill="#053061"/><use href="#cb_" x="0" y="109.9" fill="#f8bda1"/><use href="#cb_" x="3" y="109.9" fill="#fbe6da"/><use href="#cb_" x="6" y="109.9" fill="#f0f4f6"/><use href="#cb_" x="8.9" y="109.9" fill="#f8bda1"/><use href="#cb_" x="11.9" y="109.9" fill="#f9ede5"/><use href="#cb_" x="14.9" y="109.9" fill="#fae8de"/><use href="#cb_" x="17.9" y="109.9" fill="#faeae1"/><use href="#cb_" x="20.8" y="109.9" fill="#d8e9f1"/><use href="#cb_" x="23.8" y="109.9" fill="#edf2f5"/><use href="#cb_" x="26.8" y="109.9" fill="#d2e6f0"/><use href="#cb_" x="29.8" y="109.9" fill="#cce2ef"/><use href="#cb_" x="32.8" y="109.9" fill="#bddbea"/><use href="#cb_" x="35.7" y="109.9" fill="#b3d6e8"/><use href="#cb_" x="38.7" y="109.9" fill="#c2ddec"/><use href="#cb_" x="41.7" y="109.9" fill="#9bc9e0"/><use href="#cb_" x="44.7" y="109.9" fill="#84bcd9"/><use href="#cb_" x="47.7" y="109.9" fill="#6eaed2"/><use href="#cb_" x="50.6" y="109.9" fill="#6eaed2"/><use href="#cb_" x="53.6" y="109.9" fill="#3f8ec0"/><use href="#cb_" x="56.6" y="109.9" fill="#3c8abe"/><use href="#cb_" x="59.6" y="109.9" fill="#3b88be"/><use href="#cb_" x="62.5" y="109.9" fill="#2e77b5"/><use href="#cb_" x="65.5" y="109.9" fill="#2c75b4"/><use href="#cb_" x="68.5" y="109.9" fill="#2369ad"/><use href="#cb_" x="71.5" y="109.9" fill="#3885bc"/><use href="#cb_" x="74.5" y="109.9" fill="#2e77b5"/><use href="#cb_" x="77.4" y="109.9" fill="#1f63a8"/><use href="#cb_" x="80.4" y="109.9" fill="#185493"/><use href="#cb_" x="83.4" y="109.9" fill="#266caf"/><use href="#cb_" x="86.4" y="109.9" fill="#114781"/><use href="#cb_" x="89.4" y="109.9" fill="#0a3b70"/><use href="#cb_" x="92.3" y="109.9" fill="#0a3b70"/><use href="#cb_" x="95.3" y="109.9" fill="#063264"/><use href="#cb_" x="98.3" y="109.9" fill="#0d3f76"/><use href="#cb_" x="101.3" y="109.9" fill="#053061"/><use href="#cb_" x="104.2" y="109.9" fill="#0f437b"/><use href="#cb_" x="107.2" y="109.9" fill="#053061"/><use href="#cb_" x="110.2" y="109.9" fill="#053061"/><use href="#cb_" x="113.2" y="109.9" fill="#053061"/><use href="#cb_" x="116.2" y="109.9" fill="#063264"/><use href="#cb_" x="119.1" y="109.9" fill="#053061"/><use href="#cb_" x="122.1" y="109.9" fill="#053061"/><use href="#cb_" x="125.1" y="109.9" fill="#053061"/><use href="#cb_" x="128.1" y="109.9" fill="#053061"/><use href="#cb_" x="131.1" y="109.9" fill="#053061"/><use href="#cb_" x="134" y="109.9" fill="#053061"/><use href="#cb_" x="137" y="109.9" fill="#053061"/><use href="#cb_" x="140" y="109.9" fill="#053061"/><use href="#cb_" x="143" y="109.9" fill="#053061"/><use href="#cb_" x="145.9" y="109.9" fill="#053061"/><use href="#cb_" x="148.9" y="109.9" fill="#053061"/><use href="#cb_" x="0" y="112.9" fill="#fbe6da"/><use href="#cb_" x="3" y="112.9" fill="#f8f1ed"/><use href="#cb_" x="6" y="112.9" fill="#fdd9c4"/><use href="#cb_" x="8.9" y="112.9" fill="#f9c2a7"/><use href="#cb_" x="11.9" y="112.9" fill="#bbdaea"/><use href="#cb_" x="14.9" y="112.9" fill="#eaf1f5"/><use href="#cb_" x="17.9" y="112.9" fill="#dbeaf2"/><use href="#cb_" x="20.8" y="112.9" fill="#ecf2f5"/><use href="#cb_" x="23.8" y="112.9" fill="#bddbea"/><use href="#cb_" x="26.8" y="112.9" fill="#d1e5f0"/><use href="#cb_" x="29.8" y="112.9" fill="#a7d0e4"/><use href="#cb_" x="32.8" y="112.9" fill="#d2e6f0"/><use href="#cb_" x="35.7" y="112.9" fill="#b3d6e8"/><use href="#cb_" x="38.7" y="112.9" fill="#9dcbe1"/><use href="#cb_" x="41.7" y="112.9" fill="#a0cce2"/><use href="#cb_" x="44.7" y="112.9" fill="#7bb6d6"/><use href="#cb_" x="47.7" y="112.9" fill="#4291c2"/><use href="#cb_" x="50.6" y="112.9" fill="#75b2d4"/><use href="#cb_" x="53.6" y="112.9" fill="#59a1ca"/><use href="#cb_" x="56.6" y="112.9" fill="#3f8ec0"/><use href="#cb_" x="59.6" y="112.9" fill="#4c99c6"/><use href="#cb_" x="62.5" y="112.9" fill="#4291c2"/><use href="#cb_" x="65.5" y="112.9" fill="#2065ab"/><use href="#cb_" x="68.5" y="112.9" fill="#1f63a8"/><use href="#cb_" x="71.5" y="112.9" fill="#3783bb"/><use href="#cb_" x="74.5" y="112.9" fill="#327cb7"/><use href="#cb_" x="77.4" y="112.9" fill="#144e8a"/><use href="#cb_" x="80.4" y="112.9" fill="#0c3d73"/><use href="#cb_" x="83.4" y="112.9" fill="#0d3f76"/><use href="#cb_" x="86.4" y="112.9" fill="#09386d"/><use href="#cb_" x="89.4" y="112.9" fill="#053061"/><use href="#cb_" x="92.3" y="112.9" fill="#073467"/><use href="#cb_" x="95.3" y="112.9" fill="#053061"/><use href="#cb_" x="98.3" y="112.9" fill="#053061"/><use href="#cb_" x="101.3" y="112.9" fill="#073467"/><use href="#cb_" x="104.2" y="112.9" fill="#053061"/><use href="#cb_" x="107.2" y="112.9" fill="#053061"/><use href="#cb_" x="110.2" y="112.9" fill="#053061"/><use href="#cb_" x="113.2" y="112.9" fill="#053061"/><use href="#cb_" x="116.2" y="112.9" fill="#053061"/><use href="#cb_" x="119.1" y="112.9" fill="#053061"/><use href="#cb_" x="122.1" y="112.9" fill="#053061"/><use href="#cb_" x="125.1" y="112.9" fill="#073467"/><use href="#cb_" x="128.1" y="112.9" fill="#053061"/><use href="#cb_" x="131.1" y="112.9" fill="#053061"/><use href="#cb_" x="134" y="112.9" fill="#053061"/><use href="#cb_" x="137" y="112.9" fill="#053061"/><use href="#cb_" x="140" y="112.9" fill="#053061"/><use href="#cb_" x="143" y="112.9" fill="#0e4179"/><use href="#cb_" x="145.9" y="112.9" fill="#053061"/><use href="#cb_" x="148.9" y="112.9" fill="#053061"/><use href="#cb_" x="0" y="115.9" fill="#fbe3d4"/><use href="#cb_" x="3" y="115.9" fill="#e1edf3"/><use href="#cb_" x="6" y="115.9" fill="#fbe6da"/><use href="#cb_" x="8.9" y="115.9" fill="#f9f0eb"/><use href="#cb_" x="11.9" y="115.9" fill="#f2a17f"/><use href="#cb_" x="14.9" y="115.9" fill="#eaf1f5"/><use href="#cb_" x="17.9" y="115.9" fill="#8ac0db"/><use href="#cb_" x="20.8" y="115.9" fill="#c7e0ed"/><use href="#cb_" x="23.8" y="115.9" fill="#dbeaf2"/><use href="#cb_" x="26.8" y="115.9" fill="#9dcbe1"/><use href="#cb_" x="29.8" y="115.9" fill="#a2cde3"/><use href="#cb_" x="32.8" y="115.9" fill="#a9d1e5"/><use href="#cb_" x="35.7" y="115.9" fill="#b8d8e9"/><use href="#cb_" x="38.7" y="115.9" fill="#98c8e0"/><use href="#cb_" x="41.7" y="115.9" fill="#6bacd1"/><use href="#cb_" x="44.7" y="115.9" fill="#9dcbe1"/><use href="#cb_" x="47.7" y="115.9" fill="#59a1ca"/><use href="#cb_" x="50.6" y="115.9" fill="#4997c5"/><use href="#cb_" x="53.6" y="115.9" fill="#307ab6"/><use href="#cb_" x="56.6" y="115.9" fill="#337eb8"/><use href="#cb_" x="59.6" y="115.9" fill="#4393c3"/><use href="#cb_" x="62.5" y="115.9" fill="#1a5899"/><use href="#cb_" x="65.5" y="115.9" fill="#2b73b3"/><use href="#cb_" x="68.5" y="115.9" fill="#337eb8"/><use href="#cb_" x="71.5" y="115.9" fill="#1f63a8"/><use href="#cb_" x="74.5" y="115.9" fill="#2369ad"/><use href="#cb_" x="77.4" y="115.9" fill="#0e4179"/><use href="#cb_" x="80.4" y="115.9" fill="#2870b1"/><use href="#cb_" x="83.4" y="115.9" fill="#2065ab"/><use href="#cb_" x="86.4" y="115.9" fill="#114781"/><use href="#cb_" x="89.4" y="115.9" fill="#053061"/><use href="#cb_" x="92.3" y="115.9" fill="#053061"/><use href="#cb_" x="95.3" y="115.9" fill="#10457e"/><use href="#cb_" x="98.3" y="115.9" fill="#185493"/><use href="#cb_" x="101.3" y="115.9" fill="#053061"/><use href="#cb_" x="104.2" y="115.9" fill="#0c3d73"/><use href="#cb_" x="107.2" y="115.9" fill="#053061"/><use href="#cb_" x="110.2" y="115.9" fill="#053061"/><use href="#cb_" x="113.2" y="115.9" fill="#053061"/><use href="#cb_" x="116.2" y="115.9" fill="#053061"/><use href="#cb_" x="119.1" y="115.9" fill="#053061"/><use href="#cb_" x="122.1" y="115.9" fill="#053061"/><use href="#cb_" x="125.1" y="115.9" fill="#053061"/><use href="#cb_" x="128.1" y="115.9" fill="#053061"/><use href="#cb_" x="131.1" y="115.9" fill="#053061"/><use href="#cb_" x="134" y="115.9" fill="#053061"/><use href="#cb_" x="137" y="115.9" fill="#053061"/><use href="#cb_" x="140" y="115.9" fill="#053061"/><use href="#cb_" x="143" y="115.9" fill="#053061"/><use href="#cb_" x="145.9" y="115.9" fill="#053061"/><use href="#cb_" x="148.9" y="115.9" fill="#053061"/><use href="#cb_" x="0" y="118.8" fill="#db6b55"/><use href="#cb_" x="3" y="118.8" fill="#fae9df"/><use href="#cb_" x="6" y="118.8" fill="#e0ecf3"/><use href="#cb_" x="8.9" y="118.8" fill="#f7f6f6"/><use href="#cb_" x="11.9" y="118.8" fill="#bddbea"/><use href="#cb_" x="14.9" y="118.8" fill="#c7e0ed"/><use href="#cb_" x="17.9" y="118.8" fill="#ecf2f5"/><use href="#cb_" x="20.8" y="118.8" fill="#c5dfec"/><use href="#cb_" x="23.8" y="118.8" fill="#c2ddec"/><use href="#cb_" x="26.8" y="118.8" fill="#f8f1ed"/><use href="#cb_" x="29.8" y="118.8" fill="#deebf2"/><use href="#cb_" x="32.8" y="118.8" fill="#d5e7f1"/><use href="#cb_" x="35.7" y="118.8" fill="#bddbea"/><use href="#cb_" x="38.7" y="118.8" fill="#aed3e6"/><use href="#cb_" x="41.7" y="118.8" fill="#cae1ee"/><use href="#cb_" x="44.7" y="118.8" fill="#7bb6d6"/><use href="#cb_" x="47.7" y="118.8" fill="#bbdaea"/><use href="#cb_" x="50.6" y="118.8" fill="#3a87bd"/><use href="#cb_" x="53.6" y="118.8" fill="#408fc1"/><use href="#cb_" x="56.6" y="118.8" fill="#2369ad"/><use href="#cb_" x="59.6" y="118.8" fill="#307ab6"/><use href="#cb_" x="62.5" y="118.8" fill="#3b88be"/><use href="#cb_" x="65.5" y="118.8" fill="#4c99c6"/><use href="#cb_" x="68.5" y="118.8" fill="#1c5c9f"/><use href="#cb_" x="71.5" y="118.8" fill="#246aae"/><use href="#cb_" x="74.5" y="118.8" fill="#1a5899"/><use href="#cb_" x="77.4" y="118.8" fill="#0f437b"/><use href="#cb_" x="80.4" y="118.8" fill="#053061"/><use href="#cb_" x="83.4" y="118.8" fill="#134c87"/><use href="#cb_" x="86.4" y="118.8" fill="#053061"/><use href="#cb_" x="89.4" y="118.8" fill="#0c3d73"/><use href="#cb_" x="92.3" y="118.8" fill="#073467"/><use href="#cb_" x="95.3" y="118.8" fill="#053061"/><use href="#cb_" x="98.3" y="118.8" fill="#053061"/><use href="#cb_" x="101.3" y="118.8" fill="#053061"/><use href="#cb_" x="104.2" y="118.8" fill="#1a5899"/><use href="#cb_" x="107.2" y="118.8" fill="#053061"/><use href="#cb_" x="110.2" y="118.8" fill="#10457e"/><use href="#cb_" x="113.2" y="118.8" fill="#053061"/><use href="#cb_" x="116.2" y="118.8" fill="#053061"/><use href="#cb_" x="119.1" y="118.8" fill="#053061"/><use href="#cb_" x="122.1" y="118.8" fill="#053061"/><use href="#cb_" x="125.1" y="118.8" fill="#114781"/><use href="#cb_" x="128.1" y="118.8" fill="#053061"/><use href="#cb_" x="131.1" y="118.8" fill="#053061"/><use href="#cb_" x="134" y="118.8" fill="#053061"/><use href="#cb_" x="137" y="118.8" fill="#053061"/><use href="#cb_" x="140" y="118.8" fill="#1b5a9c"/><use href="#cb_" x="143" y="118.8" fill="#053061"/><use href="#cb_" x="145.9" y="118.8" fill="#053061"/><use href="#cb_" x="148.9" y="118.8" fill="#053061"/><use href="#cb_" x="0" y="121.8" fill="#dc6e57"/><use href="#cb_" x="3" y="121.8" fill="#dae9f2"/><use href="#cb_" x="6" y="121.8" fill="#62a7ce"/><use href="#cb_" x="8.9" y="121.8" fill="#e4eef4"/><use href="#cb_" x="11.9" y="121.8" fill="#e0ecf3"/><use href="#cb_" x="14.9" y="121.8" fill="#fac8af"/><use href="#cb_" x="17.9" y="121.8" fill="#cfe4ef"/><use href="#cb_" x="20.8" y="121.8" fill="#d7e8f1"/><use href="#cb_" x="23.8" y="121.8" fill="#e6eff4"/><use href="#cb_" x="26.8" y="121.8" fill="#f9f0eb"/><use href="#cb_" x="29.8" y="121.8" fill="#b6d7e8"/><use href="#cb_" x="32.8" y="121.8" fill="#ddebf2"/><use href="#cb_" x="35.7" y="121.8" fill="#bddbea"/><use href="#cb_" x="38.7" y="121.8" fill="#84bcd9"/><use href="#cb_" x="41.7" y="121.8" fill="#8ac0db"/><use href="#cb_" x="44.7" y="121.8" fill="#78b4d5"/><use href="#cb_" x="47.7" y="121.8" fill="#3b88be"/><use href="#cb_" x="50.6" y="121.8" fill="#9bc9e0"/><use href="#cb_" x="53.6" y="121.8" fill="#2267ac"/><use href="#cb_" x="56.6" y="121.8" fill="#78b4d5"/><use href="#cb_" x="59.6" y="121.8" fill="#59a1ca"/><use href="#cb_" x="62.5" y="121.8" fill="#2e77b5"/><use href="#cb_" x="65.5" y="121.8" fill="#1b5a9c"/><use href="#cb_" x="68.5" y="121.8" fill="#2267ac"/><use href="#cb_" x="71.5" y="121.8" fill="#2e77b5"/><use href="#cb_" x="74.5" y="121.8" fill="#2f79b5"/><use href="#cb_" x="77.4" y="121.8" fill="#1f63a8"/><use href="#cb_" x="80.4" y="121.8" fill="#2b73b3"/><use href="#cb_" x="83.4" y="121.8" fill="#073467"/><use href="#cb_" x="86.4" y="121.8" fill="#124984"/><use href="#cb_" x="89.4" y="121.8" fill="#053061"/><use href="#cb_" x="92.3" y="121.8" fill="#15508d"/><use href="#cb_" x="95.3" y="121.8" fill="#063264"/><use href="#cb_" x="98.3" y="121.8" fill="#053061"/><use href="#cb_" x="101.3" y="121.8" fill="#144e8a"/><use href="#cb_" x="104.2" y="121.8" fill="#073467"/><use href="#cb_" x="107.2" y="121.8" fill="#053061"/><use href="#cb_" x="110.2" y="121.8" fill="#053061"/><use href="#cb_" x="113.2" y="121.8" fill="#053061"/><use href="#cb_" x="116.2" y="121.8" fill="#08366a"/><use href="#cb_" x="119.1" y="121.8" fill="#2c75b4"/><use href="#cb_" x="122.1" y="121.8" fill="#053061"/><use href="#cb_" x="125.1" y="121.8" fill="#053061"/><use href="#cb_" x="128.1" y="121.8" fill="#053061"/><use href="#cb_" x="131.1" y="121.8" fill="#053061"/><use href="#cb_" x="134" y="121.8" fill="#053061"/><use href="#cb_" x="137" y="121.8" fill="#0d3f76"/><use href="#cb_" x="140" y="121.8" fill="#053061"/><use href="#cb_" x="143" y="121.8" fill="#175290"/><use href="#cb_" x="145.9" y="121.8" fill="#053061"/><use href="#cb_" x="148.9" y="121.8" fill="#053061"/><use href="#cb_" x="0" y="124.8" fill="#f8bb9e"/><use href="#cb_" x="3" y="124.8" fill="#fce2d2"/><use href="#cb_" x="6" y="124.8" fill="#acd2e5"/><use href="#cb_" x="8.9" y="124.8" fill="#bbdaea"/><use href="#cb_" x="11.9" y="124.8" fill="#c7e0ed"/><use href="#cb_" x="14.9" y="124.8" fill="#dae9f2"/><use href="#cb_" x="17.9" y="124.8" fill="#fae9df"/><use href="#cb_" x="20.8" y="124.8" fill="#71b0d3"/><use href="#cb_" x="23.8" y="124.8" fill="#e0ecf3"/><use href="#cb_" x="26.8" y="124.8" fill="#deebf2"/><use href="#cb_" x="29.8" y="124.8" fill="#d4e6f1"/><use href="#cb_" x="32.8" y="124.8" fill="#c5dfec"/><use href="#cb_" x="35.7" y="124.8" fill="#eaf1f5"/><use href="#cb_" x="38.7" y="124.8" fill="#aed3e6"/><use href="#cb_" x="41.7" y="124.8" fill="#b6d7e8"/><use href="#cb_" x="44.7" y="124.8" fill="#98c8e0"/><use href="#cb_" x="47.7" y="124.8" fill="#d1e5f0"/><use href="#cb_" x="50.6" y="124.8" fill="#124984"/><use href="#cb_" x="53.6" y="124.8" fill="#98c8e0"/><use href="#cb_" x="56.6" y="124.8" fill="#337eb8"/><use href="#cb_" x="59.6" y="124.8" fill="#2c75b4"/><use href="#cb_" x="62.5" y="124.8" fill="#144e8a"/><use href="#cb_" x="65.5" y="124.8" fill="#053061"/><use href="#cb_" x="68.5" y="124.8" fill="#1c5c9f"/><use href="#cb_" x="71.5" y="124.8" fill="#124984"/><use href="#cb_" x="74.5" y="124.8" fill="#2b73b3"/><use href="#cb_" x="77.4" y="124.8" fill="#053061"/><use href="#cb_" x="80.4" y="124.8" fill="#3c8abe"/><use href="#cb_" x="83.4" y="124.8" fill="#185493"/><use href="#cb_" x="86.4" y="124.8" fill="#073467"/><use href="#cb_" x="89.4" y="124.8" fill="#053061"/><use href="#cb_" x="92.3" y="124.8" fill="#053061"/><use href="#cb_" x="95.3" y="124.8" fill="#053061"/><use href="#cb_" x="98.3" y="124.8" fill="#053061"/><use href="#cb_" x="101.3" y="124.8" fill="#053061"/><use href="#cb_" x="104.2" y="124.8" fill="#053061"/><use href="#cb_" x="107.2" y="124.8" fill="#053061"/><use href="#cb_" x="110.2" y="124.8" fill="#053061"/><use href="#cb_" x="113.2" y="124.8" fill="#053061"/><use href="#cb_" x="116.2" y="124.8" fill="#053061"/><use href="#cb_" x="119.1" y="124.8" fill="#2369ad"/><use href="#cb_" x="122.1" y="124.8" fill="#053061"/><use href="#cb_" x="125.1" y="124.8" fill="#053061"/><use href="#cb_" x="128.1" y="124.8" fill="#053061"/><use href="#cb_" x="131.1" y="124.8" fill="#053061"/><use href="#cb_" x="134" y="124.8" fill="#053061"/><use href="#cb_" x="137" y="124.8" fill="#053061"/><use href="#cb_" x="140" y="124.8" fill="#053061"/><use href="#cb_" x="143" y="124.8" fill="#053061"/><use href="#cb_" x="145.9" y="124.8" fill="#053061"/><use href="#cb_" x="148.9" y="124.8" fill="#053061"/><use href="#cb_" x="0" y="127.7" fill="#f6af8e"/><use href="#cb_" x="3" y="127.7" fill="#b3d6e8"/><use href="#cb_" x="6" y="127.7" fill="#cfe4ef"/><use href="#cb_" x="8.9" y="127.7" fill="#a0cce2"/><use href="#cb_" x="11.9" y="127.7" fill="#fae8de"/><use href="#cb_" x="14.9" y="127.7" fill="#7eb8d7"/><use href="#cb_" x="17.9" y="127.7" fill="#6bacd1"/><use href="#cb_" x="20.8" y="127.7" fill="#4997c5"/><use href="#cb_" x="23.8" y="127.7" fill="#408fc1"/><use href="#cb_" x="26.8" y="127.7" fill="#d7e8f1"/><use href="#cb_" x="29.8" y="127.7" fill="#f8bda1"/><use href="#cb_" x="32.8" y="127.7" fill="#4695c4"/><use href="#cb_" x="35.7" y="127.7" fill="#d7e8f1"/><use href="#cb_" x="38.7" y="127.7" fill="#9bc9e0"/><use href="#cb_" x="41.7" y="127.7" fill="#2f79b5"/><use href="#cb_" x="44.7" y="127.7" fill="#4f9bc7"/><use href="#cb_" x="47.7" y="127.7" fill="#4695c4"/><use href="#cb_" x="50.6" y="127.7" fill="#2c75b4"/><use href="#cb_" x="53.6" y="127.7" fill="#d1e5f0"/><use href="#cb_" x="56.6" y="127.7" fill="#053061"/><use href="#cb_" x="59.6" y="127.7" fill="#408fc1"/><use href="#cb_" x="62.5" y="127.7" fill="#3a87bd"/><use href="#cb_" x="65.5" y="127.7" fill="#175290"/><use href="#cb_" x="68.5" y="127.7" fill="#2b73b3"/><use href="#cb_" x="71.5" y="127.7" fill="#408fc1"/><use href="#cb_" x="74.5" y="127.7" fill="#2267ac"/><use href="#cb_" x="77.4" y="127.7" fill="#266caf"/><use href="#cb_" x="80.4" y="127.7" fill="#2b73b3"/><use href="#cb_" x="83.4" y="127.7" fill="#053061"/><use href="#cb_" x="86.4" y="127.7" fill="#3e8cbf"/><use href="#cb_" x="89.4" y="127.7" fill="#6eaed2"/><use href="#cb_" x="92.3" y="127.7" fill="#2369ad"/><use href="#cb_" x="95.3" y="127.7" fill="#2065ab"/><use href="#cb_" x="98.3" y="127.7" fill="#053061"/><use href="#cb_" x="101.3" y="127.7" fill="#053061"/><use href="#cb_" x="104.2" y="127.7" fill="#053061"/><use href="#cb_" x="107.2" y="127.7" fill="#053061"/><use href="#cb_" x="110.2" y="127.7" fill="#114781"/><use href="#cb_" x="113.2" y="127.7" fill="#053061"/><use href="#cb_" x="116.2" y="127.7" fill="#053061"/><use href="#cb_" x="119.1" y="127.7" fill="#053061"/><use href="#cb_" x="122.1" y="127.7" fill="#053061"/><use href="#cb_" x="125.1" y="127.7" fill="#053061"/><use href="#cb_" x="128.1" y="127.7" fill="#053061"/><use href="#cb_" x="131.1" y="127.7" fill="#053061"/><use href="#cb_" x="134" y="127.7" fill="#337eb8"/><use href="#cb_" x="137" y="127.7" fill="#053061"/><use href="#cb_" x="140" y="127.7" fill="#053061"/><use href="#cb_" x="143" y="127.7" fill="#053061"/><use href="#cb_" x="145.9" y="127.7" fill="#175290"/><use href="#cb_" x="148.9" y="127.7" fill="#4695c4"/><use href="#cb_" x="0" y="130.7" fill="#f7f5f4"/><use href="#cb_" x="3" y="130.7" fill="#9dcbe1"/><use href="#cb_" x="6" y="130.7" fill="#b8d8e9"/><use href="#cb_" x="8.9" y="130.7" fill="#fdd9c4"/><use href="#cb_" x="11.9" y="130.7" fill="#78b4d5"/><use href="#cb_" x="14.9" y="130.7" fill="#facab1"/><use href="#cb_" x="17.9" y="130.7" fill="#fcd7c2"/><use href="#cb_" x="20.8" y="130.7" fill="#c7e0ed"/><use href="#cb_" x="23.8" y="130.7" fill="#e6eff4"/><use href="#cb_" x="26.8" y="130.7" fill="#e6eff4"/><use href="#cb_" x="29.8" y="130.7" fill="#fae8de"/><use href="#cb_" x="32.8" y="130.7" fill="#3681ba"/><use href="#cb_" x="35.7" y="130.7" fill="#e7f0f4"/><use href="#cb_" x="38.7" y="130.7" fill="#569fc9"/><use href="#cb_" x="41.7" y="130.7" fill="#337eb8"/><use href="#cb_" x="44.7" y="130.7" fill="#6eaed2"/><use href="#cb_" x="47.7" y="130.7" fill="#408fc1"/><use href="#cb_" x="50.6" y="130.7" fill="#195696"/><use href="#cb_" x="53.6" y="130.7" fill="#053061"/><use href="#cb_" x="56.6" y="130.7" fill="#114781"/><use href="#cb_" x="59.6" y="130.7" fill="#a7d0e4"/><use href="#cb_" x="62.5" y="130.7" fill="#c7e0ed"/><use href="#cb_" x="65.5" y="130.7" fill="#4695c4"/><use href="#cb_" x="68.5" y="130.7" fill="#75b2d4"/><use href="#cb_" x="71.5" y="130.7" fill="#0e4179"/><use href="#cb_" x="74.5" y="130.7" fill="#1a5899"/><use href="#cb_" x="77.4" y="130.7" fill="#2267ac"/><use href="#cb_" x="80.4" y="130.7" fill="#053061"/><use href="#cb_" x="83.4" y="130.7" fill="#053061"/><use href="#cb_" x="86.4" y="130.7" fill="#10457e"/><use href="#cb_" x="89.4" y="130.7" fill="#053061"/><use href="#cb_" x="92.3" y="130.7" fill="#053061"/><use href="#cb_" x="95.3" y="130.7" fill="#10457e"/><use href="#cb_" x="98.3" y="130.7" fill="#053061"/><use href="#cb_" x="101.3" y="130.7" fill="#2065ab"/><use href="#cb_" x="104.2" y="130.7" fill="#053061"/><use href="#cb_" x="107.2" y="130.7" fill="#053061"/><use href="#cb_" x="110.2" y="130.7" fill="#053061"/><use href="#cb_" x="113.2" y="130.7" fill="#053061"/><use href="#cb_" x="116.2" y="130.7" fill="#053061"/><use href="#cb_" x="119.1" y="130.7" fill="#053061"/><use href="#cb_" x="122.1" y="130.7" fill="#0a3b70"/><use href="#cb_" x="125.1" y="130.7" fill="#053061"/><use href="#cb_" x="128.1" y="130.7" fill="#2065ab"/><use href="#cb_" x="131.1" y="130.7" fill="#053061"/><use href="#cb_" x="134" y="130.7" fill="#053061"/><use href="#cb_" x="137" y="130.7" fill="#053061"/><use href="#cb_" x="140" y="130.7" fill="#053061"/><use href="#cb_" x="143" y="130.7" fill="#053061"/><use href="#cb_" x="145.9" y="130.7" fill="#053061"/><use href="#cb_" x="148.9" y="130.7" fill="#09386d"/><use href="#cb_" x="0" y="133.7" fill="#eaf1f5"/><use href="#cb_" x="3" y="133.7" fill="#408fc1"/><use href="#cb_" x="6" y="133.7" fill="#f6af8e"/><use href="#cb_" x="8.9" y="133.7" fill="#fddbc7"/><use href="#cb_" x="11.9" y="133.7" fill="#87beda"/><use href="#cb_" x="14.9" y="133.7" fill="#f9eee7"/><use href="#cb_" x="17.9" y="133.7" fill="#5fa5cd"/><use href="#cb_" x="20.8" y="133.7" fill="#fae7dc"/><use href="#cb_" x="23.8" y="133.7" fill="#93c6de"/><use href="#cb_" x="26.8" y="133.7" fill="#3f8ec0"/><use href="#cb_" x="29.8" y="133.7" fill="#6bacd1"/><use href="#cb_" x="32.8" y="133.7" fill="#3885bc"/><use href="#cb_" x="35.7" y="133.7" fill="#9bc9e0"/><use href="#cb_" x="38.7" y="133.7" fill="#8dc2dc"/><use href="#cb_" x="41.7" y="133.7" fill="#6bacd1"/><use href="#cb_" x="44.7" y="133.7" fill="#2f79b5"/><use href="#cb_" x="47.7" y="133.7" fill="#053061"/><use href="#cb_" x="50.6" y="133.7" fill="#4997c5"/><use href="#cb_" x="53.6" y="133.7" fill="#053061"/><use href="#cb_" x="56.6" y="133.7" fill="#4291c2"/><use href="#cb_" x="59.6" y="133.7" fill="#9bc9e0"/><use href="#cb_" x="62.5" y="133.7" fill="#3a87bd"/><use href="#cb_" x="65.5" y="133.7" fill="#15508d"/><use href="#cb_" x="68.5" y="133.7" fill="#1b5a9c"/><use href="#cb_" x="71.5" y="133.7" fill="#1a5899"/><use href="#cb_" x="74.5" y="133.7" fill="#053061"/><use href="#cb_" x="77.4" y="133.7" fill="#053061"/><use href="#cb_" x="80.4" y="133.7" fill="#053061"/><use href="#cb_" x="83.4" y="133.7" fill="#529dc8"/><use href="#cb_" x="86.4" y="133.7" fill="#0a3b70"/><use href="#cb_" x="89.4" y="133.7" fill="#3681ba"/><use href="#cb_" x="92.3" y="133.7" fill="#053061"/><use href="#cb_" x="95.3" y="133.7" fill="#053061"/><use href="#cb_" x="98.3" y="133.7" fill="#053061"/><use href="#cb_" x="101.3" y="133.7" fill="#0f437b"/><use href="#cb_" x="104.2" y="133.7" fill="#1d5fa2"/><use href="#cb_" x="107.2" y="133.7" fill="#053061"/><use href="#cb_" x="110.2" y="133.7" fill="#053061"/><use href="#cb_" x="113.2" y="133.7" fill="#053061"/><use href="#cb_" x="116.2" y="133.7" fill="#4393c3"/><use href="#cb_" x="119.1" y="133.7" fill="#053061"/><use href="#cb_" x="122.1" y="133.7" fill="#053061"/><use href="#cb_" x="125.1" y="133.7" fill="#3681ba"/><use href="#cb_" x="128.1" y="133.7" fill="#1f63a8"/><use href="#cb_" x="131.1" y="133.7" fill="#053061"/><use href="#cb_" x="134" y="133.7" fill="#053061"/><use href="#cb_" x="137" y="133.7" fill="#a9d1e5"/><use href="#cb_" x="140" y="133.7" fill="#053061"/><use href="#cb_" x="143" y="133.7" fill="#053061"/><use href="#cb_" x="145.9" y="133.7" fill="#053061"/><use href="#cb_" x="148.9" y="133.7" fill="#053061"/><use href="#cb_" x="0" y="136.6" fill="#2065ab"/><use href="#cb_" x="3" y="136.6" fill="#f5ac8b"/><use href="#cb_" x="6" y="136.6" fill="#f2f5f6"/><use href="#cb_" x="8.9" y="136.6" fill="#a5cee3"/><use href="#cb_" x="11.9" y="136.6" fill="#266caf"/><use href="#cb_" x="14.9" y="136.6" fill="#124984"/><use href="#cb_" x="17.9" y="136.6" fill="#81bad8"/><use href="#cb_" x="20.8" y="136.6" fill="#e3edf3"/><use href="#cb_" x="23.8" y="136.6" fill="#a5cee3"/><use href="#cb_" x="26.8" y="136.6" fill="#fae9df"/><use href="#cb_" x="29.8" y="136.6" fill="#f0f4f6"/><use href="#cb_" x="32.8" y="136.6" fill="#e7f0f4"/><use href="#cb_" x="35.7" y="136.6" fill="#327cb7"/><use href="#cb_" x="38.7" y="136.6" fill="#d35a4a"/><use href="#cb_" x="41.7" y="136.6" fill="#053061"/><use href="#cb_" x="44.7" y="136.6" fill="#eff3f5"/><use href="#cb_" x="47.7" y="136.6" fill="#3885bc"/><use href="#cb_" x="50.6" y="136.6" fill="#bbdaea"/><use href="#cb_" x="53.6" y="136.6" fill="#84bcd9"/><use href="#cb_" x="56.6" y="136.6" fill="#71b0d3"/><use href="#cb_" x="59.6" y="136.6" fill="#e1edf3"/><use href="#cb_" x="62.5" y="136.6" fill="#68abd0"/><use href="#cb_" x="65.5" y="136.6" fill="#c5dfec"/><use href="#cb_" x="68.5" y="136.6" fill="#71b0d3"/><use href="#cb_" x="71.5" y="136.6" fill="#053061"/><use href="#cb_" x="74.5" y="136.6" fill="#053061"/><use href="#cb_" x="77.4" y="136.6" fill="#b6d7e8"/><use href="#cb_" x="80.4" y="136.6" fill="#87beda"/><use href="#cb_" x="83.4" y="136.6" fill="#3a87bd"/><use href="#cb_" x="86.4" y="136.6" fill="#053061"/><use href="#cb_" x="89.4" y="136.6" fill="#10457e"/><use href="#cb_" x="92.3" y="136.6" fill="#bbdaea"/><use href="#cb_" x="95.3" y="136.6" fill="#053061"/><use href="#cb_" x="98.3" y="136.6" fill="#053061"/><use href="#cb_" x="101.3" y="136.6" fill="#15508d"/><use href="#cb_" x="104.2" y="136.6" fill="#053061"/><use href="#cb_" x="107.2" y="136.6" fill="#2369ad"/><use href="#cb_" x="110.2" y="136.6" fill="#053061"/><use href="#cb_" x="113.2" y="136.6" fill="#053061"/><use href="#cb_" x="116.2" y="136.6" fill="#053061"/><use href="#cb_" x="119.1" y="136.6" fill="#fbe6da"/><use href="#cb_" x="122.1" y="136.6" fill="#1a5899"/><use href="#cb_" x="125.1" y="136.6" fill="#053061"/><use href="#cb_" x="128.1" y="136.6" fill="#d5e7f1"/><use href="#cb_" x="131.1" y="136.6" fill="#053061"/><use href="#cb_" x="134" y="136.6" fill="#053061"/><use href="#cb_" x="137" y="136.6" fill="#1e61a5"/><use href="#cb_" x="140" y="136.6" fill="#d5e7f1"/><use href="#cb_" x="143" y="136.6" fill="#053061"/><use href="#cb_" x="145.9" y="136.6" fill="#053061"/><use href="#cb_" x="148.9" y="136.6" fill="#053061"/><use href="#cb_" x="0" y="139.6" fill="#053061"/><use href="#cb_" x="3" y="139.6" fill="#65a9cf"/><use href="#cb_" x="6" y="139.6" fill="#276eb0"/><use href="#cb_" x="8.9" y="139.6" fill="#144e8a"/><use href="#cb_" x="11.9" y="139.6" fill="#3480b9"/><use href="#cb_" x="14.9" y="139.6" fill="#81bad8"/><use href="#cb_" x="17.9" y="139.6" fill="#dae9f2"/><use href="#cb_" x="20.8" y="139.6" fill="#4c99c6"/><use href="#cb_" x="23.8" y="139.6" fill="#c5dfec"/><use href="#cb_" x="26.8" y="139.6" fill="#266caf"/><use href="#cb_" x="29.8" y="139.6" fill="#7eb8d7"/><use href="#cb_" x="32.8" y="139.6" fill="#f7b596"/><use href="#cb_" x="35.7" y="139.6" fill="#75b2d4"/><use href="#cb_" x="38.7" y="139.6" fill="#cfe4ef"/><use href="#cb_" x="41.7" y="139.6" fill="#053061"/><use href="#cb_" x="44.7" y="139.6" fill="#65a9cf"/><use href="#cb_" x="47.7" y="139.6" fill="#053061"/><use href="#cb_" x="50.6" y="139.6" fill="#276eb0"/><use href="#cb_" x="53.6" y="139.6" fill="#053061"/><use href="#cb_" x="56.6" y="139.6" fill="#75b2d4"/><use href="#cb_" x="59.6" y="139.6" fill="#bd2d35"/><use href="#cb_" x="62.5" y="139.6" fill="#144e8a"/><use href="#cb_" x="65.5" y="139.6" fill="#c0dceb"/><use href="#cb_" x="68.5" y="139.6" fill="#f3f5f6"/><use href="#cb_" x="71.5" y="139.6" fill="#053061"/><use href="#cb_" x="74.5" y="139.6" fill="#2065ab"/><use href="#cb_" x="77.4" y="139.6" fill="#053061"/><use href="#cb_" x="80.4" y="139.6" fill="#f6f7f7"/><use href="#cb_" x="83.4" y="139.6" fill="#edf2f5"/><use href="#cb_" x="86.4" y="139.6" fill="#053061"/><use href="#cb_" x="89.4" y="139.6" fill="#053061"/><use href="#cb_" x="92.3" y="139.6" fill="#c0dceb"/><use href="#cb_" x="95.3" y="139.6" fill="#053061"/><use href="#cb_" x="98.3" y="139.6" fill="#053061"/><use href="#cb_" x="101.3" y="139.6" fill="#e3edf3"/><use href="#cb_" x="104.2" y="139.6" fill="#053061"/><use href="#cb_" x="107.2" y="139.6" fill="#053061"/><use href="#cb_" x="110.2" y="139.6" fill="#c7e0ed"/><use href="#cb_" x="113.2" y="139.6" fill="#1e61a5"/><use href="#cb_" x="116.2" y="139.6" fill="#e0ecf3"/><use href="#cb_" x="119.1" y="139.6" fill="#408fc1"/><use href="#cb_" x="122.1" y="139.6" fill="#337eb8"/><use href="#cb_" x="125.1" y="139.6" fill="#96c7df"/><use href="#cb_" x="128.1" y="139.6" fill="#3783bb"/><use href="#cb_" x="131.1" y="139.6" fill="#053061"/><use href="#cb_" x="134" y="139.6" fill="#053061"/><use href="#cb_" x="137" y="139.6" fill="#ecf2f5"/><use href="#cb_" x="140" y="139.6" fill="#f2f5f6"/><use href="#cb_" x="143" y="139.6" fill="#90c4dd"/><use href="#cb_" x="145.9" y="139.6" fill="#053061"/><use href="#cb_" x="148.9" y="139.6" fill="#1f63a8"/><use href="#cb_" x="0" y="142.6" fill="#337eb8"/><use href="#cb_" x="3" y="142.6" fill="#053061"/><use href="#cb_" x="6" y="142.6" fill="#2f79b5"/><use href="#cb_" x="8.9" y="142.6" fill="#acd2e5"/><use href="#cb_" x="11.9" y="142.6" fill="#a0cce2"/><use href="#cb_" x="14.9" y="142.6" fill="#e9f0f4"/><use href="#cb_" x="17.9" y="142.6" fill="#fbe6da"/><use href="#cb_" x="20.8" y="142.6" fill="#ecf2f5"/><use href="#cb_" x="23.8" y="142.6" fill="#bb2a34"/><use href="#cb_" x="26.8" y="142.6" fill="#f6f7f7"/><use href="#cb_" x="29.8" y="142.6" fill="#053061"/><use href="#cb_" x="32.8" y="142.6" fill="#053061"/><use href="#cb_" x="35.7" y="142.6" fill="#b6d7e8"/><use href="#cb_" x="38.7" y="142.6" fill="#a9d1e5"/><use href="#cb_" x="41.7" y="142.6" fill="#fae7dc"/><use href="#cb_" x="44.7" y="142.6" fill="#053061"/><use href="#cb_" x="47.7" y="142.6" fill="#0c3d73"/><use href="#cb_" x="50.6" y="142.6" fill="#053061"/><use href="#cb_" x="53.6" y="142.6" fill="#7eb8d7"/><use href="#cb_" x="56.6" y="142.6" fill="#4291c2"/><use href="#cb_" x="59.6" y="142.6" fill="#bbdaea"/><use href="#cb_" x="62.5" y="142.6" fill="#053061"/><use href="#cb_" x="65.5" y="142.6" fill="#053061"/><use href="#cb_" x="68.5" y="142.6" fill="#a2cde3"/><use href="#cb_" x="71.5" y="142.6" fill="#3f8ec0"/><use href="#cb_" x="74.5" y="142.6" fill="#bddbea"/><use href="#cb_" x="77.4" y="142.6" fill="#327cb7"/><use href="#cb_" x="80.4" y="142.6" fill="#b1d5e7"/><use href="#cb_" x="83.4" y="142.6" fill="#b1d5e7"/><use href="#cb_" x="86.4" y="142.6" fill="#053061"/><use href="#cb_" x="89.4" y="142.6" fill="#68abd0"/><use href="#cb_" x="92.3" y="142.6" fill="#053061"/><use href="#cb_" x="95.3" y="142.6" fill="#053061"/><use href="#cb_" x="98.3" y="142.6" fill="#053061"/><use href="#cb_" x="101.3" y="142.6" fill="#b6d7e8"/><use href="#cb_" x="104.2" y="142.6" fill="#053061"/><use href="#cb_" x="107.2" y="142.6" fill="#62a7ce"/><use href="#cb_" x="110.2" y="142.6" fill="#144e8a"/><use href="#cb_" x="113.2" y="142.6" fill="#053061"/><use href="#cb_" x="116.2" y="142.6" fill="#053061"/><use href="#cb_" x="119.1" y="142.6" fill="#a9d1e5"/><use href="#cb_" x="122.1" y="142.6" fill="#408fc1"/><use href="#cb_" x="125.1" y="142.6" fill="#8dc2dc"/><use href="#cb_" x="128.1" y="142.6" fill="#75b2d4"/><use href="#cb_" x="131.1" y="142.6" fill="#d1e5f0"/><use href="#cb_" x="134" y="142.6" fill="#053061"/><use href="#cb_" x="137" y="142.6" fill="#2065ab"/><use href="#cb_" x="140" y="142.6" fill="#d1e5f0"/><use href="#cb_" x="143" y="142.6" fill="#f5f6f7"/><use href="#cb_" x="145.9" y="142.6" fill="#eaf1f5"/><use href="#cb_" x="148.9" y="142.6" fill="#edf2f5"/><use href="#cb_" x="0" y="145.6" fill="#053061"/><use href="#cb_" x="3" y="145.6" fill="#d5e7f1"/><use href="#cb_" x="6" y="145.6" fill="#d2e6f0"/><use href="#cb_" x="8.9" y="145.6" fill="#f3f5f6"/><use href="#cb_" x="11.9" y="145.6" fill="#063264"/><use href="#cb_" x="14.9" y="145.6" fill="#053061"/><use href="#cb_" x="17.9" y="145.6" fill="#ce4f45"/><use href="#cb_" x="20.8" y="145.6" fill="#307ab6"/><use href="#cb_" x="23.8" y="145.6" fill="#b1182b"/><use href="#cb_" x="26.8" y="145.6" fill="#aed3e6"/><use href="#cb_" x="29.8" y="145.6" fill="#053061"/><use href="#cb_" x="32.8" y="145.6" fill="#6eaed2"/><use href="#cb_" x="35.7" y="145.6" fill="#246aae"/><use href="#cb_" x="38.7" y="145.6" fill="#c7e0ed"/><use href="#cb_" x="41.7" y="145.6" fill="#053061"/><use href="#cb_" x="44.7" y="145.6" fill="#991027"/><use href="#cb_" x="47.7" y="145.6" fill="#6a011f"/><use href="#cb_" x="50.6" y="145.6" fill="#053061"/><use href="#cb_" x="53.6" y="145.6" fill="#f7f6f6"/><use href="#cb_" x="56.6" y="145.6" fill="#053061"/><use href="#cb_" x="59.6" y="145.6" fill="#ddebf2"/><use href="#cb_" x="62.5" y="145.6" fill="#a0cce2"/><use href="#cb_" x="65.5" y="145.6" fill="#8ac0db"/><use href="#cb_" x="68.5" y="145.6" fill="#a7d0e4"/><use href="#cb_" x="71.5" y="145.6" fill="#053061"/><use href="#cb_" x="74.5" y="145.6" fill="#053061"/><use href="#cb_" x="77.4" y="145.6" fill="#edf2f5"/><use href="#cb_" x="80.4" y="145.6" fill="#053061"/><use href="#cb_" x="83.4" y="145.6" fill="#053061"/><use href="#cb_" x="86.4" y="145.6" fill="#d1e5f0"/><use href="#cb_" x="89.4" y="145.6" fill="#f3f5f6"/><use href="#cb_" x="92.3" y="145.6" fill="#f3f5f6"/><use href="#cb_" x="95.3" y="145.6" fill="#ef9979"/><use href="#cb_" x="98.3" y="145.6" fill="#053061"/><use href="#cb_" x="101.3" y="145.6" fill="#053061"/><use href="#cb_" x="104.2" y="145.6" fill="#ecf2f5"/><use href="#cb_" x="107.2" y="145.6" fill="#053061"/><use href="#cb_" x="110.2" y="145.6" fill="#f2f5f6"/><use href="#cb_" x="113.2" y="145.6" fill="#d5e7f1"/><use href="#cb_" x="116.2" y="145.6" fill="#053061"/><use href="#cb_" x="119.1" y="145.6" fill="#b1d5e7"/><use href="#cb_" x="122.1" y="145.6" fill="#d7e8f1"/><use href="#cb_" x="125.1" y="145.6" fill="#053061"/><use href="#cb_" x="128.1" y="145.6" fill="#053061"/><use href="#cb_" x="131.1" y="145.6" fill="#053061"/><use href="#cb_" x="134" y="145.6" fill="#d8e9f1"/><use href="#cb_" x="137" y="145.6" fill="#aed3e6"/><use href="#cb_" x="140" y="145.6" fill="#053061"/><use href="#cb_" x="143" y="145.6" fill="#053061"/><use href="#cb_" x="145.9" y="145.6" fill="#e48066"/><use href="#cb_" x="148.9" y="145.6" fill="#053061"/><use href="#cb_" x="0" y="148.5" fill="#fdd9c4"/><use href="#cb_" x="3" y="148.5" fill="#71b0d3"/><use href="#cb_" x="6" y="148.5" fill="#a9d1e5"/><use href="#cb_" x="8.9" y="148.5" fill="#f6f7f7"/><use href="#cb_" x="11.9" y="148.5" fill="#e7f0f4"/><use href="#cb_" x="14.9" y="148.5" fill="#dbeaf2"/><use href="#cb_" x="17.9" y="148.5" fill="#eaf1f5"/><use href="#cb_" x="20.8" y="148.5" fill="#9bc9e0"/><use href="#cb_" x="23.8" y="148.5" fill="#a5cee3"/><use href="#cb_" x="26.8" y="148.5" fill="#c0dceb"/><use href="#cb_" x="29.8" y="148.5" fill="#dae9f2"/><use href="#cb_" x="32.8" y="148.5" fill="#deebf2"/><use href="#cb_" x="35.7" y="148.5" fill="#053061"/><use href="#cb_" x="38.7" y="148.5" fill="#cfe4ef"/><use href="#cb_" x="41.7" y="148.5" fill="#cce2ef"/><use href="#cb_" x="44.7" y="148.5" fill="#195696"/><use href="#cb_" x="47.7" y="148.5" fill="#6bacd1"/><use href="#cb_" x="50.6" y="148.5" fill="#2a71b2"/><use href="#cb_" x="53.6" y="148.5" fill="#8ac0db"/><use href="#cb_" x="56.6" y="148.5" fill="#acd2e5"/><use href="#cb_" x="59.6" y="148.5" fill="#65a9cf"/><use href="#cb_" x="62.5" y="148.5" fill="#f9c6ac"/><use href="#cb_" x="65.5" y="148.5" fill="#053061"/><use href="#cb_" x="68.5" y="148.5" fill="#053061"/><use href="#cb_" x="71.5" y="148.5" fill="#f9ede5"/><use href="#cb_" x="74.5" y="148.5" fill="#b6d7e8"/><use href="#cb_" x="77.4" y="148.5" fill="#deebf2"/><use href="#cb_" x="80.4" y="148.5" fill="#053061"/><use href="#cb_" x="83.4" y="148.5" fill="#dae9f2"/><use href="#cb_" x="86.4" y="148.5" fill="#f0f4f6"/><use href="#cb_" x="89.4" y="148.5" fill="#87beda"/><use href="#cb_" x="92.3" y="148.5" fill="#f2f5f6"/><use href="#cb_" x="95.3" y="148.5" fill="#fcdecd"/><use href="#cb_" x="98.3" y="148.5" fill="#053061"/><use href="#cb_" x="101.3" y="148.5" fill="#d2e6f0"/><use href="#cb_" x="104.2" y="148.5" fill="#9bc9e0"/><use href="#cb_" x="107.2" y="148.5" fill="#d7e8f1"/><use href="#cb_" x="110.2" y="148.5" fill="#ecf2f5"/><use href="#cb_" x="113.2" y="148.5" fill="#e1edf3"/><use href="#cb_" x="116.2" y="148.5" fill="#053061"/><use href="#cb_" x="119.1" y="148.5" fill="#c5dfec"/><use href="#cb_" x="122.1" y="148.5" fill="#87beda"/><use href="#cb_" x="125.1" y="148.5" fill="#053061"/><use href="#cb_" x="128.1" y="148.5" fill="#96c7df"/><use href="#cb_" x="131.1" y="148.5" fill="#053061"/><use href="#cb_" x="134" y="148.5" fill="#dbeaf2"/><use href="#cb_" x="137" y="148.5" fill="#ecf2f5"/><use href="#cb_" x="140" y="148.5" fill="#0e4179"/><use href="#cb_" x="143" y="148.5" fill="#f0f4f6"/><use href="#cb_" x="145.9" y="148.5" fill="#053061"/><use href="#cb_" x="148.9" y="148.5" fill="#e4eef4"/></g>
<g><rect x="385.2" y="12.50" width="151.8" height="2.99" fill="url(#c0)"/><rect x="385.2" y="14.49" width="151.8" height="2.99" fill="url(#c1)"/><rect x="385.2" y="16.49" width="151.8" height="2.99" fill="url(#c2)"/><rect x="385.2" y="18.48" width="151.8" height="2.99" fill="url(#c3)"/><rect x="385.2" y="20.47" width="151.8" height="2.99" fill="url(#c4)"/><rect x="385.2" y="22.47" width="151.8" height="2.99" fill="url(#c5)"/><rect x="385.2" y="24.46" width="151.8" height="2.99" fill="url(#c6)"/><rect x="385.2" y="26.45" width="151.8" height="2.99" fill="url(#c7)"/><rect x="385.2" y="28.45" width="151.8" height="2.99" fill="url(#c8)"/><rect x="385.2" y="30.44" width="151.8" height="2.99" fill="url(#c9)"/><rect x="385.2" y="32.43" width="151.8" height="2.99" fill="url(#c10)"/><rect x="385.2" y="34.43" width="151.8" height="2.99" fill="url(#c11)"/><rect x="385.2" y="36.42" width="151.8" height="2.99" fill="url(#c12)"/><rect x="385.2" y="38.41" width="151.8" height="2.99" fill="url(#c13)"/><rect x="385.2" y="40.41" width="151.8" height="2.99" fill="url(#c14)"/><rect x="385.2" y="42.40" width="151.8" height="2.99" fill="url(#c15)"/><rect x="385.2" y="44.39" width="151.8" height="2.99" fill="url(#c16)"/><rect x="385.2" y="46.39" width="151.8" height="2.99" fill="url(#c17)"/><rect x="385.2" y="48.38" width="151.8" height="2.99" fill="url(#c18)"/><rect x="385.2" y="50.38" width="151.8" height="2.99" fill="url(#c19)"/><rect x="385.2" y="52.37" width="151.8" height="2.99" fill="url(#c20)"/><rect x="385.2" y="54.36" width="151.8" height="2.99" fill="url(#c21)"/><rect x="385.2" y="56.36" width="151.8" height="2.99" fill="url(#c22)"/><rect x="385.2" y="58.35" width="151.8" height="2.99" fill="url(#c23)"/><rect x="385.2" y="60.34" width="151.8" height="2.99" fill="url(#c24)"/><rect x="385.2" y="62.34" width="151.8" height="2.99" fill="url(#c25)"/><rect x="385.2" y="64.33" width="151.8" height="2.99" fill="url(#c26)"/><rect x="385.2" y="66.32" width="151.8" height="2.99" fill="url(#c27)"/><rect x="385.2" y="68.32" width="151.8" height="2.99" fill="url(#c28)"/><rect x="385.2" y="70.31" width="151.8" height="2.99" fill="url(#c29)"/><rect x="385.2" y="72.30" width="151.8" height="2.99" fill="url(#c30)"/><rect x="385.2" y="74.30" width="151.8" height="2.99" fill="url(#c31)"/><rect x="385.2" y="76.29" width="151.8" height="2.99" fill="url(#c32)"/><rect x="385.2" y="78.28" width="151.8" height="2.99" fill="url(#c33)"/><rect x="385.2" y="80.28" width="151.8" height="2.99" fill="url(#c34)"/><rect x="385.2" y="82.27" width="151.8" height="2.99" fill="url(#c35)"/><rect x="385.2" y="84.26" width="151.8" height="2.99" fill="url(#c36)"/><rect x="385.2" y="86.26" width="151.8" height="2.99" fill="url(#c37)"/><rect x="385.2" y="88.25" width="151.8" height="2.99" fill="url(#c38)"/><rect x="385.2" y="90.24" width="151.8" height="2.99" fill="url(#c39)"/><rect x="385.2" y="92.24" width="151.8" height="2.99" fill="url(#c40)"/><rect x="385.2" y="94.23" width="151.8" height="2.99" fill="url(#c41)"/><rect x="385.2" y="96.22" width="151.8" height="2.99" fill="url(#c42)"/><rect x="385.2" y="98.22" width="151.8" height="2.99" fill="url(#c43)"/><rect x="385.2" y="100.21" width="151.8" height="2.99" fill="url(#c44)"/><rect x="385.2" y="102.20" width="151.8" height="2.99" fill="url(#c45)"/><rect x="385.2" y="104.20" width="151.8" height="2.99" fill="url(#c46)"/><rect x="385.2" y="106.19" width="151.8" height="2.99" fill="url(#c47)"/><rect x="385.2" y="108.18" width="151.8" height="2.99" fill="url(#c48)"/><rect x="385.2" y="110.18" width="151.8" height="2.99" fill="url(#c49)"/><rect x="385.2" y="112.17" width="151.8" height="2.99" fill="url(#c50)"/><rect x="385.2" y="114.16" width="151.8" height="2.99" fill="url(#c51)"/><rect x="385.2" y="116.16" width="151.8" height="2.99" fill="url(#c52)"/><rect x="385.2" y="118.15" width="151.8" height="2.99" fill="url(#c53)"/><rect x="385.2" y="120.14" width="151.8" height="2.99" fill="url(#c54)"/><rect x="385.2" y="122.14" width="151.8" height="2.99" fill="url(#c55)"/><rect x="385.2" y="124.13" width="151.8" height="2.99" fill="url(#c56)"/><rect x="385.2" y="126.12" width="151.8" height="2.99" fill="url(#c57)"/><rect x="385.2" y="128.12" width="151.8" height="2.99" fill="url(#c58)"/><rect x="385.2" y="130.11" width="151.8" height="2.99" fill="url(#c59)"/><rect x="385.2" y="132.11" width="151.8" height="2.99" fill="url(#c60)"/><rect x="385.2" y="134.10" width="151.8" height="2.99" fill="url(#c61)"/><rect x="385.2" y="136.09" width="151.8" height="2.99" fill="url(#c62)"/><rect x="385.2" y="138.09" width="151.8" height="2.99" fill="url(#c63)"/><rect x="385.2" y="140.08" width="151.8" height="2.99" fill="url(#c64)"/><rect x="385.2" y="142.07" width="151.8" height="2.99" fill="url(#c65)"/><rect x="385.2" y="144.07" width="151.8" height="2.99" fill="url(#c66)"/><rect x="385.2" y="146.06" width="151.8" height="2.99" fill="url(#c67)"/><rect x="385.2" y="148.05" width="151.8" height="2.99" fill="url(#c68)"/><rect x="385.2" y="150.05" width="151.8" height="2.99" fill="url(#c69)"/><rect x="385.2" y="152.04" width="151.8" height="2.99" fill="url(#c70)"/><rect x="385.2" y="154.03" width="151.8" height="2.99" fill="url(#c71)"/><rect x="385.2" y="156.03" width="151.8" height="2.99" fill="url(#c72)"/><rect x="385.2" y="158.02" width="151.8" height="2.99" fill="url(#c73)"/><rect x="385.2" y="160.01" width="151.8" height="2.99" fill="url(#c74)"/><rect x="385.2" y="162.01" width="151.8" height="1.99" fill="url(#c75)"/></g>
<rect x="539.6" y="12.5" width="6.7" height="151.5" fill="url(#cb)"/>
<line x1="546.5" x2="549.8" y1="12.9" y2="12.9" stroke="#1a1a1a" stroke-width="1"/>
<text x="552.2" y="16.1" font-size="8.8">1.25</text>
<line x1="546.5" x2="549.8" y1="88.2" y2="88.2" stroke="#1a1a1a" stroke-width="1"/>
<text x="552.2" y="91.5" font-size="8.8">0.00</text>
<line x1="546.5" x2="549.8" y1="163.6" y2="163.6" stroke="#1a1a1a" stroke-width="1"/>
<text x="552.2" y="166.8" font-size="8.8">−1.25</text>
<path d="M113.4 113.5A31.5 25.2 0 1 1 113.4 63.0A31.5 25.2 0 1 1 113.4 113.5" fill="none" stroke="#d41a21" stroke-width="2" stroke-dasharray="7.45 3.3"/>
<path d="M111.8 86.7L115.2 90.2M111.8 90.2L115.2 86.7" stroke="#c4141c" stroke-width="1.0" fill="none"/>
<text x="38.9" y="176.8" font-size="8.8" text-anchor="middle">−10</text>
<text x="32.0" y="165.4" font-size="8.8" text-anchor="end">−10</text>
<text x="75.9" y="176.8" font-size="8.8" text-anchor="middle">−5</text>
<text x="32.0" y="128.4" font-size="8.8" text-anchor="end">−5</text>
<text x="112.9" y="176.8" font-size="8.8" text-anchor="middle">0</text>
<text x="32.0" y="91.5" font-size="8.8" text-anchor="end">0</text>
<text x="149.9" y="176.8" font-size="8.8" text-anchor="middle">5</text>
<text x="32.0" y="54.5" font-size="8.8" text-anchor="end">5</text>
<text x="186.9" y="176.8" font-size="8.8" text-anchor="middle">10</text>
<text x="32.0" y="17.5" font-size="8.8" text-anchor="end">10</text>
<g transform="translate(113.2 188.2)" font-size="9.6"><text x="-14.9" font-style="italic">u</text><text x="-13.8" y="-4.7" font-size="7.4">~</text><text x="-6.7">/ mm</text></g>
<g transform="translate(10.9 88.2) rotate(-90)" font-size="9.6"><text x="-14.9" font-style="italic">v</text><text x="-13.8" y="-4.7" font-size="7.4">~</text><text x="-6.7">/ mm</text></g>
<text x="113.3" y="8.4" font-size="9.9" text-anchor="middle" fill="#000"><tspan font-weight="bold" font-size="10.2" letter-spacing="0.55">(a)</tspan> number of counts</text>
<path d="M287.4 113.5A31.5 25.2 0 1 1 287.4 63.0A31.5 25.2 0 1 1 287.4 113.5" fill="none" stroke="#d41a21" stroke-width="2" stroke-dasharray="7.45 3.3"/>
<path d="M285.7 86.7L289.2 90.2M285.7 90.2L289.2 86.7" stroke="#c4141c" stroke-width="1.0" fill="none"/>
<text x="212.8" y="176.8" font-size="8.8" text-anchor="middle">−10</text>
<text x="249.8" y="176.8" font-size="8.8" text-anchor="middle">−5</text>
<text x="286.9" y="176.8" font-size="8.8" text-anchor="middle">0</text>
<text x="323.9" y="176.8" font-size="8.8" text-anchor="middle">5</text>
<text x="360.9" y="176.8" font-size="8.8" text-anchor="middle">10</text>
<g transform="translate(287.2 188.2)" font-size="9.6"><text x="-14.9" font-style="italic">u</text><text x="-13.8" y="-4.7" font-size="7.4">~</text><text x="-6.7">/ mm</text></g>
<text x="287.2" y="8.4" font-size="9.9" text-anchor="middle" fill="#000"><tspan font-weight="bold" font-size="10.2" letter-spacing="0.55">(b)</tspan> avg. WEPL / mm (no phantom)</text>
<path d="M461.6 113.5A31.5 25.2 0 1 1 461.6 63.0A31.5 25.2 0 1 1 461.6 113.5" fill="none" stroke="#d41a21" stroke-width="2" stroke-dasharray="7.45 3.3"/>
<path d="M460.0 86.7L463.5 90.2M460.0 90.2L463.5 86.7" stroke="#c4141c" stroke-width="1.0" fill="none"/>
<text x="387.1" y="176.8" font-size="8.8" text-anchor="middle">−10</text>
<text x="424.1" y="176.8" font-size="8.8" text-anchor="middle">−5</text>
<text x="461.1" y="176.8" font-size="8.8" text-anchor="middle">0</text>
<text x="498.1" y="176.8" font-size="8.8" text-anchor="middle">5</text>
<text x="535.1" y="176.8" font-size="8.8" text-anchor="middle">10</text>
<g transform="translate(461.4 188.2)" font-size="9.6"><text x="-14.9" font-style="italic">u</text><text x="-13.8" y="-4.7" font-size="7.4">~</text><text x="-6.7">/ mm</text></g>
<text x="462.3" y="8.4" font-size="9.9" text-anchor="middle" fill="#000"><tspan font-weight="bold" font-size="10.2" letter-spacing="0.55">(c)</tspan> correction Δ<tspan font-size="6.3" dy="1.9">WEPL</tspan><tspan dy="-1.9"> / mm</tspan></text>
<rect x="36.2" y="209.1" width="153.9" height="151.9" fill="#eaeaf2"/>
<line x1="36.2" x2="36.2" y1="209.1" y2="361.0" stroke="#fff" stroke-width="0.85"/>
<line x1="74.7" x2="74.7" y1="209.1" y2="361.0" stroke="#fff" stroke-width="0.85"/>
<line x1="113.1" x2="113.1" y1="209.1" y2="361.0" stroke="#fff" stroke-width="0.85"/>
<line x1="151.6" x2="151.6" y1="209.1" y2="361.0" stroke="#fff" stroke-width="0.85"/>
<line x1="190.1" x2="190.1" y1="209.1" y2="361.0" stroke="#fff" stroke-width="0.85"/>
<line x1="36.2" x2="190.1" y1="209.1" y2="209.1" stroke="#fff" stroke-width="0.85"/>
<line x1="36.2" x2="190.1" y1="239.5" y2="239.5" stroke="#fff" stroke-width="0.85"/>
<line x1="36.2" x2="190.1" y1="269.9" y2="269.9" stroke="#fff" stroke-width="0.85"/>
<line x1="36.2" x2="190.1" y1="300.2" y2="300.2" stroke="#fff" stroke-width="0.85"/>
<line x1="36.2" x2="190.1" y1="330.6" y2="330.6" stroke="#fff" stroke-width="0.85"/>
<line x1="36.2" x2="190.1" y1="361.0" y2="361.0" stroke="#fff" stroke-width="0.85"/>
<clipPath id="dclip"><rect x="36.2" y="207.1" width="153.9" height="155.9"/></clipPath>
<g clip-path="url(#dclip)" fill="none" stroke-linejoin="round">
<line x1="80.7" x2="80.7" y1="361.6" y2="345.1" stroke="#35a046" stroke-width="1.1"/>
<line x1="113.6" x2="113.6" y1="361.6" y2="324.2" stroke="#35a046" stroke-width="1.1"/>
<line x1="146.9" x2="146.9" y1="361.6" y2="345.8" stroke="#35a046" stroke-width="1.1"/>
<path d="M36.2 213.2L38.8 215.4L42.1 220.9L45.0 222.0L48.7 227.5L52.0 234.1L55.3 238.5L58.2 245.8L61.9 246.3L66.3 250.2L70.7 255.1L75.1 261.7L78.0 266.1L81.1 265.4L84.0 271.6L86.8 274.5L90.5 282.0L93.8 283.0L98.2 288.0L103.7 293.5L109.2 299.1L112.5 299.1L116.9 304.6L120.2 305.2L124.6 309.0L129.1 312.7L134.6 314.5L139.0 318.9L143.4 320.8L147.6 322.7L150.9 325.3L154.3 322.7L157.7 327.3L161.9 330.3L165.3 329.5L167.8 327.8L171.1 329.0L173.7 332.0L176.7 321.5L179.6 328.6L182.1 335.4L184.6 337.4L187.1 335.4L189.3 319.9L190.1 318.0" stroke="#1f4fa0" stroke-width="1.75"/>
<path d="M36.2 229.8L40.0 233.8L43.9 237.8L47.7 241.7L51.6 245.5L55.4 249.3L59.3 253.0L63.1 256.7L67.0 260.3L70.8 263.8L74.7 267.3L78.5 270.7L82.4 274.0L86.2 277.3L90.1 280.5L93.9 283.6L97.8 286.7L101.6 289.7L105.5 292.7L109.3 295.6L113.1 298.4L117.0 301.2L120.8 303.9L124.7 306.5L128.5 309.1L132.4 311.6L136.2 314.0L140.1 316.4L143.9 318.7L147.8 321.0L151.6 323.2L155.5 325.3L159.3 327.4L163.2 329.4L167.0 331.3L170.9 333.2L174.7 335.0L178.6 336.7L182.4 338.4L186.3 340.0L190.1 341.6" stroke="#d9601a" stroke-width="1.75" stroke-dasharray="6.3 2.7"/>
<path d="M36.2 360.5L45.5 359.0L53.3 357.1L61.1 354.8L68.9 352.0L75.1 348.9L80.0 345.0L85.9 341.1L92.2 335.6L98.4 331.0L104.6 326.3L109.3 324.6L112.0 323.4L113.9 323.9L115.8 322.9L118.5 323.6L121.5 324.6L126.5 327.2L132.0 331.5L137.0 335.6L141.7 339.6L146.7 345.1L151.5 349.3L156.8 353.0L162.5 355.4L168.6 357.2L178.0 359.0L188.8 360.3L190.1 360.4" stroke="#17803d" stroke-width="1.75" stroke-dasharray="10.7 2.8 1.8 2.8"/>
</g>
<rect x="103.3" y="212.8" width="82.5" height="41.8" rx="2.2" fill="#eaeaf2" fill-opacity="0.8" stroke="#ccc" stroke-width="0.8"/>
<line x1="106.8" x2="125.9" y1="220.6" y2="220.6" stroke="#1f4fa0" stroke-width="1.75"/>
<line x1="107.2" x2="125.0" y1="233.0" y2="233.0" stroke="#d9601a" stroke-width="1.75" stroke-dasharray="6.3 2.7"/>
<line x1="107.2" x2="125.0" y1="246.0" y2="246.0" stroke="#17803d" stroke-width="1.75" stroke-dasharray="10.7 2.8 1.8 2.8"/>
<text x="132.4" y="223.8" font-size="8.8">avg. WEPL</text>
<text x="132.4" y="236.4" font-size="8.8">correction</text>
<text x="132.4" y="249.2" font-size="8.8">counts (a.u.)</text>
<line x1="32.2" x2="35.6" y1="209.1" y2="209.1" stroke="#1a1a1a" stroke-width="1"/>
<text x="29.8" y="212.3" font-size="8.8" text-anchor="end">0.5</text>
<line x1="32.2" x2="35.6" y1="239.5" y2="239.5" stroke="#1a1a1a" stroke-width="1"/>
<text x="29.8" y="242.7" font-size="8.8" text-anchor="end">0.0</text>
<line x1="32.2" x2="35.6" y1="269.9" y2="269.9" stroke="#1a1a1a" stroke-width="1"/>
<text x="29.8" y="273.1" font-size="8.8" text-anchor="end">−0.5</text>
<line x1="32.2" x2="35.6" y1="300.2" y2="300.2" stroke="#1a1a1a" stroke-width="1"/>
<text x="29.8" y="303.4" font-size="8.8" text-anchor="end">−1.0</text>
<line x1="32.2" x2="35.6" y1="330.6" y2="330.6" stroke="#1a1a1a" stroke-width="1"/>
<text x="29.8" y="333.8" font-size="8.8" text-anchor="end">−1.5</text>
<line x1="32.2" x2="35.6" y1="361.0" y2="361.0" stroke="#1a1a1a" stroke-width="1"/>
<text x="29.8" y="364.2" font-size="8.8" text-anchor="end">−2.0</text>
<text x="35.9" y="373.3" font-size="8.8" text-anchor="middle">−10</text>
<text x="74.4" y="373.3" font-size="8.8" text-anchor="middle">−5</text>
<text x="112.8" y="373.3" font-size="8.8" text-anchor="middle">0</text>
<text x="151.3" y="373.3" font-size="8.8" text-anchor="middle">5</text>
<text x="189.8" y="373.3" font-size="8.8" text-anchor="middle">10</text>
<g transform="translate(113.4 385.1)" font-size="9.6"><text x="-14.9" font-style="italic">u</text><text x="-13.8" y="-4.7" font-size="7.4">~</text><text x="-6.7">/ mm</text></g>
<text transform="translate(7.8 284.8) rotate(-90)" font-size="9.6" text-anchor="middle">WEPL / mm</text>
<text x="113.4" y="204.8" font-size="9.9" text-anchor="middle" fill="#000"><tspan font-weight="bold" font-size="10.2" letter-spacing="0.55">(d)</tspan> central profiles</text>
<rect x="211.0" y="209.1" width="152.0" height="151.9" fill="#000"/>
<circle cx="287.45" cy="285.05" r="63.0" fill="#fff"/>
<clipPath id="k1"><circle cx="286.95" cy="284.45" r="58.9"/></clipPath>
<g clip-path="url(#k1)"><rect x="227.0" y="225.1" width="120" height="120" filter="url(#nz1)"/>
<circle cx="286.0" cy="284.6" r="59.3" fill="url(#rg)"/>
</g>
<text x="287.4" y="204.8" font-size="9.9" text-anchor="middle" fill="#000"><tspan font-weight="bold" font-size="10.2" letter-spacing="0.55">(e)</tspan> uncorrected</text>
<text x="211.2" y="370.2" font-size="9.6" fill="#000">C/W = 1.00/0.20</text>
<rect x="385.0" y="209.1" width="152.3" height="151.9" fill="#000"/>
<circle cx="461.60" cy="285.05" r="63.0" fill="#fff"/>
<clipPath id="k2"><circle cx="461.10" cy="284.45" r="58.9"/></clipPath>
<g clip-path="url(#k2)"><rect x="401.1" y="225.1" width="120" height="120" filter="url(#nz2)"/>
<circle cx="460.1" cy="284.1" r="21" fill="url(#dk)"/>
</g>
<text x="461.5" y="204.8" font-size="9.9" text-anchor="middle" fill="#000"><tspan font-weight="bold" font-size="10.2" letter-spacing="0.55">(f)</tspan> corrected</text>
<text x="385.2" y="370.2" font-size="9.6" fill="#000">C/W = 1.00/0.20</text>
</svg>
</body></html>
